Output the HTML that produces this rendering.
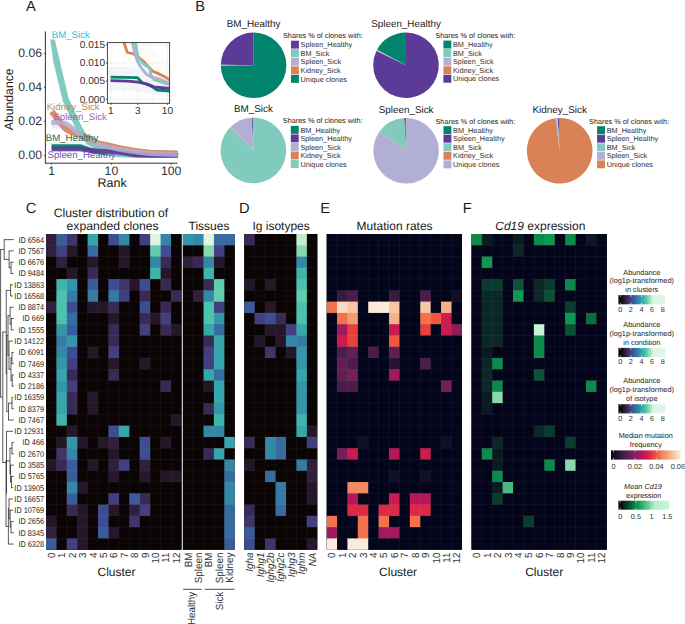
<!DOCTYPE html>
<html><head><meta charset="utf-8"><style>
html,body{margin:0;padding:0;background:#fff;}
svg{display:block;}
svg text{font-family:"Liberation Sans",sans-serif;text-rendering:geometricPrecision;}
</style></head><body>
<svg width="685" height="624" viewBox="0 0 685 624">
<rect width="685" height="624" fill="#fff"/>
<g>
<polygon points="51.60,119.50 65.00,119.50 80.00,130.00 100.00,141.00 140.00,149.00 179.00,151.50 179.00,156.50 140.00,154.00 100.00,147.00 80.00,137.00 65.00,128.50 51.60,128.50" fill="#c9c7e3" fill-opacity="0.35" />
<polygon points="51.60,141.80 80.00,141.80 110.00,150.00 179.00,153.00 179.00,158.00 110.00,157.00 80.00,152.00 51.60,152.00" fill="#b9dcd8" fill-opacity="0.3" />
<polyline points="51.60,146.50 80.00,146.50 87.00,149.00 95.00,151.50 105.00,153.00 118.00,154.00 140.00,155.00 177.60,155.30" fill="none" stroke="#00846e" stroke-width="4.6" stroke-opacity="0.95" stroke-linejoin="round" stroke-linecap="butt" />
<polygon points="50.20,39.50 54.80,39.50 60.10,62.00 53.40,62.00" fill="#80cbbe" fill-opacity="1" />
<polyline points="56.00,59.00 61.00,80.00 65.80,100.00 69.40,107.50 73.50,116.50 77.50,125.00 81.00,131.50 85.00,137.50 90.00,142.50 100.00,148.00 110.00,152.00 118.00,154.00 135.00,154.60 150.00,154.60 177.60,154.60" fill="none" stroke="#80cbbe" stroke-width="6.4" stroke-opacity="1" stroke-linejoin="round" stroke-linecap="butt" />
<polyline points="51.80,111.50 56.00,117.30 60.00,122.50 64.00,127.00 67.00,129.80 70.00,131.20 75.00,133.20 80.30,135.20 90.00,139.50 98.50,143.50 107.00,145.20 118.00,148.00 135.00,151.00 150.00,152.80 177.60,153.60" fill="none" stroke="#d98257" stroke-width="6.2" stroke-opacity="0.92" stroke-linejoin="round" stroke-linecap="butt" />
<polyline points="51.60,148.80 80.00,148.80 90.00,150.50 100.00,151.20 118.00,152.20 135.00,154.80 150.00,155.40 177.60,155.40" fill="none" stroke="#5c3a98" stroke-width="4.8" stroke-opacity="0.92" stroke-linejoin="round" stroke-linecap="butt" />
<polyline points="51.20,122.50 62.00,122.50 67.00,124.50 72.00,128.00 78.00,133.00 85.00,138.50 95.00,143.00 105.00,146.00 118.00,149.20 135.00,151.80 150.00,153.50 177.60,154.50" fill="none" stroke="#b1afd4" stroke-width="4.8" stroke-opacity="0.85" stroke-linejoin="round" stroke-linecap="butt" />
</g>
<line x1="45.4" y1="31.5" x2="45.4" y2="163.2" stroke="#1a1a1a" stroke-width="0.9"/>
<line x1="45.0" y1="163.2" x2="177.5" y2="163.2" stroke="#1a1a1a" stroke-width="0.9"/>
<line x1="43.8" y1="53.30" x2="45.4" y2="53.30" stroke="#333" stroke-width="0.8"/>
<text x="42.00" y="56.70" font-size="12.2" fill="#333333" text-anchor="end" >0.06</text>
<line x1="43.8" y1="87.30" x2="45.4" y2="87.30" stroke="#333" stroke-width="0.8"/>
<text x="42.00" y="90.70" font-size="12.2" fill="#333333" text-anchor="end" >0.04</text>
<line x1="43.8" y1="121.30" x2="45.4" y2="121.30" stroke="#333" stroke-width="0.8"/>
<text x="42.00" y="124.70" font-size="12.2" fill="#333333" text-anchor="end" >0.02</text>
<line x1="43.8" y1="155.30" x2="45.4" y2="155.30" stroke="#333" stroke-width="0.8"/>
<text x="42.00" y="158.70" font-size="12.2" fill="#333333" text-anchor="end" >0.00</text>
<line x1="51.60" y1="163.2" x2="51.60" y2="164.8" stroke="#333" stroke-width="0.8"/>
<text x="51.60" y="174.60" font-size="12.2" fill="#333333" text-anchor="middle" >1</text>
<line x1="111.40" y1="163.2" x2="111.40" y2="164.8" stroke="#333" stroke-width="0.8"/>
<text x="111.40" y="174.60" font-size="12.2" fill="#333333" text-anchor="middle" >10</text>
<line x1="171.20" y1="163.2" x2="171.20" y2="164.8" stroke="#333" stroke-width="0.8"/>
<text x="171.20" y="174.60" font-size="12.2" fill="#333333" text-anchor="middle" >100</text>
<text x="112.20" y="187.30" font-size="12.5" fill="#1a1a1a" text-anchor="middle" >Rank</text>
<text x="0.00" y="0.00" font-size="12.2" fill="#1a1a1a" text-anchor="middle" transform="translate(12.7,99.3) rotate(-90)">Abundance</text>
<text x="51.80" y="37.90" font-size="9.65" fill="#2ebfcf" text-anchor="start" >BM_Sick</text>
<text x="46.70" y="110.10" font-size="9.65" fill="#bf8b5a" text-anchor="start" >Kidney_Sick</text>
<text x="53.40" y="119.70" font-size="9.65" fill="#a462bd" text-anchor="start" >Spleen_Sick</text>
<text x="45.80" y="140.70" font-size="9.65" fill="#1c6e47" text-anchor="start" >BM_Healthy</text>
<text x="47.60" y="158.20" font-size="9.65" fill="#7355b8" text-anchor="start" >Spleen_Healthy</text>
<rect x="107.4" y="42.6" width="62.19999999999999" height="60.699999999999996" fill="#fff"/>
<clipPath id="ic"><rect x="107.4" y="42.6" width="62.2" height="60.7"/></clipPath>
<line x1="107.4" y1="90.15" x2="169.6" y2="90.15" stroke="#f2f2f2" stroke-width="0.5"/>
<line x1="107.4" y1="72.05" x2="169.6" y2="72.05" stroke="#f2f2f2" stroke-width="0.5"/>
<line x1="107.4" y1="53.95" x2="169.6" y2="53.95" stroke="#f2f2f2" stroke-width="0.5"/>
<line x1="124.30" y1="42.6" x2="124.30" y2="103.3" stroke="#f2f2f2" stroke-width="0.5"/>
<line x1="152.60" y1="42.6" x2="152.60" y2="103.3" stroke="#f2f2f2" stroke-width="0.5"/>
<line x1="107.4" y1="99.20" x2="169.6" y2="99.20" stroke="#ebebeb" stroke-width="0.7"/>
<line x1="107.4" y1="81.10" x2="169.6" y2="81.10" stroke="#ebebeb" stroke-width="0.7"/>
<line x1="107.4" y1="63.00" x2="169.6" y2="63.00" stroke="#ebebeb" stroke-width="0.7"/>
<line x1="107.4" y1="44.90" x2="169.6" y2="44.90" stroke="#ebebeb" stroke-width="0.7"/>
<line x1="110.80" y1="42.6" x2="110.80" y2="103.3" stroke="#ebebeb" stroke-width="0.7"/>
<line x1="137.81" y1="42.6" x2="137.81" y2="103.3" stroke="#ebebeb" stroke-width="0.7"/>
<line x1="167.40" y1="42.6" x2="167.40" y2="103.3" stroke="#ebebeb" stroke-width="0.7"/>
<g clip-path="url(#ic)">
<polygon points="107.00,67.00 130.00,67.00 145.00,70.00 170.00,80.00 170.00,96.00 145.00,93.00 130.00,90.00 107.00,90.00" fill="#dfe9ee" fill-opacity="0.4" />
<polygon points="125.00,42.00 145.00,42.00 170.00,62.00 170.00,84.00 150.00,76.00 138.00,60.00" fill="#fdf1ea" fill-opacity="0.3" />
<polyline points="110.60,77.20 137.20,77.60 142.40,82.70 151.80,86.40 157.00,90.00 170.00,91.00" fill="none" stroke="#00846e" stroke-width="2.8" stroke-opacity="1" stroke-linejoin="round" stroke-linecap="butt" />
<polyline points="110.60,80.60 127.80,81.10 138.20,82.20 146.60,83.80 153.90,86.90 170.00,88.40" fill="none" stroke="#5c3a98" stroke-width="2.8" stroke-opacity="1" stroke-linejoin="round" stroke-linecap="butt" />
<polyline points="122.50,38.00 127.30,52.50 132.50,53.50 138.20,56.70 144.50,62.40 148.70,67.10 152.80,71.30 159.10,73.90 165.30,77.00 170.00,80.50" fill="none" stroke="#d98257" stroke-width="2.8" stroke-opacity="1" stroke-linejoin="round" stroke-linecap="butt" />
<polyline points="134.60,38.00 136.70,50.40 138.20,57.70 143.50,64.00 149.70,68.10 150.80,74.40 153.90,79.60 160.10,81.70 170.00,85.00" fill="none" stroke="#80cbbe" stroke-width="2.8" stroke-opacity="1" stroke-linejoin="round" stroke-linecap="butt" />
<polyline points="131.50,38.00 134.60,52.50 137.20,60.80 141.40,68.10 146.60,74.40 151.80,77.50 158.00,78.50 164.30,81.10 170.00,84.10" fill="none" stroke="#b1afd4" stroke-width="2.8" stroke-opacity="1" stroke-linejoin="round" stroke-linecap="butt" />
</g>
<rect x="107.4" y="42.6" width="62.19999999999999" height="60.699999999999996" fill="none" stroke="#333" stroke-width="0.9"/>
<line x1="105.80" y1="44.90" x2="107.40" y2="44.90" stroke="#333" stroke-width="0.8"/>
<text x="105.00" y="48.20" font-size="10.1" fill="#333333" text-anchor="end" >0.015</text>
<line x1="105.80" y1="63.00" x2="107.40" y2="63.00" stroke="#333" stroke-width="0.8"/>
<text x="105.00" y="66.30" font-size="10.1" fill="#333333" text-anchor="end" >0.010</text>
<line x1="105.80" y1="81.10" x2="107.40" y2="81.10" stroke="#333" stroke-width="0.8"/>
<text x="105.00" y="84.40" font-size="10.1" fill="#333333" text-anchor="end" >0.005</text>
<line x1="105.80" y1="99.20" x2="107.40" y2="99.20" stroke="#333" stroke-width="0.8"/>
<text x="105.00" y="102.50" font-size="10.1" fill="#333333" text-anchor="end" >0.000</text>
<line x1="110.80" y1="103.30" x2="110.80" y2="104.90" stroke="#333" stroke-width="0.8"/>
<text x="110.80" y="113.90" font-size="10.1" fill="#333333" text-anchor="middle" >1</text>
<line x1="137.81" y1="103.30" x2="137.81" y2="104.90" stroke="#333" stroke-width="0.8"/>
<text x="137.81" y="113.90" font-size="10.1" fill="#333333" text-anchor="middle" >3</text>
<line x1="167.40" y1="103.30" x2="167.40" y2="104.90" stroke="#333" stroke-width="0.8"/>
<text x="167.40" y="113.90" font-size="10.1" fill="#333333" text-anchor="middle" >10</text>
<text x="26.00" y="11.20" font-size="14.7" fill="#1a1a1a" text-anchor="start" >A</text>
<text x="195.20" y="11.20" font-size="14.7" fill="#1a1a1a" text-anchor="start" >B</text>
<text x="25.80" y="212.60" font-size="14.7" fill="#1a1a1a" text-anchor="start" >C</text>
<text x="239.00" y="212.60" font-size="14.7" fill="#1a1a1a" text-anchor="start" >D</text>
<text x="320.30" y="212.60" font-size="14.7" fill="#1a1a1a" text-anchor="start" >E</text>
<text x="462.80" y="212.60" font-size="14.7" fill="#1a1a1a" text-anchor="start" >F</text>
<path d="M253.60,65.30 L253.60,32.50 A32.8,32.8 0 0 0 220.80,64.73 Z" fill="#5c3a98"/>
<path d="M253.60,65.30 L220.80,64.73 A32.8,32.8 0 0 0 220.80,65.24 Z" fill="#80cbbe"/>
<path d="M253.60,65.30 L220.80,65.24 A32.8,32.8 0 0 0 220.80,65.47 Z" fill="#b1afd4"/>
<path d="M253.60,65.30 L220.80,65.47 A32.8,32.8 0 0 0 220.80,65.82 Z" fill="#d98257"/>
<path d="M253.60,65.30 L220.80,65.82 A32.8,32.8 0 1 0 253.60,32.50 Z" fill="#00846e"/>
<text x="253.60" y="27.00" font-size="9.9" fill="#1a1a1a" text-anchor="middle" >BM_Healthy</text>
<text x="283.00" y="38.10" font-size="7.3" fill="#1a1a1a" text-anchor="start" >Shares % of clones with:</text>
<rect x="291.00" y="40.70" width="7.9" height="7.9" fill="#5c3a98"/>
<text x="300.60" y="47.30" font-size="7.3" fill="#333333" text-anchor="start" >Spleen_Healthy</text>
<rect x="291.00" y="49.25" width="7.9" height="7.9" fill="#80cbbe"/>
<text x="300.60" y="55.85" font-size="7.3" fill="#333333" text-anchor="start" >BM_Sick</text>
<rect x="291.00" y="57.80" width="7.9" height="7.9" fill="#b1afd4"/>
<text x="300.60" y="64.40" font-size="7.3" fill="#333333" text-anchor="start" >Spleen_Sick</text>
<rect x="291.00" y="66.35" width="7.9" height="7.9" fill="#d98257"/>
<text x="300.60" y="72.95" font-size="7.3" fill="#333333" text-anchor="start" >Kidney_Sick</text>
<rect x="291.00" y="74.90" width="7.9" height="7.9" fill="#00846e"/>
<text x="300.60" y="81.50" font-size="7.3" fill="#333333" text-anchor="start" >Unique clones</text>
<path d="M406.00,65.20 L406.00,32.40 A32.8,32.8 0 0 0 377.04,49.80 Z" fill="#00846e"/>
<path d="M406.00,65.20 L377.04,49.80 A32.8,32.8 0 0 0 376.77,50.31 Z" fill="#80cbbe"/>
<path d="M406.00,65.20 L376.77,50.31 A32.8,32.8 0 0 0 376.62,50.62 Z" fill="#b1afd4"/>
<path d="M406.00,65.20 L376.62,50.62 A32.8,32.8 0 0 0 376.42,51.03 Z" fill="#d98257"/>
<path d="M406.00,65.20 L376.42,51.03 A32.8,32.8 0 1 0 406.00,32.40 Z" fill="#5c3a98"/>
<text x="406.00" y="26.90" font-size="9.9" fill="#1a1a1a" text-anchor="middle" >Spleen_Healthy</text>
<text x="435.40" y="38.00" font-size="7.3" fill="#1a1a1a" text-anchor="start" >Shares % of clones with:</text>
<rect x="443.40" y="40.60" width="7.9" height="7.9" fill="#00846e"/>
<text x="453.00" y="47.20" font-size="7.3" fill="#333333" text-anchor="start" >BM_Healthy</text>
<rect x="443.40" y="49.15" width="7.9" height="7.9" fill="#80cbbe"/>
<text x="453.00" y="55.75" font-size="7.3" fill="#333333" text-anchor="start" >BM_Sick</text>
<rect x="443.40" y="57.70" width="7.9" height="7.9" fill="#b1afd4"/>
<text x="453.00" y="64.30" font-size="7.3" fill="#333333" text-anchor="start" >Spleen_Sick</text>
<rect x="443.40" y="66.25" width="7.9" height="7.9" fill="#d98257"/>
<text x="453.00" y="72.85" font-size="7.3" fill="#333333" text-anchor="start" >Kidney_Sick</text>
<rect x="443.40" y="74.80" width="7.9" height="7.9" fill="#5c3a98"/>
<text x="453.00" y="81.40" font-size="7.3" fill="#333333" text-anchor="start" >Unique clones</text>
<path d="M253.40,150.50 L253.40,117.70 A32.8,32.8 0 0 0 252.71,117.71 Z" fill="#00846e"/>
<path d="M253.40,150.50 L252.71,117.71 A32.8,32.8 0 0 0 251.57,117.75 Z" fill="#5c3a98"/>
<path d="M253.40,150.50 L251.57,117.75 A32.8,32.8 0 0 0 230.74,126.79 Z" fill="#b1afd4"/>
<path d="M253.40,150.50 L230.74,126.79 A32.8,32.8 0 0 0 230.45,127.07 Z" fill="#d98257"/>
<path d="M253.40,150.50 L230.45,127.07 A32.8,32.8 0 1 0 253.40,117.70 Z" fill="#80cbbe"/>
<text x="253.40" y="112.20" font-size="9.9" fill="#1a1a1a" text-anchor="middle" >BM_Sick</text>
<text x="282.80" y="123.30" font-size="7.3" fill="#1a1a1a" text-anchor="start" >Shares % of clones with:</text>
<rect x="290.80" y="125.90" width="7.9" height="7.9" fill="#00846e"/>
<text x="300.40" y="132.50" font-size="7.3" fill="#333333" text-anchor="start" >BM_Healthy</text>
<rect x="290.80" y="134.45" width="7.9" height="7.9" fill="#5c3a98"/>
<text x="300.40" y="141.05" font-size="7.3" fill="#333333" text-anchor="start" >Spleen_Healthy</text>
<rect x="290.80" y="143.00" width="7.9" height="7.9" fill="#b1afd4"/>
<text x="300.40" y="149.60" font-size="7.3" fill="#333333" text-anchor="start" >Spleen_Sick</text>
<rect x="290.80" y="151.55" width="7.9" height="7.9" fill="#d98257"/>
<text x="300.40" y="158.15" font-size="7.3" fill="#333333" text-anchor="start" >Kidney_Sick</text>
<rect x="290.80" y="160.10" width="7.9" height="7.9" fill="#80cbbe"/>
<text x="300.40" y="166.70" font-size="7.3" fill="#333333" text-anchor="start" >Unique clones</text>
<path d="M406.10,150.80 L406.10,118.00 A32.8,32.8 0 0 0 405.24,118.01 Z" fill="#00846e"/>
<path d="M406.10,150.80 L405.24,118.01 A32.8,32.8 0 0 0 404.10,118.06 Z" fill="#5c3a98"/>
<path d="M406.10,150.80 L404.10,118.06 A32.8,32.8 0 0 0 379.73,131.29 Z" fill="#80cbbe"/>
<path d="M406.10,150.80 L379.73,131.29 A32.8,32.8 0 0 0 379.50,131.61 Z" fill="#d98257"/>
<path d="M406.10,150.80 L379.50,131.61 A32.8,32.8 0 1 0 406.10,118.00 Z" fill="#b1afd4"/>
<text x="406.10" y="112.50" font-size="9.9" fill="#1a1a1a" text-anchor="middle" >Spleen_Sick</text>
<text x="435.50" y="123.60" font-size="7.3" fill="#1a1a1a" text-anchor="start" >Shares % of clones with:</text>
<rect x="443.50" y="126.20" width="7.9" height="7.9" fill="#00846e"/>
<text x="453.10" y="132.80" font-size="7.3" fill="#333333" text-anchor="start" >BM_Healthy</text>
<rect x="443.50" y="134.75" width="7.9" height="7.9" fill="#5c3a98"/>
<text x="453.10" y="141.35" font-size="7.3" fill="#333333" text-anchor="start" >Spleen_Healthy</text>
<rect x="443.50" y="143.30" width="7.9" height="7.9" fill="#80cbbe"/>
<text x="453.10" y="149.90" font-size="7.3" fill="#333333" text-anchor="start" >BM_Sick</text>
<rect x="443.50" y="151.85" width="7.9" height="7.9" fill="#d98257"/>
<text x="453.10" y="158.45" font-size="7.3" fill="#333333" text-anchor="start" >Kidney_Sick</text>
<rect x="443.50" y="160.40" width="7.9" height="7.9" fill="#b1afd4"/>
<text x="453.10" y="167.00" font-size="7.3" fill="#333333" text-anchor="start" >Unique clones</text>
<path d="M559.70,150.80 L559.70,118.00 A32.8,32.8 0 0 0 558.78,118.01 Z" fill="#00846e"/>
<path d="M559.70,150.80 L558.78,118.01 A32.8,32.8 0 0 0 557.64,118.06 Z" fill="#5c3a98"/>
<path d="M559.70,150.80 L557.64,118.06 A32.8,32.8 0 0 0 556.67,118.14 Z" fill="#80cbbe"/>
<path d="M559.70,150.80 L556.67,118.14 A32.8,32.8 0 0 0 555.70,118.24 Z" fill="#b1afd4"/>
<path d="M559.70,150.80 L555.70,118.24 A32.8,32.8 0 1 0 559.70,118.00 Z" fill="#d98257"/>
<text x="559.70" y="112.50" font-size="9.9" fill="#1a1a1a" text-anchor="middle" >Kidney_Sick</text>
<text x="589.10" y="123.60" font-size="7.3" fill="#1a1a1a" text-anchor="start" >Shares % of clones with:</text>
<rect x="597.10" y="126.20" width="7.9" height="7.9" fill="#00846e"/>
<text x="606.70" y="132.80" font-size="7.3" fill="#333333" text-anchor="start" >BM_Healthy</text>
<rect x="597.10" y="134.75" width="7.9" height="7.9" fill="#5c3a98"/>
<text x="606.70" y="141.35" font-size="7.3" fill="#333333" text-anchor="start" >Spleen_Healthy</text>
<rect x="597.10" y="143.30" width="7.9" height="7.9" fill="#80cbbe"/>
<text x="606.70" y="149.90" font-size="7.3" fill="#333333" text-anchor="start" >BM_Sick</text>
<rect x="597.10" y="151.85" width="7.9" height="7.9" fill="#b1afd4"/>
<text x="606.70" y="158.45" font-size="7.3" fill="#333333" text-anchor="start" >Spleen_Sick</text>
<rect x="597.10" y="160.40" width="7.9" height="7.9" fill="#d98257"/>
<text x="606.70" y="167.00" font-size="7.3" fill="#333333" text-anchor="start" >Unique clones</text>
<rect x="46.0" y="234.0" width="135.4" height="315.70" fill="#0b0405"/>
<rect x="46.00" y="234.00" width="135.40" height="315.70" fill="#0b0405"/>
<clipPath id="hc46"><rect x="46.00" y="234.00" width="135.40" height="315.70"/></clipPath>
<g clip-path="url(#hc46)">
<rect x="46.00" y="234.00" width="11.12" height="11.97" fill="#30203e"/>
<rect x="56.42" y="234.00" width="11.12" height="11.97" fill="#395d9c"/>
<rect x="66.83" y="234.00" width="11.12" height="11.97" fill="#3e356b"/>
<rect x="77.25" y="234.00" width="11.12" height="11.97" fill="#0b0405"/>
<rect x="87.66" y="234.00" width="11.12" height="11.97" fill="#37a5ac"/>
<rect x="98.08" y="234.00" width="11.12" height="11.97" fill="#0b0405"/>
<rect x="108.49" y="234.00" width="11.12" height="11.97" fill="#3e4d93"/>
<rect x="118.91" y="234.00" width="11.12" height="11.97" fill="#3488a6"/>
<rect x="129.32" y="234.00" width="11.12" height="11.97" fill="#0b0405"/>
<rect x="139.74" y="234.00" width="11.12" height="11.97" fill="#413f80"/>
<rect x="150.15" y="234.00" width="11.12" height="11.97" fill="#def5e5"/>
<rect x="160.57" y="234.00" width="11.12" height="11.97" fill="#3488a6"/>
<rect x="170.98" y="234.00" width="11.12" height="11.97" fill="#0b0405"/>
<rect x="46.00" y="245.28" width="11.12" height="11.97" fill="#30203e"/>
<rect x="56.42" y="245.28" width="11.12" height="11.97" fill="#413f80"/>
<rect x="66.83" y="245.28" width="11.12" height="11.97" fill="#251729"/>
<rect x="77.25" y="245.28" width="11.12" height="11.97" fill="#0b0405"/>
<rect x="87.66" y="245.28" width="11.12" height="11.97" fill="#366ca0"/>
<rect x="98.08" y="245.28" width="11.12" height="11.97" fill="#0b0405"/>
<rect x="108.49" y="245.28" width="11.12" height="11.97" fill="#0b0405"/>
<rect x="118.91" y="245.28" width="11.12" height="11.97" fill="#251729"/>
<rect x="129.32" y="245.28" width="11.12" height="11.97" fill="#0b0405"/>
<rect x="139.74" y="245.28" width="11.12" height="11.97" fill="#0b0405"/>
<rect x="150.15" y="245.28" width="11.12" height="11.97" fill="#60ceac"/>
<rect x="160.57" y="245.28" width="11.12" height="11.97" fill="#3e4d93"/>
<rect x="170.98" y="245.28" width="11.12" height="11.97" fill="#0b0405"/>
<rect x="46.00" y="256.55" width="11.12" height="11.97" fill="#0b0405"/>
<rect x="56.42" y="256.55" width="11.12" height="11.97" fill="#30203e"/>
<rect x="66.83" y="256.55" width="11.12" height="11.97" fill="#0b0405"/>
<rect x="77.25" y="256.55" width="11.12" height="11.97" fill="#0b0405"/>
<rect x="87.66" y="256.55" width="11.12" height="11.97" fill="#251729"/>
<rect x="98.08" y="256.55" width="11.12" height="11.97" fill="#0b0405"/>
<rect x="108.49" y="256.55" width="11.12" height="11.97" fill="#0b0405"/>
<rect x="118.91" y="256.55" width="11.12" height="11.97" fill="#251729"/>
<rect x="129.32" y="256.55" width="11.12" height="11.97" fill="#0b0405"/>
<rect x="139.74" y="256.55" width="11.12" height="11.97" fill="#0b0405"/>
<rect x="150.15" y="256.55" width="11.12" height="11.97" fill="#3488a6"/>
<rect x="160.57" y="256.55" width="11.12" height="11.97" fill="#382a54"/>
<rect x="170.98" y="256.55" width="11.12" height="11.97" fill="#0b0405"/>
<rect x="46.00" y="267.82" width="11.12" height="11.97" fill="#0b0405"/>
<rect x="56.42" y="267.82" width="11.12" height="11.97" fill="#0b0405"/>
<rect x="66.83" y="267.82" width="11.12" height="11.97" fill="#251729"/>
<rect x="77.25" y="267.82" width="11.12" height="11.97" fill="#0b0405"/>
<rect x="87.66" y="267.82" width="11.12" height="11.97" fill="#382a54"/>
<rect x="98.08" y="267.82" width="11.12" height="11.97" fill="#0b0405"/>
<rect x="108.49" y="267.82" width="11.12" height="11.97" fill="#0b0405"/>
<rect x="118.91" y="267.82" width="11.12" height="11.97" fill="#0b0405"/>
<rect x="129.32" y="267.82" width="11.12" height="11.97" fill="#0b0405"/>
<rect x="139.74" y="267.82" width="11.12" height="11.97" fill="#0b0405"/>
<rect x="150.15" y="267.82" width="11.12" height="11.97" fill="#3eb4ad"/>
<rect x="160.57" y="267.82" width="11.12" height="11.97" fill="#251729"/>
<rect x="170.98" y="267.82" width="11.12" height="11.97" fill="#0b0405"/>
<rect x="46.00" y="279.10" width="11.12" height="11.97" fill="#0b0405"/>
<rect x="56.42" y="279.10" width="11.12" height="11.97" fill="#3eb4ad"/>
<rect x="66.83" y="279.10" width="11.12" height="11.97" fill="#3497a9"/>
<rect x="77.25" y="279.10" width="11.12" height="11.97" fill="#0b0405"/>
<rect x="87.66" y="279.10" width="11.12" height="11.97" fill="#395d9c"/>
<rect x="98.08" y="279.10" width="11.12" height="11.97" fill="#0b0405"/>
<rect x="108.49" y="279.10" width="11.12" height="11.97" fill="#3e4d93"/>
<rect x="118.91" y="279.10" width="11.12" height="11.97" fill="#3e356b"/>
<rect x="129.32" y="279.10" width="11.12" height="11.97" fill="#251729"/>
<rect x="139.74" y="279.10" width="11.12" height="11.97" fill="#3e4d93"/>
<rect x="150.15" y="279.10" width="11.12" height="11.97" fill="#0b0405"/>
<rect x="160.57" y="279.10" width="11.12" height="11.97" fill="#382a54"/>
<rect x="170.98" y="279.10" width="11.12" height="11.97" fill="#0b0405"/>
<rect x="46.00" y="290.38" width="11.12" height="11.97" fill="#0b0405"/>
<rect x="56.42" y="290.38" width="11.12" height="11.97" fill="#4bc2ad"/>
<rect x="66.83" y="290.38" width="11.12" height="11.97" fill="#357ba3"/>
<rect x="77.25" y="290.38" width="11.12" height="11.97" fill="#0b0405"/>
<rect x="87.66" y="290.38" width="11.12" height="11.97" fill="#357ba3"/>
<rect x="98.08" y="290.38" width="11.12" height="11.97" fill="#0b0405"/>
<rect x="108.49" y="290.38" width="11.12" height="11.97" fill="#357ba3"/>
<rect x="118.91" y="290.38" width="11.12" height="11.97" fill="#413f80"/>
<rect x="129.32" y="290.38" width="11.12" height="11.97" fill="#0b0405"/>
<rect x="139.74" y="290.38" width="11.12" height="11.97" fill="#382a54"/>
<rect x="150.15" y="290.38" width="11.12" height="11.97" fill="#0b0405"/>
<rect x="160.57" y="290.38" width="11.12" height="11.97" fill="#0b0405"/>
<rect x="170.98" y="290.38" width="11.12" height="11.97" fill="#382a54"/>
<rect x="46.00" y="301.65" width="11.12" height="11.97" fill="#30203e"/>
<rect x="56.42" y="301.65" width="11.12" height="11.97" fill="#4bc2ad"/>
<rect x="66.83" y="301.65" width="11.12" height="11.97" fill="#3e4d93"/>
<rect x="77.25" y="301.65" width="11.12" height="11.97" fill="#0b0405"/>
<rect x="87.66" y="301.65" width="11.12" height="11.97" fill="#251729"/>
<rect x="98.08" y="301.65" width="11.12" height="11.97" fill="#251729"/>
<rect x="108.49" y="301.65" width="11.12" height="11.97" fill="#382a54"/>
<rect x="118.91" y="301.65" width="11.12" height="11.97" fill="#0b0405"/>
<rect x="129.32" y="301.65" width="11.12" height="11.97" fill="#0b0405"/>
<rect x="139.74" y="301.65" width="11.12" height="11.97" fill="#3e4d93"/>
<rect x="150.15" y="301.65" width="11.12" height="11.97" fill="#0b0405"/>
<rect x="160.57" y="301.65" width="11.12" height="11.97" fill="#382a54"/>
<rect x="170.98" y="301.65" width="11.12" height="11.97" fill="#0b0405"/>
<rect x="46.00" y="312.93" width="11.12" height="11.97" fill="#0b0405"/>
<rect x="56.42" y="312.93" width="11.12" height="11.97" fill="#4bc2ad"/>
<rect x="66.83" y="312.93" width="11.12" height="11.97" fill="#366ca0"/>
<rect x="77.25" y="312.93" width="11.12" height="11.97" fill="#0b0405"/>
<rect x="87.66" y="312.93" width="11.12" height="11.97" fill="#0b0405"/>
<rect x="98.08" y="312.93" width="11.12" height="11.97" fill="#0b0405"/>
<rect x="108.49" y="312.93" width="11.12" height="11.97" fill="#251729"/>
<rect x="118.91" y="312.93" width="11.12" height="11.97" fill="#0b0405"/>
<rect x="129.32" y="312.93" width="11.12" height="11.97" fill="#0b0405"/>
<rect x="139.74" y="312.93" width="11.12" height="11.97" fill="#382a54"/>
<rect x="150.15" y="312.93" width="11.12" height="11.97" fill="#251729"/>
<rect x="160.57" y="312.93" width="11.12" height="11.97" fill="#413f80"/>
<rect x="170.98" y="312.93" width="11.12" height="11.97" fill="#0b0405"/>
<rect x="46.00" y="324.20" width="11.12" height="11.97" fill="#0b0405"/>
<rect x="56.42" y="324.20" width="11.12" height="11.97" fill="#3497a9"/>
<rect x="66.83" y="324.20" width="11.12" height="11.97" fill="#395d9c"/>
<rect x="77.25" y="324.20" width="11.12" height="11.97" fill="#0b0405"/>
<rect x="87.66" y="324.20" width="11.12" height="11.97" fill="#0b0405"/>
<rect x="98.08" y="324.20" width="11.12" height="11.97" fill="#0b0405"/>
<rect x="108.49" y="324.20" width="11.12" height="11.97" fill="#382a54"/>
<rect x="118.91" y="324.20" width="11.12" height="11.97" fill="#0b0405"/>
<rect x="129.32" y="324.20" width="11.12" height="11.97" fill="#0b0405"/>
<rect x="139.74" y="324.20" width="11.12" height="11.97" fill="#413f80"/>
<rect x="150.15" y="324.20" width="11.12" height="11.97" fill="#0b0405"/>
<rect x="160.57" y="324.20" width="11.12" height="11.97" fill="#382a54"/>
<rect x="170.98" y="324.20" width="11.12" height="11.97" fill="#251729"/>
<rect x="46.00" y="335.48" width="11.12" height="11.97" fill="#0b0405"/>
<rect x="56.42" y="335.48" width="11.12" height="11.97" fill="#357ba3"/>
<rect x="66.83" y="335.48" width="11.12" height="11.97" fill="#3497a9"/>
<rect x="77.25" y="335.48" width="11.12" height="11.97" fill="#0b0405"/>
<rect x="87.66" y="335.48" width="11.12" height="11.97" fill="#0b0405"/>
<rect x="98.08" y="335.48" width="11.12" height="11.97" fill="#0b0405"/>
<rect x="108.49" y="335.48" width="11.12" height="11.97" fill="#382a54"/>
<rect x="118.91" y="335.48" width="11.12" height="11.97" fill="#0b0405"/>
<rect x="129.32" y="335.48" width="11.12" height="11.97" fill="#0b0405"/>
<rect x="139.74" y="335.48" width="11.12" height="11.97" fill="#0b0405"/>
<rect x="150.15" y="335.48" width="11.12" height="11.97" fill="#0b0405"/>
<rect x="160.57" y="335.48" width="11.12" height="11.97" fill="#0b0405"/>
<rect x="170.98" y="335.48" width="11.12" height="11.97" fill="#0b0405"/>
<rect x="46.00" y="346.75" width="11.12" height="11.97" fill="#0b0405"/>
<rect x="56.42" y="346.75" width="11.12" height="11.97" fill="#3488a6"/>
<rect x="66.83" y="346.75" width="11.12" height="11.97" fill="#3e4d93"/>
<rect x="77.25" y="346.75" width="11.12" height="11.97" fill="#0b0405"/>
<rect x="87.66" y="346.75" width="11.12" height="11.97" fill="#251729"/>
<rect x="98.08" y="346.75" width="11.12" height="11.97" fill="#0b0405"/>
<rect x="108.49" y="346.75" width="11.12" height="11.97" fill="#413f80"/>
<rect x="118.91" y="346.75" width="11.12" height="11.97" fill="#0b0405"/>
<rect x="129.32" y="346.75" width="11.12" height="11.97" fill="#0b0405"/>
<rect x="139.74" y="346.75" width="11.12" height="11.97" fill="#0b0405"/>
<rect x="150.15" y="346.75" width="11.12" height="11.97" fill="#0b0405"/>
<rect x="160.57" y="346.75" width="11.12" height="11.97" fill="#0b0405"/>
<rect x="170.98" y="346.75" width="11.12" height="11.97" fill="#0b0405"/>
<rect x="46.00" y="358.02" width="11.12" height="11.97" fill="#0b0405"/>
<rect x="56.42" y="358.02" width="11.12" height="11.97" fill="#3497a9"/>
<rect x="66.83" y="358.02" width="11.12" height="11.97" fill="#413f80"/>
<rect x="77.25" y="358.02" width="11.12" height="11.97" fill="#0b0405"/>
<rect x="87.66" y="358.02" width="11.12" height="11.97" fill="#0b0405"/>
<rect x="98.08" y="358.02" width="11.12" height="11.97" fill="#0b0405"/>
<rect x="108.49" y="358.02" width="11.12" height="11.97" fill="#251729"/>
<rect x="118.91" y="358.02" width="11.12" height="11.97" fill="#0b0405"/>
<rect x="129.32" y="358.02" width="11.12" height="11.97" fill="#0b0405"/>
<rect x="139.74" y="358.02" width="11.12" height="11.97" fill="#251729"/>
<rect x="150.15" y="358.02" width="11.12" height="11.97" fill="#0b0405"/>
<rect x="160.57" y="358.02" width="11.12" height="11.97" fill="#0b0405"/>
<rect x="170.98" y="358.02" width="11.12" height="11.97" fill="#0b0405"/>
<rect x="46.00" y="369.30" width="11.12" height="11.97" fill="#0b0405"/>
<rect x="56.42" y="369.30" width="11.12" height="11.97" fill="#37a5ac"/>
<rect x="66.83" y="369.30" width="11.12" height="11.97" fill="#382a54"/>
<rect x="77.25" y="369.30" width="11.12" height="11.97" fill="#0b0405"/>
<rect x="87.66" y="369.30" width="11.12" height="11.97" fill="#0b0405"/>
<rect x="98.08" y="369.30" width="11.12" height="11.97" fill="#0b0405"/>
<rect x="108.49" y="369.30" width="11.12" height="11.97" fill="#382a54"/>
<rect x="118.91" y="369.30" width="11.12" height="11.97" fill="#0b0405"/>
<rect x="129.32" y="369.30" width="11.12" height="11.97" fill="#0b0405"/>
<rect x="139.74" y="369.30" width="11.12" height="11.97" fill="#0b0405"/>
<rect x="150.15" y="369.30" width="11.12" height="11.97" fill="#0b0405"/>
<rect x="160.57" y="369.30" width="11.12" height="11.97" fill="#0b0405"/>
<rect x="170.98" y="369.30" width="11.12" height="11.97" fill="#0b0405"/>
<rect x="46.00" y="380.58" width="11.12" height="11.97" fill="#0b0405"/>
<rect x="56.42" y="380.58" width="11.12" height="11.97" fill="#3497a9"/>
<rect x="66.83" y="380.58" width="11.12" height="11.97" fill="#413f80"/>
<rect x="77.25" y="380.58" width="11.12" height="11.97" fill="#0b0405"/>
<rect x="87.66" y="380.58" width="11.12" height="11.97" fill="#0b0405"/>
<rect x="98.08" y="380.58" width="11.12" height="11.97" fill="#0b0405"/>
<rect x="108.49" y="380.58" width="11.12" height="11.97" fill="#0b0405"/>
<rect x="118.91" y="380.58" width="11.12" height="11.97" fill="#0b0405"/>
<rect x="129.32" y="380.58" width="11.12" height="11.97" fill="#0b0405"/>
<rect x="139.74" y="380.58" width="11.12" height="11.97" fill="#0b0405"/>
<rect x="150.15" y="380.58" width="11.12" height="11.97" fill="#0b0405"/>
<rect x="160.57" y="380.58" width="11.12" height="11.97" fill="#382a54"/>
<rect x="170.98" y="380.58" width="11.12" height="11.97" fill="#0b0405"/>
<rect x="46.00" y="391.85" width="11.12" height="11.97" fill="#0b0405"/>
<rect x="56.42" y="391.85" width="11.12" height="11.97" fill="#37a5ac"/>
<rect x="66.83" y="391.85" width="11.12" height="11.97" fill="#382a54"/>
<rect x="77.25" y="391.85" width="11.12" height="11.97" fill="#0b0405"/>
<rect x="87.66" y="391.85" width="11.12" height="11.97" fill="#251729"/>
<rect x="98.08" y="391.85" width="11.12" height="11.97" fill="#0b0405"/>
<rect x="108.49" y="391.85" width="11.12" height="11.97" fill="#0b0405"/>
<rect x="118.91" y="391.85" width="11.12" height="11.97" fill="#0b0405"/>
<rect x="129.32" y="391.85" width="11.12" height="11.97" fill="#0b0405"/>
<rect x="139.74" y="391.85" width="11.12" height="11.97" fill="#0b0405"/>
<rect x="150.15" y="391.85" width="11.12" height="11.97" fill="#0b0405"/>
<rect x="160.57" y="391.85" width="11.12" height="11.97" fill="#0b0405"/>
<rect x="170.98" y="391.85" width="11.12" height="11.97" fill="#0b0405"/>
<rect x="46.00" y="403.12" width="11.12" height="11.97" fill="#0b0405"/>
<rect x="56.42" y="403.12" width="11.12" height="11.97" fill="#37a5ac"/>
<rect x="66.83" y="403.12" width="11.12" height="11.97" fill="#382a54"/>
<rect x="77.25" y="403.12" width="11.12" height="11.97" fill="#0b0405"/>
<rect x="87.66" y="403.12" width="11.12" height="11.97" fill="#251729"/>
<rect x="98.08" y="403.12" width="11.12" height="11.97" fill="#0b0405"/>
<rect x="108.49" y="403.12" width="11.12" height="11.97" fill="#0b0405"/>
<rect x="118.91" y="403.12" width="11.12" height="11.97" fill="#0b0405"/>
<rect x="129.32" y="403.12" width="11.12" height="11.97" fill="#0b0405"/>
<rect x="139.74" y="403.12" width="11.12" height="11.97" fill="#0b0405"/>
<rect x="150.15" y="403.12" width="11.12" height="11.97" fill="#0b0405"/>
<rect x="160.57" y="403.12" width="11.12" height="11.97" fill="#0b0405"/>
<rect x="170.98" y="403.12" width="11.12" height="11.97" fill="#0b0405"/>
<rect x="46.00" y="414.40" width="11.12" height="11.97" fill="#0b0405"/>
<rect x="56.42" y="414.40" width="11.12" height="11.97" fill="#3eb4ad"/>
<rect x="66.83" y="414.40" width="11.12" height="11.97" fill="#0b0405"/>
<rect x="77.25" y="414.40" width="11.12" height="11.97" fill="#0b0405"/>
<rect x="87.66" y="414.40" width="11.12" height="11.97" fill="#0b0405"/>
<rect x="98.08" y="414.40" width="11.12" height="11.97" fill="#0b0405"/>
<rect x="108.49" y="414.40" width="11.12" height="11.97" fill="#0b0405"/>
<rect x="118.91" y="414.40" width="11.12" height="11.97" fill="#0b0405"/>
<rect x="129.32" y="414.40" width="11.12" height="11.97" fill="#0b0405"/>
<rect x="139.74" y="414.40" width="11.12" height="11.97" fill="#0b0405"/>
<rect x="150.15" y="414.40" width="11.12" height="11.97" fill="#0b0405"/>
<rect x="160.57" y="414.40" width="11.12" height="11.97" fill="#0b0405"/>
<rect x="170.98" y="414.40" width="11.12" height="11.97" fill="#251729"/>
<rect x="46.00" y="425.68" width="11.12" height="11.97" fill="#0b0405"/>
<rect x="56.42" y="425.68" width="11.12" height="11.97" fill="#0b0405"/>
<rect x="66.83" y="425.68" width="11.12" height="11.97" fill="#251729"/>
<rect x="77.25" y="425.68" width="11.12" height="11.97" fill="#0b0405"/>
<rect x="87.66" y="425.68" width="11.12" height="11.97" fill="#0b0405"/>
<rect x="98.08" y="425.68" width="11.12" height="11.97" fill="#0b0405"/>
<rect x="108.49" y="425.68" width="11.12" height="11.97" fill="#3e4d93"/>
<rect x="118.91" y="425.68" width="11.12" height="11.97" fill="#37a5ac"/>
<rect x="129.32" y="425.68" width="11.12" height="11.97" fill="#0b0405"/>
<rect x="139.74" y="425.68" width="11.12" height="11.97" fill="#0b0405"/>
<rect x="150.15" y="425.68" width="11.12" height="11.97" fill="#0b0405"/>
<rect x="160.57" y="425.68" width="11.12" height="11.97" fill="#0b0405"/>
<rect x="170.98" y="425.68" width="11.12" height="11.97" fill="#0b0405"/>
<rect x="46.00" y="436.95" width="11.12" height="11.97" fill="#0b0405"/>
<rect x="56.42" y="436.95" width="11.12" height="11.97" fill="#251729"/>
<rect x="66.83" y="436.95" width="11.12" height="11.97" fill="#3497a9"/>
<rect x="77.25" y="436.95" width="11.12" height="11.97" fill="#251729"/>
<rect x="87.66" y="436.95" width="11.12" height="11.97" fill="#0b0405"/>
<rect x="98.08" y="436.95" width="11.12" height="11.97" fill="#251729"/>
<rect x="108.49" y="436.95" width="11.12" height="11.97" fill="#30203e"/>
<rect x="118.91" y="436.95" width="11.12" height="11.97" fill="#0b0405"/>
<rect x="129.32" y="436.95" width="11.12" height="11.97" fill="#0b0405"/>
<rect x="139.74" y="436.95" width="11.12" height="11.97" fill="#3e4d93"/>
<rect x="150.15" y="436.95" width="11.12" height="11.97" fill="#0b0405"/>
<rect x="160.57" y="436.95" width="11.12" height="11.97" fill="#251729"/>
<rect x="170.98" y="436.95" width="11.12" height="11.97" fill="#0b0405"/>
<rect x="46.00" y="448.23" width="11.12" height="11.97" fill="#0b0405"/>
<rect x="56.42" y="448.23" width="11.12" height="11.97" fill="#3e356b"/>
<rect x="66.83" y="448.23" width="11.12" height="11.97" fill="#3488a6"/>
<rect x="77.25" y="448.23" width="11.12" height="11.97" fill="#0b0405"/>
<rect x="87.66" y="448.23" width="11.12" height="11.97" fill="#0b0405"/>
<rect x="98.08" y="448.23" width="11.12" height="11.97" fill="#0b0405"/>
<rect x="108.49" y="448.23" width="11.12" height="11.97" fill="#251729"/>
<rect x="118.91" y="448.23" width="11.12" height="11.97" fill="#0b0405"/>
<rect x="129.32" y="448.23" width="11.12" height="11.97" fill="#0b0405"/>
<rect x="139.74" y="448.23" width="11.12" height="11.97" fill="#3e4d93"/>
<rect x="150.15" y="448.23" width="11.12" height="11.97" fill="#0b0405"/>
<rect x="160.57" y="448.23" width="11.12" height="11.97" fill="#0b0405"/>
<rect x="170.98" y="448.23" width="11.12" height="11.97" fill="#0b0405"/>
<rect x="46.00" y="459.50" width="11.12" height="11.97" fill="#251729"/>
<rect x="56.42" y="459.50" width="11.12" height="11.97" fill="#382a54"/>
<rect x="66.83" y="459.50" width="11.12" height="11.97" fill="#395d9c"/>
<rect x="77.25" y="459.50" width="11.12" height="11.97" fill="#0b0405"/>
<rect x="87.66" y="459.50" width="11.12" height="11.97" fill="#251729"/>
<rect x="98.08" y="459.50" width="11.12" height="11.97" fill="#0b0405"/>
<rect x="108.49" y="459.50" width="11.12" height="11.97" fill="#30203e"/>
<rect x="118.91" y="459.50" width="11.12" height="11.97" fill="#413f80"/>
<rect x="129.32" y="459.50" width="11.12" height="11.97" fill="#0b0405"/>
<rect x="139.74" y="459.50" width="11.12" height="11.97" fill="#30203e"/>
<rect x="150.15" y="459.50" width="11.12" height="11.97" fill="#0b0405"/>
<rect x="160.57" y="459.50" width="11.12" height="11.97" fill="#0b0405"/>
<rect x="170.98" y="459.50" width="11.12" height="11.97" fill="#0b0405"/>
<rect x="46.00" y="470.77" width="11.12" height="11.97" fill="#0b0405"/>
<rect x="56.42" y="470.77" width="11.12" height="11.97" fill="#0b0405"/>
<rect x="66.83" y="470.77" width="11.12" height="11.97" fill="#395d9c"/>
<rect x="77.25" y="470.77" width="11.12" height="11.97" fill="#0b0405"/>
<rect x="87.66" y="470.77" width="11.12" height="11.97" fill="#0b0405"/>
<rect x="98.08" y="470.77" width="11.12" height="11.97" fill="#0b0405"/>
<rect x="108.49" y="470.77" width="11.12" height="11.97" fill="#251729"/>
<rect x="118.91" y="470.77" width="11.12" height="11.97" fill="#0b0405"/>
<rect x="129.32" y="470.77" width="11.12" height="11.97" fill="#0b0405"/>
<rect x="139.74" y="470.77" width="11.12" height="11.97" fill="#251729"/>
<rect x="150.15" y="470.77" width="11.12" height="11.97" fill="#0b0405"/>
<rect x="160.57" y="470.77" width="11.12" height="11.97" fill="#251729"/>
<rect x="170.98" y="470.77" width="11.12" height="11.97" fill="#251729"/>
<rect x="46.00" y="482.05" width="11.12" height="11.97" fill="#0b0405"/>
<rect x="56.42" y="482.05" width="11.12" height="11.97" fill="#0b0405"/>
<rect x="66.83" y="482.05" width="11.12" height="11.97" fill="#3488a6"/>
<rect x="77.25" y="482.05" width="11.12" height="11.97" fill="#251729"/>
<rect x="87.66" y="482.05" width="11.12" height="11.97" fill="#0b0405"/>
<rect x="98.08" y="482.05" width="11.12" height="11.97" fill="#0b0405"/>
<rect x="108.49" y="482.05" width="11.12" height="11.97" fill="#0b0405"/>
<rect x="118.91" y="482.05" width="11.12" height="11.97" fill="#0b0405"/>
<rect x="129.32" y="482.05" width="11.12" height="11.97" fill="#0b0405"/>
<rect x="139.74" y="482.05" width="11.12" height="11.97" fill="#0b0405"/>
<rect x="150.15" y="482.05" width="11.12" height="11.97" fill="#0b0405"/>
<rect x="160.57" y="482.05" width="11.12" height="11.97" fill="#0b0405"/>
<rect x="170.98" y="482.05" width="11.12" height="11.97" fill="#0b0405"/>
<rect x="46.00" y="493.32" width="11.12" height="11.97" fill="#0b0405"/>
<rect x="56.42" y="493.32" width="11.12" height="11.97" fill="#0b0405"/>
<rect x="66.83" y="493.32" width="11.12" height="11.97" fill="#395d9c"/>
<rect x="77.25" y="493.32" width="11.12" height="11.97" fill="#0b0405"/>
<rect x="87.66" y="493.32" width="11.12" height="11.97" fill="#0b0405"/>
<rect x="98.08" y="493.32" width="11.12" height="11.97" fill="#0b0405"/>
<rect x="108.49" y="493.32" width="11.12" height="11.97" fill="#413f80"/>
<rect x="118.91" y="493.32" width="11.12" height="11.97" fill="#0b0405"/>
<rect x="129.32" y="493.32" width="11.12" height="11.97" fill="#395d9c"/>
<rect x="139.74" y="493.32" width="11.12" height="11.97" fill="#382a54"/>
<rect x="150.15" y="493.32" width="11.12" height="11.97" fill="#0b0405"/>
<rect x="160.57" y="493.32" width="11.12" height="11.97" fill="#0b0405"/>
<rect x="170.98" y="493.32" width="11.12" height="11.97" fill="#0b0405"/>
<rect x="46.00" y="504.60" width="11.12" height="11.97" fill="#0b0405"/>
<rect x="56.42" y="504.60" width="11.12" height="11.97" fill="#0b0405"/>
<rect x="66.83" y="504.60" width="11.12" height="11.97" fill="#382a54"/>
<rect x="77.25" y="504.60" width="11.12" height="11.97" fill="#251729"/>
<rect x="87.66" y="504.60" width="11.12" height="11.97" fill="#0b0405"/>
<rect x="98.08" y="504.60" width="11.12" height="11.97" fill="#3e4d93"/>
<rect x="108.49" y="504.60" width="11.12" height="11.97" fill="#251729"/>
<rect x="118.91" y="504.60" width="11.12" height="11.97" fill="#0b0405"/>
<rect x="129.32" y="504.60" width="11.12" height="11.97" fill="#30203e"/>
<rect x="139.74" y="504.60" width="11.12" height="11.97" fill="#413f80"/>
<rect x="150.15" y="504.60" width="11.12" height="11.97" fill="#0b0405"/>
<rect x="160.57" y="504.60" width="11.12" height="11.97" fill="#0b0405"/>
<rect x="170.98" y="504.60" width="11.12" height="11.97" fill="#0b0405"/>
<rect x="46.00" y="515.88" width="11.12" height="11.97" fill="#251729"/>
<rect x="56.42" y="515.88" width="11.12" height="11.97" fill="#0b0405"/>
<rect x="66.83" y="515.88" width="11.12" height="11.97" fill="#0b0405"/>
<rect x="77.25" y="515.88" width="11.12" height="11.97" fill="#251729"/>
<rect x="87.66" y="515.88" width="11.12" height="11.97" fill="#0b0405"/>
<rect x="98.08" y="515.88" width="11.12" height="11.97" fill="#3e4d93"/>
<rect x="108.49" y="515.88" width="11.12" height="11.97" fill="#0b0405"/>
<rect x="118.91" y="515.88" width="11.12" height="11.97" fill="#0b0405"/>
<rect x="129.32" y="515.88" width="11.12" height="11.97" fill="#3e356b"/>
<rect x="139.74" y="515.88" width="11.12" height="11.97" fill="#0b0405"/>
<rect x="150.15" y="515.88" width="11.12" height="11.97" fill="#0b0405"/>
<rect x="160.57" y="515.88" width="11.12" height="11.97" fill="#0b0405"/>
<rect x="170.98" y="515.88" width="11.12" height="11.97" fill="#0b0405"/>
<rect x="46.00" y="527.15" width="11.12" height="11.97" fill="#30203e"/>
<rect x="56.42" y="527.15" width="11.12" height="11.97" fill="#0b0405"/>
<rect x="66.83" y="527.15" width="11.12" height="11.97" fill="#0b0405"/>
<rect x="77.25" y="527.15" width="11.12" height="11.97" fill="#251729"/>
<rect x="87.66" y="527.15" width="11.12" height="11.97" fill="#0b0405"/>
<rect x="98.08" y="527.15" width="11.12" height="11.97" fill="#395d9c"/>
<rect x="108.49" y="527.15" width="11.12" height="11.97" fill="#251729"/>
<rect x="118.91" y="527.15" width="11.12" height="11.97" fill="#0b0405"/>
<rect x="129.32" y="527.15" width="11.12" height="11.97" fill="#0b0405"/>
<rect x="139.74" y="527.15" width="11.12" height="11.97" fill="#0b0405"/>
<rect x="150.15" y="527.15" width="11.12" height="11.97" fill="#0b0405"/>
<rect x="160.57" y="527.15" width="11.12" height="11.97" fill="#0b0405"/>
<rect x="170.98" y="527.15" width="11.12" height="11.97" fill="#0b0405"/>
<rect x="46.00" y="538.42" width="11.12" height="11.97" fill="#395d9c"/>
<rect x="56.42" y="538.42" width="11.12" height="11.97" fill="#0b0405"/>
<rect x="66.83" y="538.42" width="11.12" height="11.97" fill="#413f80"/>
<rect x="77.25" y="538.42" width="11.12" height="11.97" fill="#251729"/>
<rect x="87.66" y="538.42" width="11.12" height="11.97" fill="#0b0405"/>
<rect x="98.08" y="538.42" width="11.12" height="11.97" fill="#0b0405"/>
<rect x="108.49" y="538.42" width="11.12" height="11.97" fill="#0b0405"/>
<rect x="118.91" y="538.42" width="11.12" height="11.97" fill="#0b0405"/>
<rect x="129.32" y="538.42" width="11.12" height="11.97" fill="#0b0405"/>
<rect x="139.74" y="538.42" width="11.12" height="11.97" fill="#0b0405"/>
<rect x="150.15" y="538.42" width="11.12" height="11.97" fill="#0b0405"/>
<rect x="160.57" y="538.42" width="11.12" height="11.97" fill="#0b0405"/>
<rect x="170.98" y="538.42" width="11.12" height="11.97" fill="#0b0405"/>
</g>
<line x1="56.42" y1="234.0" x2="56.42" y2="549.70" stroke="#fff" stroke-opacity="0.09" stroke-width="0.6"/>
<line x1="66.83" y1="234.0" x2="66.83" y2="549.70" stroke="#fff" stroke-opacity="0.09" stroke-width="0.6"/>
<line x1="77.25" y1="234.0" x2="77.25" y2="549.70" stroke="#fff" stroke-opacity="0.09" stroke-width="0.6"/>
<line x1="87.66" y1="234.0" x2="87.66" y2="549.70" stroke="#fff" stroke-opacity="0.09" stroke-width="0.6"/>
<line x1="98.08" y1="234.0" x2="98.08" y2="549.70" stroke="#fff" stroke-opacity="0.09" stroke-width="0.6"/>
<line x1="108.49" y1="234.0" x2="108.49" y2="549.70" stroke="#fff" stroke-opacity="0.09" stroke-width="0.6"/>
<line x1="118.91" y1="234.0" x2="118.91" y2="549.70" stroke="#fff" stroke-opacity="0.09" stroke-width="0.6"/>
<line x1="129.32" y1="234.0" x2="129.32" y2="549.70" stroke="#fff" stroke-opacity="0.09" stroke-width="0.6"/>
<line x1="139.74" y1="234.0" x2="139.74" y2="549.70" stroke="#fff" stroke-opacity="0.09" stroke-width="0.6"/>
<line x1="150.15" y1="234.0" x2="150.15" y2="549.70" stroke="#fff" stroke-opacity="0.09" stroke-width="0.6"/>
<line x1="160.57" y1="234.0" x2="160.57" y2="549.70" stroke="#fff" stroke-opacity="0.09" stroke-width="0.6"/>
<line x1="170.98" y1="234.0" x2="170.98" y2="549.70" stroke="#fff" stroke-opacity="0.09" stroke-width="0.6"/>
<line x1="46.00" y1="245.28" x2="181.40" y2="245.28" stroke="#fff" stroke-opacity="0.09" stroke-width="0.6"/>
<line x1="46.00" y1="256.55" x2="181.40" y2="256.55" stroke="#fff" stroke-opacity="0.09" stroke-width="0.6"/>
<line x1="46.00" y1="267.82" x2="181.40" y2="267.82" stroke="#fff" stroke-opacity="0.09" stroke-width="0.6"/>
<line x1="46.00" y1="279.10" x2="181.40" y2="279.10" stroke="#fff" stroke-opacity="0.09" stroke-width="0.6"/>
<line x1="46.00" y1="290.38" x2="181.40" y2="290.38" stroke="#fff" stroke-opacity="0.09" stroke-width="0.6"/>
<line x1="46.00" y1="301.65" x2="181.40" y2="301.65" stroke="#fff" stroke-opacity="0.09" stroke-width="0.6"/>
<line x1="46.00" y1="312.93" x2="181.40" y2="312.93" stroke="#fff" stroke-opacity="0.09" stroke-width="0.6"/>
<line x1="46.00" y1="324.20" x2="181.40" y2="324.20" stroke="#fff" stroke-opacity="0.09" stroke-width="0.6"/>
<line x1="46.00" y1="335.48" x2="181.40" y2="335.48" stroke="#fff" stroke-opacity="0.09" stroke-width="0.6"/>
<line x1="46.00" y1="346.75" x2="181.40" y2="346.75" stroke="#fff" stroke-opacity="0.09" stroke-width="0.6"/>
<line x1="46.00" y1="358.02" x2="181.40" y2="358.02" stroke="#fff" stroke-opacity="0.09" stroke-width="0.6"/>
<line x1="46.00" y1="369.30" x2="181.40" y2="369.30" stroke="#fff" stroke-opacity="0.09" stroke-width="0.6"/>
<line x1="46.00" y1="380.58" x2="181.40" y2="380.58" stroke="#fff" stroke-opacity="0.09" stroke-width="0.6"/>
<line x1="46.00" y1="391.85" x2="181.40" y2="391.85" stroke="#fff" stroke-opacity="0.09" stroke-width="0.6"/>
<line x1="46.00" y1="403.12" x2="181.40" y2="403.12" stroke="#fff" stroke-opacity="0.09" stroke-width="0.6"/>
<line x1="46.00" y1="414.40" x2="181.40" y2="414.40" stroke="#fff" stroke-opacity="0.09" stroke-width="0.6"/>
<line x1="46.00" y1="425.68" x2="181.40" y2="425.68" stroke="#fff" stroke-opacity="0.09" stroke-width="0.6"/>
<line x1="46.00" y1="436.95" x2="181.40" y2="436.95" stroke="#fff" stroke-opacity="0.09" stroke-width="0.6"/>
<line x1="46.00" y1="448.23" x2="181.40" y2="448.23" stroke="#fff" stroke-opacity="0.09" stroke-width="0.6"/>
<line x1="46.00" y1="459.50" x2="181.40" y2="459.50" stroke="#fff" stroke-opacity="0.09" stroke-width="0.6"/>
<line x1="46.00" y1="470.77" x2="181.40" y2="470.77" stroke="#fff" stroke-opacity="0.09" stroke-width="0.6"/>
<line x1="46.00" y1="482.05" x2="181.40" y2="482.05" stroke="#fff" stroke-opacity="0.09" stroke-width="0.6"/>
<line x1="46.00" y1="493.32" x2="181.40" y2="493.32" stroke="#fff" stroke-opacity="0.09" stroke-width="0.6"/>
<line x1="46.00" y1="504.60" x2="181.40" y2="504.60" stroke="#fff" stroke-opacity="0.09" stroke-width="0.6"/>
<line x1="46.00" y1="515.88" x2="181.40" y2="515.88" stroke="#fff" stroke-opacity="0.09" stroke-width="0.6"/>
<line x1="46.00" y1="527.15" x2="181.40" y2="527.15" stroke="#fff" stroke-opacity="0.09" stroke-width="0.6"/>
<line x1="46.00" y1="538.42" x2="181.40" y2="538.42" stroke="#fff" stroke-opacity="0.09" stroke-width="0.6"/>
<rect x="182.80" y="234.00" width="51.90" height="315.70" fill="#0b0405"/>
<clipPath id="hc182"><rect x="182.80" y="234.00" width="51.90" height="315.70"/></clipPath>
<g clip-path="url(#hc182)">
<rect x="182.80" y="234.00" width="11.08" height="11.97" fill="#3497a9"/>
<rect x="193.18" y="234.00" width="11.08" height="11.97" fill="#3488a6"/>
<rect x="203.56" y="234.00" width="11.08" height="11.97" fill="#def5e5"/>
<rect x="213.94" y="234.00" width="11.08" height="11.97" fill="#366ca0"/>
<rect x="224.32" y="234.00" width="11.08" height="11.97" fill="#366ca0"/>
<rect x="182.80" y="245.28" width="11.08" height="11.97" fill="#0b0405"/>
<rect x="193.18" y="245.28" width="11.08" height="11.97" fill="#0b0405"/>
<rect x="203.56" y="245.28" width="11.08" height="11.97" fill="#85d9b1"/>
<rect x="213.94" y="245.28" width="11.08" height="11.97" fill="#413f80"/>
<rect x="224.32" y="245.28" width="11.08" height="11.97" fill="#0b0405"/>
<rect x="182.80" y="256.55" width="11.08" height="11.97" fill="#30203e"/>
<rect x="193.18" y="256.55" width="11.08" height="11.97" fill="#382a54"/>
<rect x="203.56" y="256.55" width="11.08" height="11.97" fill="#3488a6"/>
<rect x="213.94" y="256.55" width="11.08" height="11.97" fill="#251729"/>
<rect x="224.32" y="256.55" width="11.08" height="11.97" fill="#0b0405"/>
<rect x="182.80" y="267.82" width="11.08" height="11.97" fill="#0b0405"/>
<rect x="193.18" y="267.82" width="11.08" height="11.97" fill="#0b0405"/>
<rect x="203.56" y="267.82" width="11.08" height="11.97" fill="#3eb4ad"/>
<rect x="213.94" y="267.82" width="11.08" height="11.97" fill="#0b0405"/>
<rect x="224.32" y="267.82" width="11.08" height="11.97" fill="#0b0405"/>
<rect x="182.80" y="279.10" width="11.08" height="11.97" fill="#0b0405"/>
<rect x="193.18" y="279.10" width="11.08" height="11.97" fill="#0b0405"/>
<rect x="203.56" y="279.10" width="11.08" height="11.97" fill="#382a54"/>
<rect x="213.94" y="279.10" width="11.08" height="11.97" fill="#60ceac"/>
<rect x="224.32" y="279.10" width="11.08" height="11.97" fill="#0b0405"/>
<rect x="182.80" y="290.38" width="11.08" height="11.97" fill="#0b0405"/>
<rect x="193.18" y="290.38" width="11.08" height="11.97" fill="#30203e"/>
<rect x="203.56" y="290.38" width="11.08" height="11.97" fill="#3488a6"/>
<rect x="213.94" y="290.38" width="11.08" height="11.97" fill="#60ceac"/>
<rect x="224.32" y="290.38" width="11.08" height="11.97" fill="#0b0405"/>
<rect x="182.80" y="301.65" width="11.08" height="11.97" fill="#0b0405"/>
<rect x="193.18" y="301.65" width="11.08" height="11.97" fill="#0b0405"/>
<rect x="203.56" y="301.65" width="11.08" height="11.97" fill="#4bc2ad"/>
<rect x="213.94" y="301.65" width="11.08" height="11.97" fill="#413f80"/>
<rect x="224.32" y="301.65" width="11.08" height="11.97" fill="#0b0405"/>
<rect x="182.80" y="312.93" width="11.08" height="11.97" fill="#0b0405"/>
<rect x="193.18" y="312.93" width="11.08" height="11.97" fill="#0b0405"/>
<rect x="203.56" y="312.93" width="11.08" height="11.97" fill="#4bc2ad"/>
<rect x="213.94" y="312.93" width="11.08" height="11.97" fill="#3497a9"/>
<rect x="224.32" y="312.93" width="11.08" height="11.97" fill="#0b0405"/>
<rect x="182.80" y="324.20" width="11.08" height="11.97" fill="#0b0405"/>
<rect x="193.18" y="324.20" width="11.08" height="11.97" fill="#0b0405"/>
<rect x="203.56" y="324.20" width="11.08" height="11.97" fill="#37a5ac"/>
<rect x="213.94" y="324.20" width="11.08" height="11.97" fill="#366ca0"/>
<rect x="224.32" y="324.20" width="11.08" height="11.97" fill="#0b0405"/>
<rect x="182.80" y="335.48" width="11.08" height="11.97" fill="#0b0405"/>
<rect x="193.18" y="335.48" width="11.08" height="11.97" fill="#0b0405"/>
<rect x="203.56" y="335.48" width="11.08" height="11.97" fill="#382a54"/>
<rect x="213.94" y="335.48" width="11.08" height="11.97" fill="#37a5ac"/>
<rect x="224.32" y="335.48" width="11.08" height="11.97" fill="#0b0405"/>
<rect x="182.80" y="346.75" width="11.08" height="11.97" fill="#0b0405"/>
<rect x="193.18" y="346.75" width="11.08" height="11.97" fill="#0b0405"/>
<rect x="203.56" y="346.75" width="11.08" height="11.97" fill="#413f80"/>
<rect x="213.94" y="346.75" width="11.08" height="11.97" fill="#37a5ac"/>
<rect x="224.32" y="346.75" width="11.08" height="11.97" fill="#0b0405"/>
<rect x="182.80" y="358.02" width="11.08" height="11.97" fill="#0b0405"/>
<rect x="193.18" y="358.02" width="11.08" height="11.97" fill="#0b0405"/>
<rect x="203.56" y="358.02" width="11.08" height="11.97" fill="#413f80"/>
<rect x="213.94" y="358.02" width="11.08" height="11.97" fill="#37a5ac"/>
<rect x="224.32" y="358.02" width="11.08" height="11.97" fill="#0b0405"/>
<rect x="182.80" y="369.30" width="11.08" height="11.97" fill="#0b0405"/>
<rect x="193.18" y="369.30" width="11.08" height="11.97" fill="#0b0405"/>
<rect x="203.56" y="369.30" width="11.08" height="11.97" fill="#37a5ac"/>
<rect x="213.94" y="369.30" width="11.08" height="11.97" fill="#366ca0"/>
<rect x="224.32" y="369.30" width="11.08" height="11.97" fill="#0b0405"/>
<rect x="182.80" y="380.58" width="11.08" height="11.97" fill="#0b0405"/>
<rect x="193.18" y="380.58" width="11.08" height="11.97" fill="#0b0405"/>
<rect x="203.56" y="380.58" width="11.08" height="11.97" fill="#251729"/>
<rect x="213.94" y="380.58" width="11.08" height="11.97" fill="#37a5ac"/>
<rect x="224.32" y="380.58" width="11.08" height="11.97" fill="#0b0405"/>
<rect x="182.80" y="391.85" width="11.08" height="11.97" fill="#0b0405"/>
<rect x="193.18" y="391.85" width="11.08" height="11.97" fill="#0b0405"/>
<rect x="203.56" y="391.85" width="11.08" height="11.97" fill="#0b0405"/>
<rect x="213.94" y="391.85" width="11.08" height="11.97" fill="#37a5ac"/>
<rect x="224.32" y="391.85" width="11.08" height="11.97" fill="#0b0405"/>
<rect x="182.80" y="403.12" width="11.08" height="11.97" fill="#0b0405"/>
<rect x="193.18" y="403.12" width="11.08" height="11.97" fill="#0b0405"/>
<rect x="203.56" y="403.12" width="11.08" height="11.97" fill="#382a54"/>
<rect x="213.94" y="403.12" width="11.08" height="11.97" fill="#3497a9"/>
<rect x="224.32" y="403.12" width="11.08" height="11.97" fill="#0b0405"/>
<rect x="182.80" y="414.40" width="11.08" height="11.97" fill="#0b0405"/>
<rect x="193.18" y="414.40" width="11.08" height="11.97" fill="#0b0405"/>
<rect x="203.56" y="414.40" width="11.08" height="11.97" fill="#0b0405"/>
<rect x="213.94" y="414.40" width="11.08" height="11.97" fill="#3eb4ad"/>
<rect x="224.32" y="414.40" width="11.08" height="11.97" fill="#0b0405"/>
<rect x="182.80" y="425.68" width="11.08" height="11.97" fill="#0b0405"/>
<rect x="193.18" y="425.68" width="11.08" height="11.97" fill="#0b0405"/>
<rect x="203.56" y="425.68" width="11.08" height="11.97" fill="#3488a6"/>
<rect x="213.94" y="425.68" width="11.08" height="11.97" fill="#3488a6"/>
<rect x="224.32" y="425.68" width="11.08" height="11.97" fill="#0b0405"/>
<rect x="182.80" y="436.95" width="11.08" height="11.97" fill="#0b0405"/>
<rect x="193.18" y="436.95" width="11.08" height="11.97" fill="#0b0405"/>
<rect x="203.56" y="436.95" width="11.08" height="11.97" fill="#0b0405"/>
<rect x="213.94" y="436.95" width="11.08" height="11.97" fill="#0b0405"/>
<rect x="224.32" y="436.95" width="11.08" height="11.97" fill="#37a5ac"/>
<rect x="182.80" y="448.23" width="11.08" height="11.97" fill="#0b0405"/>
<rect x="193.18" y="448.23" width="11.08" height="11.97" fill="#0b0405"/>
<rect x="203.56" y="448.23" width="11.08" height="11.97" fill="#382a54"/>
<rect x="213.94" y="448.23" width="11.08" height="11.97" fill="#37a5ac"/>
<rect x="224.32" y="448.23" width="11.08" height="11.97" fill="#0b0405"/>
<rect x="182.80" y="459.50" width="11.08" height="11.97" fill="#0b0405"/>
<rect x="193.18" y="459.50" width="11.08" height="11.97" fill="#0b0405"/>
<rect x="203.56" y="459.50" width="11.08" height="11.97" fill="#0b0405"/>
<rect x="213.94" y="459.50" width="11.08" height="11.97" fill="#0b0405"/>
<rect x="224.32" y="459.50" width="11.08" height="11.97" fill="#3488a6"/>
<rect x="182.80" y="470.77" width="11.08" height="11.97" fill="#0b0405"/>
<rect x="193.18" y="470.77" width="11.08" height="11.97" fill="#0b0405"/>
<rect x="203.56" y="470.77" width="11.08" height="11.97" fill="#0b0405"/>
<rect x="213.94" y="470.77" width="11.08" height="11.97" fill="#0b0405"/>
<rect x="224.32" y="470.77" width="11.08" height="11.97" fill="#366ca0"/>
<rect x="182.80" y="482.05" width="11.08" height="11.97" fill="#0b0405"/>
<rect x="193.18" y="482.05" width="11.08" height="11.97" fill="#0b0405"/>
<rect x="203.56" y="482.05" width="11.08" height="11.97" fill="#0b0405"/>
<rect x="213.94" y="482.05" width="11.08" height="11.97" fill="#0b0405"/>
<rect x="224.32" y="482.05" width="11.08" height="11.97" fill="#3488a6"/>
<rect x="182.80" y="493.32" width="11.08" height="11.97" fill="#0b0405"/>
<rect x="193.18" y="493.32" width="11.08" height="11.97" fill="#0b0405"/>
<rect x="203.56" y="493.32" width="11.08" height="11.97" fill="#0b0405"/>
<rect x="213.94" y="493.32" width="11.08" height="11.97" fill="#0b0405"/>
<rect x="224.32" y="493.32" width="11.08" height="11.97" fill="#3488a6"/>
<rect x="182.80" y="504.60" width="11.08" height="11.97" fill="#0b0405"/>
<rect x="193.18" y="504.60" width="11.08" height="11.97" fill="#0b0405"/>
<rect x="203.56" y="504.60" width="11.08" height="11.97" fill="#0b0405"/>
<rect x="213.94" y="504.60" width="11.08" height="11.97" fill="#0b0405"/>
<rect x="224.32" y="504.60" width="11.08" height="11.97" fill="#366ca0"/>
<rect x="182.80" y="515.88" width="11.08" height="11.97" fill="#0b0405"/>
<rect x="193.18" y="515.88" width="11.08" height="11.97" fill="#0b0405"/>
<rect x="203.56" y="515.88" width="11.08" height="11.97" fill="#0b0405"/>
<rect x="213.94" y="515.88" width="11.08" height="11.97" fill="#0b0405"/>
<rect x="224.32" y="515.88" width="11.08" height="11.97" fill="#366ca0"/>
<rect x="182.80" y="527.15" width="11.08" height="11.97" fill="#0b0405"/>
<rect x="193.18" y="527.15" width="11.08" height="11.97" fill="#0b0405"/>
<rect x="203.56" y="527.15" width="11.08" height="11.97" fill="#0b0405"/>
<rect x="213.94" y="527.15" width="11.08" height="11.97" fill="#0b0405"/>
<rect x="224.32" y="527.15" width="11.08" height="11.97" fill="#366ca0"/>
<rect x="182.80" y="538.42" width="11.08" height="11.97" fill="#0b0405"/>
<rect x="193.18" y="538.42" width="11.08" height="11.97" fill="#0b0405"/>
<rect x="203.56" y="538.42" width="11.08" height="11.97" fill="#0b0405"/>
<rect x="213.94" y="538.42" width="11.08" height="11.97" fill="#0b0405"/>
<rect x="224.32" y="538.42" width="11.08" height="11.97" fill="#395d9c"/>
</g>
<line x1="193.18" y1="234.0" x2="193.18" y2="549.70" stroke="#fff" stroke-opacity="0.09" stroke-width="0.6"/>
<line x1="203.56" y1="234.0" x2="203.56" y2="549.70" stroke="#fff" stroke-opacity="0.09" stroke-width="0.6"/>
<line x1="213.94" y1="234.0" x2="213.94" y2="549.70" stroke="#fff" stroke-opacity="0.09" stroke-width="0.6"/>
<line x1="224.32" y1="234.0" x2="224.32" y2="549.70" stroke="#fff" stroke-opacity="0.09" stroke-width="0.6"/>
<line x1="182.80" y1="245.28" x2="234.70" y2="245.28" stroke="#fff" stroke-opacity="0.09" stroke-width="0.6"/>
<line x1="182.80" y1="256.55" x2="234.70" y2="256.55" stroke="#fff" stroke-opacity="0.09" stroke-width="0.6"/>
<line x1="182.80" y1="267.82" x2="234.70" y2="267.82" stroke="#fff" stroke-opacity="0.09" stroke-width="0.6"/>
<line x1="182.80" y1="279.10" x2="234.70" y2="279.10" stroke="#fff" stroke-opacity="0.09" stroke-width="0.6"/>
<line x1="182.80" y1="290.38" x2="234.70" y2="290.38" stroke="#fff" stroke-opacity="0.09" stroke-width="0.6"/>
<line x1="182.80" y1="301.65" x2="234.70" y2="301.65" stroke="#fff" stroke-opacity="0.09" stroke-width="0.6"/>
<line x1="182.80" y1="312.93" x2="234.70" y2="312.93" stroke="#fff" stroke-opacity="0.09" stroke-width="0.6"/>
<line x1="182.80" y1="324.20" x2="234.70" y2="324.20" stroke="#fff" stroke-opacity="0.09" stroke-width="0.6"/>
<line x1="182.80" y1="335.48" x2="234.70" y2="335.48" stroke="#fff" stroke-opacity="0.09" stroke-width="0.6"/>
<line x1="182.80" y1="346.75" x2="234.70" y2="346.75" stroke="#fff" stroke-opacity="0.09" stroke-width="0.6"/>
<line x1="182.80" y1="358.02" x2="234.70" y2="358.02" stroke="#fff" stroke-opacity="0.09" stroke-width="0.6"/>
<line x1="182.80" y1="369.30" x2="234.70" y2="369.30" stroke="#fff" stroke-opacity="0.09" stroke-width="0.6"/>
<line x1="182.80" y1="380.58" x2="234.70" y2="380.58" stroke="#fff" stroke-opacity="0.09" stroke-width="0.6"/>
<line x1="182.80" y1="391.85" x2="234.70" y2="391.85" stroke="#fff" stroke-opacity="0.09" stroke-width="0.6"/>
<line x1="182.80" y1="403.12" x2="234.70" y2="403.12" stroke="#fff" stroke-opacity="0.09" stroke-width="0.6"/>
<line x1="182.80" y1="414.40" x2="234.70" y2="414.40" stroke="#fff" stroke-opacity="0.09" stroke-width="0.6"/>
<line x1="182.80" y1="425.68" x2="234.70" y2="425.68" stroke="#fff" stroke-opacity="0.09" stroke-width="0.6"/>
<line x1="182.80" y1="436.95" x2="234.70" y2="436.95" stroke="#fff" stroke-opacity="0.09" stroke-width="0.6"/>
<line x1="182.80" y1="448.23" x2="234.70" y2="448.23" stroke="#fff" stroke-opacity="0.09" stroke-width="0.6"/>
<line x1="182.80" y1="459.50" x2="234.70" y2="459.50" stroke="#fff" stroke-opacity="0.09" stroke-width="0.6"/>
<line x1="182.80" y1="470.77" x2="234.70" y2="470.77" stroke="#fff" stroke-opacity="0.09" stroke-width="0.6"/>
<line x1="182.80" y1="482.05" x2="234.70" y2="482.05" stroke="#fff" stroke-opacity="0.09" stroke-width="0.6"/>
<line x1="182.80" y1="493.32" x2="234.70" y2="493.32" stroke="#fff" stroke-opacity="0.09" stroke-width="0.6"/>
<line x1="182.80" y1="504.60" x2="234.70" y2="504.60" stroke="#fff" stroke-opacity="0.09" stroke-width="0.6"/>
<line x1="182.80" y1="515.88" x2="234.70" y2="515.88" stroke="#fff" stroke-opacity="0.09" stroke-width="0.6"/>
<line x1="182.80" y1="527.15" x2="234.70" y2="527.15" stroke="#fff" stroke-opacity="0.09" stroke-width="0.6"/>
<line x1="182.80" y1="538.42" x2="234.70" y2="538.42" stroke="#fff" stroke-opacity="0.09" stroke-width="0.6"/>
<rect x="244.20" y="234.00" width="73.10" height="315.70" fill="#0b0405"/>
<clipPath id="hc244"><rect x="244.20" y="234.00" width="73.10" height="315.70"/></clipPath>
<g clip-path="url(#hc244)">
<rect x="244.20" y="234.00" width="11.14" height="11.97" fill="#382a54"/>
<rect x="254.64" y="234.00" width="11.14" height="11.97" fill="#0b0405"/>
<rect x="265.09" y="234.00" width="11.14" height="11.97" fill="#0b0405"/>
<rect x="275.53" y="234.00" width="11.14" height="11.97" fill="#0b0405"/>
<rect x="285.97" y="234.00" width="11.14" height="11.97" fill="#0b0405"/>
<rect x="296.41" y="234.00" width="11.14" height="11.97" fill="#c6ebd1"/>
<rect x="306.86" y="234.00" width="11.14" height="11.97" fill="#0b0405"/>
<rect x="244.20" y="245.28" width="11.14" height="11.97" fill="#0b0405"/>
<rect x="254.64" y="245.28" width="11.14" height="11.97" fill="#0b0405"/>
<rect x="265.09" y="245.28" width="11.14" height="11.97" fill="#0b0405"/>
<rect x="275.53" y="245.28" width="11.14" height="11.97" fill="#0b0405"/>
<rect x="285.97" y="245.28" width="11.14" height="11.97" fill="#0b0405"/>
<rect x="296.41" y="245.28" width="11.14" height="11.97" fill="#85d9b1"/>
<rect x="306.86" y="245.28" width="11.14" height="11.97" fill="#0b0405"/>
<rect x="244.20" y="256.55" width="11.14" height="11.97" fill="#0b0405"/>
<rect x="254.64" y="256.55" width="11.14" height="11.97" fill="#0b0405"/>
<rect x="265.09" y="256.55" width="11.14" height="11.97" fill="#0b0405"/>
<rect x="275.53" y="256.55" width="11.14" height="11.97" fill="#0b0405"/>
<rect x="285.97" y="256.55" width="11.14" height="11.97" fill="#0b0405"/>
<rect x="296.41" y="256.55" width="11.14" height="11.97" fill="#3488a6"/>
<rect x="306.86" y="256.55" width="11.14" height="11.97" fill="#0b0405"/>
<rect x="244.20" y="267.82" width="11.14" height="11.97" fill="#0b0405"/>
<rect x="254.64" y="267.82" width="11.14" height="11.97" fill="#0b0405"/>
<rect x="265.09" y="267.82" width="11.14" height="11.97" fill="#0b0405"/>
<rect x="275.53" y="267.82" width="11.14" height="11.97" fill="#0b0405"/>
<rect x="285.97" y="267.82" width="11.14" height="11.97" fill="#0b0405"/>
<rect x="296.41" y="267.82" width="11.14" height="11.97" fill="#3eb4ad"/>
<rect x="306.86" y="267.82" width="11.14" height="11.97" fill="#0b0405"/>
<rect x="244.20" y="279.10" width="11.14" height="11.97" fill="#251729"/>
<rect x="254.64" y="279.10" width="11.14" height="11.97" fill="#0b0405"/>
<rect x="265.09" y="279.10" width="11.14" height="11.97" fill="#251729"/>
<rect x="275.53" y="279.10" width="11.14" height="11.97" fill="#0b0405"/>
<rect x="285.97" y="279.10" width="11.14" height="11.97" fill="#0b0405"/>
<rect x="296.41" y="279.10" width="11.14" height="11.97" fill="#4bc2ad"/>
<rect x="306.86" y="279.10" width="11.14" height="11.97" fill="#0b0405"/>
<rect x="244.20" y="290.38" width="11.14" height="11.97" fill="#0b0405"/>
<rect x="254.64" y="290.38" width="11.14" height="11.97" fill="#0b0405"/>
<rect x="265.09" y="290.38" width="11.14" height="11.97" fill="#0b0405"/>
<rect x="275.53" y="290.38" width="11.14" height="11.97" fill="#0b0405"/>
<rect x="285.97" y="290.38" width="11.14" height="11.97" fill="#0b0405"/>
<rect x="296.41" y="290.38" width="11.14" height="11.97" fill="#60ceac"/>
<rect x="306.86" y="290.38" width="11.14" height="11.97" fill="#0b0405"/>
<rect x="244.20" y="301.65" width="11.14" height="11.97" fill="#395d9c"/>
<rect x="254.64" y="301.65" width="11.14" height="11.97" fill="#0b0405"/>
<rect x="265.09" y="301.65" width="11.14" height="11.97" fill="#251729"/>
<rect x="275.53" y="301.65" width="11.14" height="11.97" fill="#0b0405"/>
<rect x="285.97" y="301.65" width="11.14" height="11.97" fill="#0b0405"/>
<rect x="296.41" y="301.65" width="11.14" height="11.97" fill="#4bc2ad"/>
<rect x="306.86" y="301.65" width="11.14" height="11.97" fill="#0b0405"/>
<rect x="244.20" y="312.93" width="11.14" height="11.97" fill="#0b0405"/>
<rect x="254.64" y="312.93" width="11.14" height="11.97" fill="#413f80"/>
<rect x="265.09" y="312.93" width="11.14" height="11.97" fill="#3e4d93"/>
<rect x="275.53" y="312.93" width="11.14" height="11.97" fill="#382a54"/>
<rect x="285.97" y="312.93" width="11.14" height="11.97" fill="#0b0405"/>
<rect x="296.41" y="312.93" width="11.14" height="11.97" fill="#4bc2ad"/>
<rect x="306.86" y="312.93" width="11.14" height="11.97" fill="#0b0405"/>
<rect x="244.20" y="324.20" width="11.14" height="11.97" fill="#0b0405"/>
<rect x="254.64" y="324.20" width="11.14" height="11.97" fill="#0b0405"/>
<rect x="265.09" y="324.20" width="11.14" height="11.97" fill="#251729"/>
<rect x="275.53" y="324.20" width="11.14" height="11.97" fill="#251729"/>
<rect x="285.97" y="324.20" width="11.14" height="11.97" fill="#413f80"/>
<rect x="296.41" y="324.20" width="11.14" height="11.97" fill="#37a5ac"/>
<rect x="306.86" y="324.20" width="11.14" height="11.97" fill="#0b0405"/>
<rect x="244.20" y="335.48" width="11.14" height="11.97" fill="#0b0405"/>
<rect x="254.64" y="335.48" width="11.14" height="11.97" fill="#251729"/>
<rect x="265.09" y="335.48" width="11.14" height="11.97" fill="#0b0405"/>
<rect x="275.53" y="335.48" width="11.14" height="11.97" fill="#251729"/>
<rect x="285.97" y="335.48" width="11.14" height="11.97" fill="#3488a6"/>
<rect x="296.41" y="335.48" width="11.14" height="11.97" fill="#357ba3"/>
<rect x="306.86" y="335.48" width="11.14" height="11.97" fill="#0b0405"/>
<rect x="244.20" y="346.75" width="11.14" height="11.97" fill="#0b0405"/>
<rect x="254.64" y="346.75" width="11.14" height="11.97" fill="#0b0405"/>
<rect x="265.09" y="346.75" width="11.14" height="11.97" fill="#3e356b"/>
<rect x="275.53" y="346.75" width="11.14" height="11.97" fill="#0b0405"/>
<rect x="285.97" y="346.75" width="11.14" height="11.97" fill="#251729"/>
<rect x="296.41" y="346.75" width="11.14" height="11.97" fill="#3497a9"/>
<rect x="306.86" y="346.75" width="11.14" height="11.97" fill="#0b0405"/>
<rect x="244.20" y="358.02" width="11.14" height="11.97" fill="#0b0405"/>
<rect x="254.64" y="358.02" width="11.14" height="11.97" fill="#0b0405"/>
<rect x="265.09" y="358.02" width="11.14" height="11.97" fill="#0b0405"/>
<rect x="275.53" y="358.02" width="11.14" height="11.97" fill="#0b0405"/>
<rect x="285.97" y="358.02" width="11.14" height="11.97" fill="#0b0405"/>
<rect x="296.41" y="358.02" width="11.14" height="11.97" fill="#3497a9"/>
<rect x="306.86" y="358.02" width="11.14" height="11.97" fill="#0b0405"/>
<rect x="244.20" y="369.30" width="11.14" height="11.97" fill="#0b0405"/>
<rect x="254.64" y="369.30" width="11.14" height="11.97" fill="#0b0405"/>
<rect x="265.09" y="369.30" width="11.14" height="11.97" fill="#0b0405"/>
<rect x="275.53" y="369.30" width="11.14" height="11.97" fill="#0b0405"/>
<rect x="285.97" y="369.30" width="11.14" height="11.97" fill="#0b0405"/>
<rect x="296.41" y="369.30" width="11.14" height="11.97" fill="#37a5ac"/>
<rect x="306.86" y="369.30" width="11.14" height="11.97" fill="#0b0405"/>
<rect x="244.20" y="380.58" width="11.14" height="11.97" fill="#0b0405"/>
<rect x="254.64" y="380.58" width="11.14" height="11.97" fill="#0b0405"/>
<rect x="265.09" y="380.58" width="11.14" height="11.97" fill="#0b0405"/>
<rect x="275.53" y="380.58" width="11.14" height="11.97" fill="#0b0405"/>
<rect x="285.97" y="380.58" width="11.14" height="11.97" fill="#0b0405"/>
<rect x="296.41" y="380.58" width="11.14" height="11.97" fill="#3497a9"/>
<rect x="306.86" y="380.58" width="11.14" height="11.97" fill="#0b0405"/>
<rect x="244.20" y="391.85" width="11.14" height="11.97" fill="#0b0405"/>
<rect x="254.64" y="391.85" width="11.14" height="11.97" fill="#0b0405"/>
<rect x="265.09" y="391.85" width="11.14" height="11.97" fill="#0b0405"/>
<rect x="275.53" y="391.85" width="11.14" height="11.97" fill="#0b0405"/>
<rect x="285.97" y="391.85" width="11.14" height="11.97" fill="#0b0405"/>
<rect x="296.41" y="391.85" width="11.14" height="11.97" fill="#3497a9"/>
<rect x="306.86" y="391.85" width="11.14" height="11.97" fill="#0b0405"/>
<rect x="244.20" y="403.12" width="11.14" height="11.97" fill="#0b0405"/>
<rect x="254.64" y="403.12" width="11.14" height="11.97" fill="#0b0405"/>
<rect x="265.09" y="403.12" width="11.14" height="11.97" fill="#0b0405"/>
<rect x="275.53" y="403.12" width="11.14" height="11.97" fill="#0b0405"/>
<rect x="285.97" y="403.12" width="11.14" height="11.97" fill="#0b0405"/>
<rect x="296.41" y="403.12" width="11.14" height="11.97" fill="#3497a9"/>
<rect x="306.86" y="403.12" width="11.14" height="11.97" fill="#0b0405"/>
<rect x="244.20" y="414.40" width="11.14" height="11.97" fill="#0b0405"/>
<rect x="254.64" y="414.40" width="11.14" height="11.97" fill="#0b0405"/>
<rect x="265.09" y="414.40" width="11.14" height="11.97" fill="#0b0405"/>
<rect x="275.53" y="414.40" width="11.14" height="11.97" fill="#0b0405"/>
<rect x="285.97" y="414.40" width="11.14" height="11.97" fill="#0b0405"/>
<rect x="296.41" y="414.40" width="11.14" height="11.97" fill="#3eb4ad"/>
<rect x="306.86" y="414.40" width="11.14" height="11.97" fill="#0b0405"/>
<rect x="244.20" y="425.68" width="11.14" height="11.97" fill="#0b0405"/>
<rect x="254.64" y="425.68" width="11.14" height="11.97" fill="#0b0405"/>
<rect x="265.09" y="425.68" width="11.14" height="11.97" fill="#0b0405"/>
<rect x="275.53" y="425.68" width="11.14" height="11.97" fill="#0b0405"/>
<rect x="285.97" y="425.68" width="11.14" height="11.97" fill="#0b0405"/>
<rect x="296.41" y="425.68" width="11.14" height="11.97" fill="#37a5ac"/>
<rect x="306.86" y="425.68" width="11.14" height="11.97" fill="#251729"/>
<rect x="244.20" y="436.95" width="11.14" height="11.97" fill="#382a54"/>
<rect x="254.64" y="436.95" width="11.14" height="11.97" fill="#0b0405"/>
<rect x="265.09" y="436.95" width="11.14" height="11.97" fill="#3488a6"/>
<rect x="275.53" y="436.95" width="11.14" height="11.97" fill="#366ca0"/>
<rect x="285.97" y="436.95" width="11.14" height="11.97" fill="#0b0405"/>
<rect x="296.41" y="436.95" width="11.14" height="11.97" fill="#0b0405"/>
<rect x="306.86" y="436.95" width="11.14" height="11.97" fill="#413f80"/>
<rect x="244.20" y="448.23" width="11.14" height="11.97" fill="#0b0405"/>
<rect x="254.64" y="448.23" width="11.14" height="11.97" fill="#0b0405"/>
<rect x="265.09" y="448.23" width="11.14" height="11.97" fill="#3488a6"/>
<rect x="275.53" y="448.23" width="11.14" height="11.97" fill="#366ca0"/>
<rect x="285.97" y="448.23" width="11.14" height="11.97" fill="#0b0405"/>
<rect x="296.41" y="448.23" width="11.14" height="11.97" fill="#0b0405"/>
<rect x="306.86" y="448.23" width="11.14" height="11.97" fill="#0b0405"/>
<rect x="244.20" y="459.50" width="11.14" height="11.97" fill="#251729"/>
<rect x="254.64" y="459.50" width="11.14" height="11.97" fill="#0b0405"/>
<rect x="265.09" y="459.50" width="11.14" height="11.97" fill="#0b0405"/>
<rect x="275.53" y="459.50" width="11.14" height="11.97" fill="#0b0405"/>
<rect x="285.97" y="459.50" width="11.14" height="11.97" fill="#0b0405"/>
<rect x="296.41" y="459.50" width="11.14" height="11.97" fill="#357ba3"/>
<rect x="306.86" y="459.50" width="11.14" height="11.97" fill="#30203e"/>
<rect x="244.20" y="470.77" width="11.14" height="11.97" fill="#0b0405"/>
<rect x="254.64" y="470.77" width="11.14" height="11.97" fill="#0b0405"/>
<rect x="265.09" y="470.77" width="11.14" height="11.97" fill="#366ca0"/>
<rect x="275.53" y="470.77" width="11.14" height="11.97" fill="#0b0405"/>
<rect x="285.97" y="470.77" width="11.14" height="11.97" fill="#0b0405"/>
<rect x="296.41" y="470.77" width="11.14" height="11.97" fill="#0b0405"/>
<rect x="306.86" y="470.77" width="11.14" height="11.97" fill="#30203e"/>
<rect x="244.20" y="482.05" width="11.14" height="11.97" fill="#0b0405"/>
<rect x="254.64" y="482.05" width="11.14" height="11.97" fill="#0b0405"/>
<rect x="265.09" y="482.05" width="11.14" height="11.97" fill="#0b0405"/>
<rect x="275.53" y="482.05" width="11.14" height="11.97" fill="#357ba3"/>
<rect x="285.97" y="482.05" width="11.14" height="11.97" fill="#0b0405"/>
<rect x="296.41" y="482.05" width="11.14" height="11.97" fill="#0b0405"/>
<rect x="306.86" y="482.05" width="11.14" height="11.97" fill="#251729"/>
<rect x="244.20" y="493.32" width="11.14" height="11.97" fill="#0b0405"/>
<rect x="254.64" y="493.32" width="11.14" height="11.97" fill="#0b0405"/>
<rect x="265.09" y="493.32" width="11.14" height="11.97" fill="#0b0405"/>
<rect x="275.53" y="493.32" width="11.14" height="11.97" fill="#357ba3"/>
<rect x="285.97" y="493.32" width="11.14" height="11.97" fill="#0b0405"/>
<rect x="296.41" y="493.32" width="11.14" height="11.97" fill="#0b0405"/>
<rect x="306.86" y="493.32" width="11.14" height="11.97" fill="#251729"/>
<rect x="244.20" y="504.60" width="11.14" height="11.97" fill="#382a54"/>
<rect x="254.64" y="504.60" width="11.14" height="11.97" fill="#0b0405"/>
<rect x="265.09" y="504.60" width="11.14" height="11.97" fill="#0b0405"/>
<rect x="275.53" y="504.60" width="11.14" height="11.97" fill="#366ca0"/>
<rect x="285.97" y="504.60" width="11.14" height="11.97" fill="#0b0405"/>
<rect x="296.41" y="504.60" width="11.14" height="11.97" fill="#0b0405"/>
<rect x="306.86" y="504.60" width="11.14" height="11.97" fill="#0b0405"/>
<rect x="244.20" y="515.88" width="11.14" height="11.97" fill="#3e356b"/>
<rect x="254.64" y="515.88" width="11.14" height="11.97" fill="#0b0405"/>
<rect x="265.09" y="515.88" width="11.14" height="11.97" fill="#0b0405"/>
<rect x="275.53" y="515.88" width="11.14" height="11.97" fill="#0b0405"/>
<rect x="285.97" y="515.88" width="11.14" height="11.97" fill="#0b0405"/>
<rect x="296.41" y="515.88" width="11.14" height="11.97" fill="#0b0405"/>
<rect x="306.86" y="515.88" width="11.14" height="11.97" fill="#413f80"/>
<rect x="244.20" y="527.15" width="11.14" height="11.97" fill="#395d9c"/>
<rect x="254.64" y="527.15" width="11.14" height="11.97" fill="#0b0405"/>
<rect x="265.09" y="527.15" width="11.14" height="11.97" fill="#0b0405"/>
<rect x="275.53" y="527.15" width="11.14" height="11.97" fill="#0b0405"/>
<rect x="285.97" y="527.15" width="11.14" height="11.97" fill="#0b0405"/>
<rect x="296.41" y="527.15" width="11.14" height="11.97" fill="#0b0405"/>
<rect x="306.86" y="527.15" width="11.14" height="11.97" fill="#0b0405"/>
<rect x="244.20" y="538.42" width="11.14" height="11.97" fill="#3e4d93"/>
<rect x="254.64" y="538.42" width="11.14" height="11.97" fill="#0b0405"/>
<rect x="265.09" y="538.42" width="11.14" height="11.97" fill="#3e356b"/>
<rect x="275.53" y="538.42" width="11.14" height="11.97" fill="#0b0405"/>
<rect x="285.97" y="538.42" width="11.14" height="11.97" fill="#0b0405"/>
<rect x="296.41" y="538.42" width="11.14" height="11.97" fill="#0b0405"/>
<rect x="306.86" y="538.42" width="11.14" height="11.97" fill="#251729"/>
</g>
<line x1="254.64" y1="234.0" x2="254.64" y2="549.70" stroke="#fff" stroke-opacity="0.09" stroke-width="0.6"/>
<line x1="265.09" y1="234.0" x2="265.09" y2="549.70" stroke="#fff" stroke-opacity="0.09" stroke-width="0.6"/>
<line x1="275.53" y1="234.0" x2="275.53" y2="549.70" stroke="#fff" stroke-opacity="0.09" stroke-width="0.6"/>
<line x1="285.97" y1="234.0" x2="285.97" y2="549.70" stroke="#fff" stroke-opacity="0.09" stroke-width="0.6"/>
<line x1="296.41" y1="234.0" x2="296.41" y2="549.70" stroke="#fff" stroke-opacity="0.09" stroke-width="0.6"/>
<line x1="306.86" y1="234.0" x2="306.86" y2="549.70" stroke="#fff" stroke-opacity="0.09" stroke-width="0.6"/>
<line x1="244.20" y1="245.28" x2="317.30" y2="245.28" stroke="#fff" stroke-opacity="0.09" stroke-width="0.6"/>
<line x1="244.20" y1="256.55" x2="317.30" y2="256.55" stroke="#fff" stroke-opacity="0.09" stroke-width="0.6"/>
<line x1="244.20" y1="267.82" x2="317.30" y2="267.82" stroke="#fff" stroke-opacity="0.09" stroke-width="0.6"/>
<line x1="244.20" y1="279.10" x2="317.30" y2="279.10" stroke="#fff" stroke-opacity="0.09" stroke-width="0.6"/>
<line x1="244.20" y1="290.38" x2="317.30" y2="290.38" stroke="#fff" stroke-opacity="0.09" stroke-width="0.6"/>
<line x1="244.20" y1="301.65" x2="317.30" y2="301.65" stroke="#fff" stroke-opacity="0.09" stroke-width="0.6"/>
<line x1="244.20" y1="312.93" x2="317.30" y2="312.93" stroke="#fff" stroke-opacity="0.09" stroke-width="0.6"/>
<line x1="244.20" y1="324.20" x2="317.30" y2="324.20" stroke="#fff" stroke-opacity="0.09" stroke-width="0.6"/>
<line x1="244.20" y1="335.48" x2="317.30" y2="335.48" stroke="#fff" stroke-opacity="0.09" stroke-width="0.6"/>
<line x1="244.20" y1="346.75" x2="317.30" y2="346.75" stroke="#fff" stroke-opacity="0.09" stroke-width="0.6"/>
<line x1="244.20" y1="358.02" x2="317.30" y2="358.02" stroke="#fff" stroke-opacity="0.09" stroke-width="0.6"/>
<line x1="244.20" y1="369.30" x2="317.30" y2="369.30" stroke="#fff" stroke-opacity="0.09" stroke-width="0.6"/>
<line x1="244.20" y1="380.58" x2="317.30" y2="380.58" stroke="#fff" stroke-opacity="0.09" stroke-width="0.6"/>
<line x1="244.20" y1="391.85" x2="317.30" y2="391.85" stroke="#fff" stroke-opacity="0.09" stroke-width="0.6"/>
<line x1="244.20" y1="403.12" x2="317.30" y2="403.12" stroke="#fff" stroke-opacity="0.09" stroke-width="0.6"/>
<line x1="244.20" y1="414.40" x2="317.30" y2="414.40" stroke="#fff" stroke-opacity="0.09" stroke-width="0.6"/>
<line x1="244.20" y1="425.68" x2="317.30" y2="425.68" stroke="#fff" stroke-opacity="0.09" stroke-width="0.6"/>
<line x1="244.20" y1="436.95" x2="317.30" y2="436.95" stroke="#fff" stroke-opacity="0.09" stroke-width="0.6"/>
<line x1="244.20" y1="448.23" x2="317.30" y2="448.23" stroke="#fff" stroke-opacity="0.09" stroke-width="0.6"/>
<line x1="244.20" y1="459.50" x2="317.30" y2="459.50" stroke="#fff" stroke-opacity="0.09" stroke-width="0.6"/>
<line x1="244.20" y1="470.77" x2="317.30" y2="470.77" stroke="#fff" stroke-opacity="0.09" stroke-width="0.6"/>
<line x1="244.20" y1="482.05" x2="317.30" y2="482.05" stroke="#fff" stroke-opacity="0.09" stroke-width="0.6"/>
<line x1="244.20" y1="493.32" x2="317.30" y2="493.32" stroke="#fff" stroke-opacity="0.09" stroke-width="0.6"/>
<line x1="244.20" y1="504.60" x2="317.30" y2="504.60" stroke="#fff" stroke-opacity="0.09" stroke-width="0.6"/>
<line x1="244.20" y1="515.88" x2="317.30" y2="515.88" stroke="#fff" stroke-opacity="0.09" stroke-width="0.6"/>
<line x1="244.20" y1="527.15" x2="317.30" y2="527.15" stroke="#fff" stroke-opacity="0.09" stroke-width="0.6"/>
<line x1="244.20" y1="538.42" x2="317.30" y2="538.42" stroke="#fff" stroke-opacity="0.09" stroke-width="0.6"/>
<rect x="326.60" y="234.00" width="135.30" height="315.70" fill="#03051a"/>
<clipPath id="hc326"><rect x="326.60" y="234.00" width="135.30" height="315.70"/></clipPath>
<g clip-path="url(#hc326)">
<rect x="326.60" y="234.00" width="11.11" height="11.97" fill="#03051a"/>
<rect x="337.01" y="234.00" width="11.11" height="11.97" fill="#03051a"/>
<rect x="347.42" y="234.00" width="11.11" height="11.97" fill="#03051a"/>
<rect x="357.82" y="234.00" width="11.11" height="11.97" fill="#03051a"/>
<rect x="368.23" y="234.00" width="11.11" height="11.97" fill="#03051a"/>
<rect x="378.64" y="234.00" width="11.11" height="11.97" fill="#03051a"/>
<rect x="389.05" y="234.00" width="11.11" height="11.97" fill="#03051a"/>
<rect x="399.45" y="234.00" width="11.11" height="11.97" fill="#03051a"/>
<rect x="409.86" y="234.00" width="11.11" height="11.97" fill="#03051a"/>
<rect x="420.27" y="234.00" width="11.11" height="11.97" fill="#03051a"/>
<rect x="430.68" y="234.00" width="11.11" height="11.97" fill="#03051a"/>
<rect x="441.08" y="234.00" width="11.11" height="11.97" fill="#03051a"/>
<rect x="451.49" y="234.00" width="11.11" height="11.97" fill="#03051a"/>
<rect x="326.60" y="245.28" width="11.11" height="11.97" fill="#03051a"/>
<rect x="337.01" y="245.28" width="11.11" height="11.97" fill="#03051a"/>
<rect x="347.42" y="245.28" width="11.11" height="11.97" fill="#03051a"/>
<rect x="357.82" y="245.28" width="11.11" height="11.97" fill="#03051a"/>
<rect x="368.23" y="245.28" width="11.11" height="11.97" fill="#03051a"/>
<rect x="378.64" y="245.28" width="11.11" height="11.97" fill="#03051a"/>
<rect x="389.05" y="245.28" width="11.11" height="11.97" fill="#03051a"/>
<rect x="399.45" y="245.28" width="11.11" height="11.97" fill="#03051a"/>
<rect x="409.86" y="245.28" width="11.11" height="11.97" fill="#03051a"/>
<rect x="420.27" y="245.28" width="11.11" height="11.97" fill="#03051a"/>
<rect x="430.68" y="245.28" width="11.11" height="11.97" fill="#03051a"/>
<rect x="441.08" y="245.28" width="11.11" height="11.97" fill="#03051a"/>
<rect x="451.49" y="245.28" width="11.11" height="11.97" fill="#03051a"/>
<rect x="326.60" y="256.55" width="11.11" height="11.97" fill="#03051a"/>
<rect x="337.01" y="256.55" width="11.11" height="11.97" fill="#03051a"/>
<rect x="347.42" y="256.55" width="11.11" height="11.97" fill="#03051a"/>
<rect x="357.82" y="256.55" width="11.11" height="11.97" fill="#03051a"/>
<rect x="368.23" y="256.55" width="11.11" height="11.97" fill="#03051a"/>
<rect x="378.64" y="256.55" width="11.11" height="11.97" fill="#03051a"/>
<rect x="389.05" y="256.55" width="11.11" height="11.97" fill="#03051a"/>
<rect x="399.45" y="256.55" width="11.11" height="11.97" fill="#03051a"/>
<rect x="409.86" y="256.55" width="11.11" height="11.97" fill="#03051a"/>
<rect x="420.27" y="256.55" width="11.11" height="11.97" fill="#03051a"/>
<rect x="430.68" y="256.55" width="11.11" height="11.97" fill="#03051a"/>
<rect x="441.08" y="256.55" width="11.11" height="11.97" fill="#03051a"/>
<rect x="451.49" y="256.55" width="11.11" height="11.97" fill="#03051a"/>
<rect x="326.60" y="267.82" width="11.11" height="11.97" fill="#03051a"/>
<rect x="337.01" y="267.82" width="11.11" height="11.97" fill="#03051a"/>
<rect x="347.42" y="267.82" width="11.11" height="11.97" fill="#03051a"/>
<rect x="357.82" y="267.82" width="11.11" height="11.97" fill="#03051a"/>
<rect x="368.23" y="267.82" width="11.11" height="11.97" fill="#03051a"/>
<rect x="378.64" y="267.82" width="11.11" height="11.97" fill="#03051a"/>
<rect x="389.05" y="267.82" width="11.11" height="11.97" fill="#03051a"/>
<rect x="399.45" y="267.82" width="11.11" height="11.97" fill="#03051a"/>
<rect x="409.86" y="267.82" width="11.11" height="11.97" fill="#03051a"/>
<rect x="420.27" y="267.82" width="11.11" height="11.97" fill="#03051a"/>
<rect x="430.68" y="267.82" width="11.11" height="11.97" fill="#03051a"/>
<rect x="441.08" y="267.82" width="11.11" height="11.97" fill="#03051a"/>
<rect x="451.49" y="267.82" width="11.11" height="11.97" fill="#03051a"/>
<rect x="326.60" y="279.10" width="11.11" height="11.97" fill="#03051a"/>
<rect x="337.01" y="279.10" width="11.11" height="11.97" fill="#03051a"/>
<rect x="347.42" y="279.10" width="11.11" height="11.97" fill="#03051a"/>
<rect x="357.82" y="279.10" width="11.11" height="11.97" fill="#03051a"/>
<rect x="368.23" y="279.10" width="11.11" height="11.97" fill="#03051a"/>
<rect x="378.64" y="279.10" width="11.11" height="11.97" fill="#03051a"/>
<rect x="389.05" y="279.10" width="11.11" height="11.97" fill="#03051a"/>
<rect x="399.45" y="279.10" width="11.11" height="11.97" fill="#03051a"/>
<rect x="409.86" y="279.10" width="11.11" height="11.97" fill="#03051a"/>
<rect x="420.27" y="279.10" width="11.11" height="11.97" fill="#03051a"/>
<rect x="430.68" y="279.10" width="11.11" height="11.97" fill="#03051a"/>
<rect x="441.08" y="279.10" width="11.11" height="11.97" fill="#03051a"/>
<rect x="451.49" y="279.10" width="11.11" height="11.97" fill="#03051a"/>
<rect x="326.60" y="290.38" width="11.11" height="11.97" fill="#03051a"/>
<rect x="337.01" y="290.38" width="11.11" height="11.97" fill="#381a40"/>
<rect x="347.42" y="290.38" width="11.11" height="11.97" fill="#4c1d4b"/>
<rect x="357.82" y="290.38" width="11.11" height="11.97" fill="#03051a"/>
<rect x="368.23" y="290.38" width="11.11" height="11.97" fill="#03051a"/>
<rect x="378.64" y="290.38" width="11.11" height="11.97" fill="#03051a"/>
<rect x="389.05" y="290.38" width="11.11" height="11.97" fill="#381a40"/>
<rect x="399.45" y="290.38" width="11.11" height="11.97" fill="#03051a"/>
<rect x="409.86" y="290.38" width="11.11" height="11.97" fill="#03051a"/>
<rect x="420.27" y="290.38" width="11.11" height="11.97" fill="#4c1d4b"/>
<rect x="430.68" y="290.38" width="11.11" height="11.97" fill="#03051a"/>
<rect x="441.08" y="290.38" width="11.11" height="11.97" fill="#03051a"/>
<rect x="451.49" y="290.38" width="11.11" height="11.97" fill="#130d25"/>
<rect x="326.60" y="301.65" width="11.11" height="11.97" fill="#f3714d"/>
<rect x="337.01" y="301.65" width="11.11" height="11.97" fill="#f8d9c3"/>
<rect x="347.42" y="301.65" width="11.11" height="11.97" fill="#f7c6a6"/>
<rect x="357.82" y="301.65" width="11.11" height="11.97" fill="#03051a"/>
<rect x="368.23" y="301.65" width="11.11" height="11.97" fill="#faebdd"/>
<rect x="378.64" y="301.65" width="11.11" height="11.97" fill="#faebdd"/>
<rect x="389.05" y="301.65" width="11.11" height="11.97" fill="#f7c6a6"/>
<rect x="399.45" y="301.65" width="11.11" height="11.97" fill="#03051a"/>
<rect x="409.86" y="301.65" width="11.11" height="11.97" fill="#03051a"/>
<rect x="420.27" y="301.65" width="11.11" height="11.97" fill="#f7c6a6"/>
<rect x="430.68" y="301.65" width="11.11" height="11.97" fill="#03051a"/>
<rect x="441.08" y="301.65" width="11.11" height="11.97" fill="#f6b18b"/>
<rect x="451.49" y="301.65" width="11.11" height="11.97" fill="#03051a"/>
<rect x="326.60" y="312.93" width="11.11" height="11.97" fill="#03051a"/>
<rect x="337.01" y="312.93" width="11.11" height="11.97" fill="#f3714d"/>
<rect x="347.42" y="312.93" width="11.11" height="11.97" fill="#f69c73"/>
<rect x="357.82" y="312.93" width="11.11" height="11.97" fill="#03051a"/>
<rect x="368.23" y="312.93" width="11.11" height="11.97" fill="#03051a"/>
<rect x="378.64" y="312.93" width="11.11" height="11.97" fill="#03051a"/>
<rect x="389.05" y="312.93" width="11.11" height="11.97" fill="#f6b18b"/>
<rect x="399.45" y="312.93" width="11.11" height="11.97" fill="#03051a"/>
<rect x="409.86" y="312.93" width="11.11" height="11.97" fill="#03051a"/>
<rect x="420.27" y="312.93" width="11.11" height="11.97" fill="#f3714d"/>
<rect x="430.68" y="312.93" width="11.11" height="11.97" fill="#ef5840"/>
<rect x="441.08" y="312.93" width="11.11" height="11.97" fill="#cb1b4f"/>
<rect x="451.49" y="312.93" width="11.11" height="11.97" fill="#03051a"/>
<rect x="326.60" y="324.20" width="11.11" height="11.97" fill="#03051a"/>
<rect x="337.01" y="324.20" width="11.11" height="11.97" fill="#a11a5b"/>
<rect x="347.42" y="324.20" width="11.11" height="11.97" fill="#e83f3f"/>
<rect x="357.82" y="324.20" width="11.11" height="11.97" fill="#03051a"/>
<rect x="368.23" y="324.20" width="11.11" height="11.97" fill="#03051a"/>
<rect x="378.64" y="324.20" width="11.11" height="11.97" fill="#03051a"/>
<rect x="389.05" y="324.20" width="11.11" height="11.97" fill="#cb1b4f"/>
<rect x="399.45" y="324.20" width="11.11" height="11.97" fill="#03051a"/>
<rect x="409.86" y="324.20" width="11.11" height="11.97" fill="#03051a"/>
<rect x="420.27" y="324.20" width="11.11" height="11.97" fill="#e83f3f"/>
<rect x="430.68" y="324.20" width="11.11" height="11.97" fill="#03051a"/>
<rect x="441.08" y="324.20" width="11.11" height="11.97" fill="#cb1b4f"/>
<rect x="451.49" y="324.20" width="11.11" height="11.97" fill="#8b1d5b"/>
<rect x="326.60" y="335.48" width="11.11" height="11.97" fill="#03051a"/>
<rect x="337.01" y="335.48" width="11.11" height="11.97" fill="#cb1b4f"/>
<rect x="347.42" y="335.48" width="11.11" height="11.97" fill="#e83f3f"/>
<rect x="357.82" y="335.48" width="11.11" height="11.97" fill="#03051a"/>
<rect x="368.23" y="335.48" width="11.11" height="11.97" fill="#03051a"/>
<rect x="378.64" y="335.48" width="11.11" height="11.97" fill="#03051a"/>
<rect x="389.05" y="335.48" width="11.11" height="11.97" fill="#ef5840"/>
<rect x="399.45" y="335.48" width="11.11" height="11.97" fill="#03051a"/>
<rect x="409.86" y="335.48" width="11.11" height="11.97" fill="#03051a"/>
<rect x="420.27" y="335.48" width="11.11" height="11.97" fill="#03051a"/>
<rect x="430.68" y="335.48" width="11.11" height="11.97" fill="#03051a"/>
<rect x="441.08" y="335.48" width="11.11" height="11.97" fill="#03051a"/>
<rect x="451.49" y="335.48" width="11.11" height="11.97" fill="#03051a"/>
<rect x="326.60" y="346.75" width="11.11" height="11.97" fill="#03051a"/>
<rect x="337.01" y="346.75" width="11.11" height="11.97" fill="#4c1d4b"/>
<rect x="347.42" y="346.75" width="11.11" height="11.97" fill="#611f53"/>
<rect x="357.82" y="346.75" width="11.11" height="11.97" fill="#03051a"/>
<rect x="368.23" y="346.75" width="11.11" height="11.97" fill="#4c1d4b"/>
<rect x="378.64" y="346.75" width="11.11" height="11.97" fill="#03051a"/>
<rect x="389.05" y="346.75" width="11.11" height="11.97" fill="#611f53"/>
<rect x="399.45" y="346.75" width="11.11" height="11.97" fill="#03051a"/>
<rect x="409.86" y="346.75" width="11.11" height="11.97" fill="#03051a"/>
<rect x="420.27" y="346.75" width="11.11" height="11.97" fill="#03051a"/>
<rect x="430.68" y="346.75" width="11.11" height="11.97" fill="#03051a"/>
<rect x="441.08" y="346.75" width="11.11" height="11.97" fill="#03051a"/>
<rect x="451.49" y="346.75" width="11.11" height="11.97" fill="#03051a"/>
<rect x="326.60" y="358.02" width="11.11" height="11.97" fill="#03051a"/>
<rect x="337.01" y="358.02" width="11.11" height="11.97" fill="#611f53"/>
<rect x="347.42" y="358.02" width="11.11" height="11.97" fill="#4c1d4b"/>
<rect x="357.82" y="358.02" width="11.11" height="11.97" fill="#03051a"/>
<rect x="368.23" y="358.02" width="11.11" height="11.97" fill="#03051a"/>
<rect x="378.64" y="358.02" width="11.11" height="11.97" fill="#03051a"/>
<rect x="389.05" y="358.02" width="11.11" height="11.97" fill="#251433"/>
<rect x="399.45" y="358.02" width="11.11" height="11.97" fill="#03051a"/>
<rect x="409.86" y="358.02" width="11.11" height="11.97" fill="#03051a"/>
<rect x="420.27" y="358.02" width="11.11" height="11.97" fill="#4c1d4b"/>
<rect x="430.68" y="358.02" width="11.11" height="11.97" fill="#03051a"/>
<rect x="441.08" y="358.02" width="11.11" height="11.97" fill="#03051a"/>
<rect x="451.49" y="358.02" width="11.11" height="11.97" fill="#03051a"/>
<rect x="326.60" y="369.30" width="11.11" height="11.97" fill="#03051a"/>
<rect x="337.01" y="369.30" width="11.11" height="11.97" fill="#611f53"/>
<rect x="347.42" y="369.30" width="11.11" height="11.97" fill="#751f58"/>
<rect x="357.82" y="369.30" width="11.11" height="11.97" fill="#03051a"/>
<rect x="368.23" y="369.30" width="11.11" height="11.97" fill="#03051a"/>
<rect x="378.64" y="369.30" width="11.11" height="11.97" fill="#03051a"/>
<rect x="389.05" y="369.30" width="11.11" height="11.97" fill="#a11a5b"/>
<rect x="399.45" y="369.30" width="11.11" height="11.97" fill="#03051a"/>
<rect x="409.86" y="369.30" width="11.11" height="11.97" fill="#03051a"/>
<rect x="420.27" y="369.30" width="11.11" height="11.97" fill="#03051a"/>
<rect x="430.68" y="369.30" width="11.11" height="11.97" fill="#03051a"/>
<rect x="441.08" y="369.30" width="11.11" height="11.97" fill="#03051a"/>
<rect x="451.49" y="369.30" width="11.11" height="11.97" fill="#03051a"/>
<rect x="326.60" y="380.58" width="11.11" height="11.97" fill="#03051a"/>
<rect x="337.01" y="380.58" width="11.11" height="11.97" fill="#4c1d4b"/>
<rect x="347.42" y="380.58" width="11.11" height="11.97" fill="#4c1d4b"/>
<rect x="357.82" y="380.58" width="11.11" height="11.97" fill="#03051a"/>
<rect x="368.23" y="380.58" width="11.11" height="11.97" fill="#03051a"/>
<rect x="378.64" y="380.58" width="11.11" height="11.97" fill="#03051a"/>
<rect x="389.05" y="380.58" width="11.11" height="11.97" fill="#03051a"/>
<rect x="399.45" y="380.58" width="11.11" height="11.97" fill="#03051a"/>
<rect x="409.86" y="380.58" width="11.11" height="11.97" fill="#03051a"/>
<rect x="420.27" y="380.58" width="11.11" height="11.97" fill="#03051a"/>
<rect x="430.68" y="380.58" width="11.11" height="11.97" fill="#03051a"/>
<rect x="441.08" y="380.58" width="11.11" height="11.97" fill="#751f58"/>
<rect x="451.49" y="380.58" width="11.11" height="11.97" fill="#03051a"/>
<rect x="326.60" y="391.85" width="11.11" height="11.97" fill="#03051a"/>
<rect x="337.01" y="391.85" width="11.11" height="11.97" fill="#03051a"/>
<rect x="347.42" y="391.85" width="11.11" height="11.97" fill="#03051a"/>
<rect x="357.82" y="391.85" width="11.11" height="11.97" fill="#03051a"/>
<rect x="368.23" y="391.85" width="11.11" height="11.97" fill="#03051a"/>
<rect x="378.64" y="391.85" width="11.11" height="11.97" fill="#03051a"/>
<rect x="389.05" y="391.85" width="11.11" height="11.97" fill="#03051a"/>
<rect x="399.45" y="391.85" width="11.11" height="11.97" fill="#03051a"/>
<rect x="409.86" y="391.85" width="11.11" height="11.97" fill="#03051a"/>
<rect x="420.27" y="391.85" width="11.11" height="11.97" fill="#03051a"/>
<rect x="430.68" y="391.85" width="11.11" height="11.97" fill="#03051a"/>
<rect x="441.08" y="391.85" width="11.11" height="11.97" fill="#03051a"/>
<rect x="451.49" y="391.85" width="11.11" height="11.97" fill="#03051a"/>
<rect x="326.60" y="403.12" width="11.11" height="11.97" fill="#03051a"/>
<rect x="337.01" y="403.12" width="11.11" height="11.97" fill="#03051a"/>
<rect x="347.42" y="403.12" width="11.11" height="11.97" fill="#03051a"/>
<rect x="357.82" y="403.12" width="11.11" height="11.97" fill="#03051a"/>
<rect x="368.23" y="403.12" width="11.11" height="11.97" fill="#03051a"/>
<rect x="378.64" y="403.12" width="11.11" height="11.97" fill="#03051a"/>
<rect x="389.05" y="403.12" width="11.11" height="11.97" fill="#03051a"/>
<rect x="399.45" y="403.12" width="11.11" height="11.97" fill="#03051a"/>
<rect x="409.86" y="403.12" width="11.11" height="11.97" fill="#03051a"/>
<rect x="420.27" y="403.12" width="11.11" height="11.97" fill="#03051a"/>
<rect x="430.68" y="403.12" width="11.11" height="11.97" fill="#03051a"/>
<rect x="441.08" y="403.12" width="11.11" height="11.97" fill="#03051a"/>
<rect x="451.49" y="403.12" width="11.11" height="11.97" fill="#03051a"/>
<rect x="326.60" y="414.40" width="11.11" height="11.97" fill="#03051a"/>
<rect x="337.01" y="414.40" width="11.11" height="11.97" fill="#03051a"/>
<rect x="347.42" y="414.40" width="11.11" height="11.97" fill="#03051a"/>
<rect x="357.82" y="414.40" width="11.11" height="11.97" fill="#03051a"/>
<rect x="368.23" y="414.40" width="11.11" height="11.97" fill="#03051a"/>
<rect x="378.64" y="414.40" width="11.11" height="11.97" fill="#03051a"/>
<rect x="389.05" y="414.40" width="11.11" height="11.97" fill="#03051a"/>
<rect x="399.45" y="414.40" width="11.11" height="11.97" fill="#03051a"/>
<rect x="409.86" y="414.40" width="11.11" height="11.97" fill="#03051a"/>
<rect x="420.27" y="414.40" width="11.11" height="11.97" fill="#03051a"/>
<rect x="430.68" y="414.40" width="11.11" height="11.97" fill="#03051a"/>
<rect x="441.08" y="414.40" width="11.11" height="11.97" fill="#03051a"/>
<rect x="451.49" y="414.40" width="11.11" height="11.97" fill="#03051a"/>
<rect x="326.60" y="425.68" width="11.11" height="11.97" fill="#03051a"/>
<rect x="337.01" y="425.68" width="11.11" height="11.97" fill="#03051a"/>
<rect x="347.42" y="425.68" width="11.11" height="11.97" fill="#03051a"/>
<rect x="357.82" y="425.68" width="11.11" height="11.97" fill="#03051a"/>
<rect x="368.23" y="425.68" width="11.11" height="11.97" fill="#03051a"/>
<rect x="378.64" y="425.68" width="11.11" height="11.97" fill="#03051a"/>
<rect x="389.05" y="425.68" width="11.11" height="11.97" fill="#03051a"/>
<rect x="399.45" y="425.68" width="11.11" height="11.97" fill="#03051a"/>
<rect x="409.86" y="425.68" width="11.11" height="11.97" fill="#03051a"/>
<rect x="420.27" y="425.68" width="11.11" height="11.97" fill="#03051a"/>
<rect x="430.68" y="425.68" width="11.11" height="11.97" fill="#03051a"/>
<rect x="441.08" y="425.68" width="11.11" height="11.97" fill="#03051a"/>
<rect x="451.49" y="425.68" width="11.11" height="11.97" fill="#03051a"/>
<rect x="326.60" y="436.95" width="11.11" height="11.97" fill="#03051a"/>
<rect x="337.01" y="436.95" width="11.11" height="11.97" fill="#03051a"/>
<rect x="347.42" y="436.95" width="11.11" height="11.97" fill="#03051a"/>
<rect x="357.82" y="436.95" width="11.11" height="11.97" fill="#130d25"/>
<rect x="368.23" y="436.95" width="11.11" height="11.97" fill="#03051a"/>
<rect x="378.64" y="436.95" width="11.11" height="11.97" fill="#03051a"/>
<rect x="389.05" y="436.95" width="11.11" height="11.97" fill="#03051a"/>
<rect x="399.45" y="436.95" width="11.11" height="11.97" fill="#03051a"/>
<rect x="409.86" y="436.95" width="11.11" height="11.97" fill="#03051a"/>
<rect x="420.27" y="436.95" width="11.11" height="11.97" fill="#03051a"/>
<rect x="430.68" y="436.95" width="11.11" height="11.97" fill="#03051a"/>
<rect x="441.08" y="436.95" width="11.11" height="11.97" fill="#130d25"/>
<rect x="451.49" y="436.95" width="11.11" height="11.97" fill="#03051a"/>
<rect x="326.60" y="448.23" width="11.11" height="11.97" fill="#03051a"/>
<rect x="337.01" y="448.23" width="11.11" height="11.97" fill="#751f58"/>
<rect x="347.42" y="448.23" width="11.11" height="11.97" fill="#cb1b4f"/>
<rect x="357.82" y="448.23" width="11.11" height="11.97" fill="#03051a"/>
<rect x="368.23" y="448.23" width="11.11" height="11.97" fill="#03051a"/>
<rect x="378.64" y="448.23" width="11.11" height="11.97" fill="#03051a"/>
<rect x="389.05" y="448.23" width="11.11" height="11.97" fill="#b71657"/>
<rect x="399.45" y="448.23" width="11.11" height="11.97" fill="#03051a"/>
<rect x="409.86" y="448.23" width="11.11" height="11.97" fill="#03051a"/>
<rect x="420.27" y="448.23" width="11.11" height="11.97" fill="#cb1b4f"/>
<rect x="430.68" y="448.23" width="11.11" height="11.97" fill="#03051a"/>
<rect x="441.08" y="448.23" width="11.11" height="11.97" fill="#03051a"/>
<rect x="451.49" y="448.23" width="11.11" height="11.97" fill="#03051a"/>
<rect x="326.60" y="459.50" width="11.11" height="11.97" fill="#03051a"/>
<rect x="337.01" y="459.50" width="11.11" height="11.97" fill="#03051a"/>
<rect x="347.42" y="459.50" width="11.11" height="11.97" fill="#03051a"/>
<rect x="357.82" y="459.50" width="11.11" height="11.97" fill="#03051a"/>
<rect x="368.23" y="459.50" width="11.11" height="11.97" fill="#03051a"/>
<rect x="378.64" y="459.50" width="11.11" height="11.97" fill="#03051a"/>
<rect x="389.05" y="459.50" width="11.11" height="11.97" fill="#03051a"/>
<rect x="399.45" y="459.50" width="11.11" height="11.97" fill="#03051a"/>
<rect x="409.86" y="459.50" width="11.11" height="11.97" fill="#03051a"/>
<rect x="420.27" y="459.50" width="11.11" height="11.97" fill="#03051a"/>
<rect x="430.68" y="459.50" width="11.11" height="11.97" fill="#03051a"/>
<rect x="441.08" y="459.50" width="11.11" height="11.97" fill="#03051a"/>
<rect x="451.49" y="459.50" width="11.11" height="11.97" fill="#03051a"/>
<rect x="326.60" y="470.77" width="11.11" height="11.97" fill="#03051a"/>
<rect x="337.01" y="470.77" width="11.11" height="11.97" fill="#03051a"/>
<rect x="347.42" y="470.77" width="11.11" height="11.97" fill="#03051a"/>
<rect x="357.82" y="470.77" width="11.11" height="11.97" fill="#03051a"/>
<rect x="368.23" y="470.77" width="11.11" height="11.97" fill="#03051a"/>
<rect x="378.64" y="470.77" width="11.11" height="11.97" fill="#03051a"/>
<rect x="389.05" y="470.77" width="11.11" height="11.97" fill="#130d25"/>
<rect x="399.45" y="470.77" width="11.11" height="11.97" fill="#03051a"/>
<rect x="409.86" y="470.77" width="11.11" height="11.97" fill="#03051a"/>
<rect x="420.27" y="470.77" width="11.11" height="11.97" fill="#130d25"/>
<rect x="430.68" y="470.77" width="11.11" height="11.97" fill="#03051a"/>
<rect x="441.08" y="470.77" width="11.11" height="11.97" fill="#03051a"/>
<rect x="451.49" y="470.77" width="11.11" height="11.97" fill="#03051a"/>
<rect x="326.60" y="482.05" width="11.11" height="11.97" fill="#03051a"/>
<rect x="337.01" y="482.05" width="11.11" height="11.97" fill="#03051a"/>
<rect x="347.42" y="482.05" width="11.11" height="11.97" fill="#f58860"/>
<rect x="357.82" y="482.05" width="11.11" height="11.97" fill="#f58860"/>
<rect x="368.23" y="482.05" width="11.11" height="11.97" fill="#03051a"/>
<rect x="378.64" y="482.05" width="11.11" height="11.97" fill="#03051a"/>
<rect x="389.05" y="482.05" width="11.11" height="11.97" fill="#03051a"/>
<rect x="399.45" y="482.05" width="11.11" height="11.97" fill="#03051a"/>
<rect x="409.86" y="482.05" width="11.11" height="11.97" fill="#03051a"/>
<rect x="420.27" y="482.05" width="11.11" height="11.97" fill="#03051a"/>
<rect x="430.68" y="482.05" width="11.11" height="11.97" fill="#03051a"/>
<rect x="441.08" y="482.05" width="11.11" height="11.97" fill="#03051a"/>
<rect x="451.49" y="482.05" width="11.11" height="11.97" fill="#03051a"/>
<rect x="326.60" y="493.32" width="11.11" height="11.97" fill="#03051a"/>
<rect x="337.01" y="493.32" width="11.11" height="11.97" fill="#03051a"/>
<rect x="347.42" y="493.32" width="11.11" height="11.97" fill="#b71657"/>
<rect x="357.82" y="493.32" width="11.11" height="11.97" fill="#03051a"/>
<rect x="368.23" y="493.32" width="11.11" height="11.97" fill="#03051a"/>
<rect x="378.64" y="493.32" width="11.11" height="11.97" fill="#03051a"/>
<rect x="389.05" y="493.32" width="11.11" height="11.97" fill="#cb1b4f"/>
<rect x="399.45" y="493.32" width="11.11" height="11.97" fill="#03051a"/>
<rect x="409.86" y="493.32" width="11.11" height="11.97" fill="#b71657"/>
<rect x="420.27" y="493.32" width="11.11" height="11.97" fill="#b71657"/>
<rect x="430.68" y="493.32" width="11.11" height="11.97" fill="#03051a"/>
<rect x="441.08" y="493.32" width="11.11" height="11.97" fill="#03051a"/>
<rect x="451.49" y="493.32" width="11.11" height="11.97" fill="#03051a"/>
<rect x="326.60" y="504.60" width="11.11" height="11.97" fill="#03051a"/>
<rect x="337.01" y="504.60" width="11.11" height="11.97" fill="#03051a"/>
<rect x="347.42" y="504.60" width="11.11" height="11.97" fill="#db2946"/>
<rect x="357.82" y="504.60" width="11.11" height="11.97" fill="#db2946"/>
<rect x="368.23" y="504.60" width="11.11" height="11.97" fill="#03051a"/>
<rect x="378.64" y="504.60" width="11.11" height="11.97" fill="#db2946"/>
<rect x="389.05" y="504.60" width="11.11" height="11.97" fill="#db2946"/>
<rect x="399.45" y="504.60" width="11.11" height="11.97" fill="#03051a"/>
<rect x="409.86" y="504.60" width="11.11" height="11.97" fill="#db2946"/>
<rect x="420.27" y="504.60" width="11.11" height="11.97" fill="#db2946"/>
<rect x="430.68" y="504.60" width="11.11" height="11.97" fill="#03051a"/>
<rect x="441.08" y="504.60" width="11.11" height="11.97" fill="#03051a"/>
<rect x="451.49" y="504.60" width="11.11" height="11.97" fill="#03051a"/>
<rect x="326.60" y="515.88" width="11.11" height="11.97" fill="#f3714d"/>
<rect x="337.01" y="515.88" width="11.11" height="11.97" fill="#03051a"/>
<rect x="347.42" y="515.88" width="11.11" height="11.97" fill="#03051a"/>
<rect x="357.82" y="515.88" width="11.11" height="11.97" fill="#f3714d"/>
<rect x="368.23" y="515.88" width="11.11" height="11.97" fill="#03051a"/>
<rect x="378.64" y="515.88" width="11.11" height="11.97" fill="#f3714d"/>
<rect x="389.05" y="515.88" width="11.11" height="11.97" fill="#03051a"/>
<rect x="399.45" y="515.88" width="11.11" height="11.97" fill="#03051a"/>
<rect x="409.86" y="515.88" width="11.11" height="11.97" fill="#f3714d"/>
<rect x="420.27" y="515.88" width="11.11" height="11.97" fill="#03051a"/>
<rect x="430.68" y="515.88" width="11.11" height="11.97" fill="#03051a"/>
<rect x="441.08" y="515.88" width="11.11" height="11.97" fill="#03051a"/>
<rect x="451.49" y="515.88" width="11.11" height="11.97" fill="#03051a"/>
<rect x="326.60" y="527.15" width="11.11" height="11.97" fill="#a11a5b"/>
<rect x="337.01" y="527.15" width="11.11" height="11.97" fill="#03051a"/>
<rect x="347.42" y="527.15" width="11.11" height="11.97" fill="#03051a"/>
<rect x="357.82" y="527.15" width="11.11" height="11.97" fill="#f3714d"/>
<rect x="368.23" y="527.15" width="11.11" height="11.97" fill="#03051a"/>
<rect x="378.64" y="527.15" width="11.11" height="11.97" fill="#a11a5b"/>
<rect x="389.05" y="527.15" width="11.11" height="11.97" fill="#a11a5b"/>
<rect x="399.45" y="527.15" width="11.11" height="11.97" fill="#03051a"/>
<rect x="409.86" y="527.15" width="11.11" height="11.97" fill="#03051a"/>
<rect x="420.27" y="527.15" width="11.11" height="11.97" fill="#03051a"/>
<rect x="430.68" y="527.15" width="11.11" height="11.97" fill="#03051a"/>
<rect x="441.08" y="527.15" width="11.11" height="11.97" fill="#03051a"/>
<rect x="451.49" y="527.15" width="11.11" height="11.97" fill="#03051a"/>
<rect x="326.60" y="538.42" width="11.11" height="11.97" fill="#faebdd"/>
<rect x="337.01" y="538.42" width="11.11" height="11.97" fill="#03051a"/>
<rect x="347.42" y="538.42" width="11.11" height="11.97" fill="#faebdd"/>
<rect x="357.82" y="538.42" width="11.11" height="11.97" fill="#faebdd"/>
<rect x="368.23" y="538.42" width="11.11" height="11.97" fill="#03051a"/>
<rect x="378.64" y="538.42" width="11.11" height="11.97" fill="#03051a"/>
<rect x="389.05" y="538.42" width="11.11" height="11.97" fill="#03051a"/>
<rect x="399.45" y="538.42" width="11.11" height="11.97" fill="#03051a"/>
<rect x="409.86" y="538.42" width="11.11" height="11.97" fill="#03051a"/>
<rect x="420.27" y="538.42" width="11.11" height="11.97" fill="#03051a"/>
<rect x="430.68" y="538.42" width="11.11" height="11.97" fill="#03051a"/>
<rect x="441.08" y="538.42" width="11.11" height="11.97" fill="#03051a"/>
<rect x="451.49" y="538.42" width="11.11" height="11.97" fill="#03051a"/>
</g>
<line x1="337.01" y1="234.0" x2="337.01" y2="549.70" stroke="#fff" stroke-opacity="0.09" stroke-width="0.6"/>
<line x1="347.42" y1="234.0" x2="347.42" y2="549.70" stroke="#fff" stroke-opacity="0.09" stroke-width="0.6"/>
<line x1="357.82" y1="234.0" x2="357.82" y2="549.70" stroke="#fff" stroke-opacity="0.09" stroke-width="0.6"/>
<line x1="368.23" y1="234.0" x2="368.23" y2="549.70" stroke="#fff" stroke-opacity="0.09" stroke-width="0.6"/>
<line x1="378.64" y1="234.0" x2="378.64" y2="549.70" stroke="#fff" stroke-opacity="0.09" stroke-width="0.6"/>
<line x1="389.05" y1="234.0" x2="389.05" y2="549.70" stroke="#fff" stroke-opacity="0.09" stroke-width="0.6"/>
<line x1="399.45" y1="234.0" x2="399.45" y2="549.70" stroke="#fff" stroke-opacity="0.09" stroke-width="0.6"/>
<line x1="409.86" y1="234.0" x2="409.86" y2="549.70" stroke="#fff" stroke-opacity="0.09" stroke-width="0.6"/>
<line x1="420.27" y1="234.0" x2="420.27" y2="549.70" stroke="#fff" stroke-opacity="0.09" stroke-width="0.6"/>
<line x1="430.68" y1="234.0" x2="430.68" y2="549.70" stroke="#fff" stroke-opacity="0.09" stroke-width="0.6"/>
<line x1="441.08" y1="234.0" x2="441.08" y2="549.70" stroke="#fff" stroke-opacity="0.09" stroke-width="0.6"/>
<line x1="451.49" y1="234.0" x2="451.49" y2="549.70" stroke="#fff" stroke-opacity="0.09" stroke-width="0.6"/>
<line x1="326.60" y1="245.28" x2="461.90" y2="245.28" stroke="#fff" stroke-opacity="0.09" stroke-width="0.6"/>
<line x1="326.60" y1="256.55" x2="461.90" y2="256.55" stroke="#fff" stroke-opacity="0.09" stroke-width="0.6"/>
<line x1="326.60" y1="267.82" x2="461.90" y2="267.82" stroke="#fff" stroke-opacity="0.09" stroke-width="0.6"/>
<line x1="326.60" y1="279.10" x2="461.90" y2="279.10" stroke="#fff" stroke-opacity="0.09" stroke-width="0.6"/>
<line x1="326.60" y1="290.38" x2="461.90" y2="290.38" stroke="#fff" stroke-opacity="0.09" stroke-width="0.6"/>
<line x1="326.60" y1="301.65" x2="461.90" y2="301.65" stroke="#fff" stroke-opacity="0.09" stroke-width="0.6"/>
<line x1="326.60" y1="312.93" x2="461.90" y2="312.93" stroke="#fff" stroke-opacity="0.09" stroke-width="0.6"/>
<line x1="326.60" y1="324.20" x2="461.90" y2="324.20" stroke="#fff" stroke-opacity="0.09" stroke-width="0.6"/>
<line x1="326.60" y1="335.48" x2="461.90" y2="335.48" stroke="#fff" stroke-opacity="0.09" stroke-width="0.6"/>
<line x1="326.60" y1="346.75" x2="461.90" y2="346.75" stroke="#fff" stroke-opacity="0.09" stroke-width="0.6"/>
<line x1="326.60" y1="358.02" x2="461.90" y2="358.02" stroke="#fff" stroke-opacity="0.09" stroke-width="0.6"/>
<line x1="326.60" y1="369.30" x2="461.90" y2="369.30" stroke="#fff" stroke-opacity="0.09" stroke-width="0.6"/>
<line x1="326.60" y1="380.58" x2="461.90" y2="380.58" stroke="#fff" stroke-opacity="0.09" stroke-width="0.6"/>
<line x1="326.60" y1="391.85" x2="461.90" y2="391.85" stroke="#fff" stroke-opacity="0.09" stroke-width="0.6"/>
<line x1="326.60" y1="403.12" x2="461.90" y2="403.12" stroke="#fff" stroke-opacity="0.09" stroke-width="0.6"/>
<line x1="326.60" y1="414.40" x2="461.90" y2="414.40" stroke="#fff" stroke-opacity="0.09" stroke-width="0.6"/>
<line x1="326.60" y1="425.68" x2="461.90" y2="425.68" stroke="#fff" stroke-opacity="0.09" stroke-width="0.6"/>
<line x1="326.60" y1="436.95" x2="461.90" y2="436.95" stroke="#fff" stroke-opacity="0.09" stroke-width="0.6"/>
<line x1="326.60" y1="448.23" x2="461.90" y2="448.23" stroke="#fff" stroke-opacity="0.09" stroke-width="0.6"/>
<line x1="326.60" y1="459.50" x2="461.90" y2="459.50" stroke="#fff" stroke-opacity="0.09" stroke-width="0.6"/>
<line x1="326.60" y1="470.77" x2="461.90" y2="470.77" stroke="#fff" stroke-opacity="0.09" stroke-width="0.6"/>
<line x1="326.60" y1="482.05" x2="461.90" y2="482.05" stroke="#fff" stroke-opacity="0.09" stroke-width="0.6"/>
<line x1="326.60" y1="493.32" x2="461.90" y2="493.32" stroke="#fff" stroke-opacity="0.09" stroke-width="0.6"/>
<line x1="326.60" y1="504.60" x2="461.90" y2="504.60" stroke="#fff" stroke-opacity="0.09" stroke-width="0.6"/>
<line x1="326.60" y1="515.88" x2="461.90" y2="515.88" stroke="#fff" stroke-opacity="0.09" stroke-width="0.6"/>
<line x1="326.60" y1="527.15" x2="461.90" y2="527.15" stroke="#fff" stroke-opacity="0.09" stroke-width="0.6"/>
<line x1="326.60" y1="538.42" x2="461.90" y2="538.42" stroke="#fff" stroke-opacity="0.09" stroke-width="0.6"/>
<rect x="471.40" y="234.00" width="135.40" height="315.70" fill="#04051a"/>
<clipPath id="hc471"><rect x="471.40" y="234.00" width="135.40" height="315.70"/></clipPath>
<g clip-path="url(#hc471)">
<rect x="471.40" y="234.00" width="11.12" height="11.97" fill="#0b8a4b"/>
<rect x="481.82" y="234.00" width="11.12" height="11.97" fill="#081a22"/>
<rect x="492.23" y="234.00" width="11.12" height="11.97" fill="#04051a"/>
<rect x="502.65" y="234.00" width="11.12" height="11.97" fill="#04051a"/>
<rect x="513.06" y="234.00" width="11.12" height="11.97" fill="#081a22"/>
<rect x="523.48" y="234.00" width="11.12" height="11.97" fill="#04051a"/>
<rect x="533.89" y="234.00" width="11.12" height="11.97" fill="#0b8a4b"/>
<rect x="544.31" y="234.00" width="11.12" height="11.97" fill="#0e9952"/>
<rect x="554.72" y="234.00" width="11.12" height="11.97" fill="#04051a"/>
<rect x="565.14" y="234.00" width="11.12" height="11.97" fill="#0b8a4b"/>
<rect x="575.55" y="234.00" width="11.12" height="11.97" fill="#04051a"/>
<rect x="585.97" y="234.00" width="11.12" height="11.97" fill="#081a22"/>
<rect x="596.38" y="234.00" width="11.12" height="11.97" fill="#04051a"/>
<rect x="471.40" y="245.28" width="11.12" height="11.97" fill="#04051a"/>
<rect x="481.82" y="245.28" width="11.12" height="11.97" fill="#04051a"/>
<rect x="492.23" y="245.28" width="11.12" height="11.97" fill="#04051a"/>
<rect x="502.65" y="245.28" width="11.12" height="11.97" fill="#04051a"/>
<rect x="513.06" y="245.28" width="11.12" height="11.97" fill="#092826"/>
<rect x="523.48" y="245.28" width="11.12" height="11.97" fill="#04051a"/>
<rect x="533.89" y="245.28" width="11.12" height="11.97" fill="#04051a"/>
<rect x="544.31" y="245.28" width="11.12" height="11.97" fill="#04051a"/>
<rect x="554.72" y="245.28" width="11.12" height="11.97" fill="#04051a"/>
<rect x="565.14" y="245.28" width="11.12" height="11.97" fill="#04051a"/>
<rect x="575.55" y="245.28" width="11.12" height="11.97" fill="#04051a"/>
<rect x="585.97" y="245.28" width="11.12" height="11.97" fill="#04051a"/>
<rect x="596.38" y="245.28" width="11.12" height="11.97" fill="#04051a"/>
<rect x="471.40" y="256.55" width="11.12" height="11.97" fill="#04051a"/>
<rect x="481.82" y="256.55" width="11.12" height="11.97" fill="#0e9952"/>
<rect x="492.23" y="256.55" width="11.12" height="11.97" fill="#04051a"/>
<rect x="502.65" y="256.55" width="11.12" height="11.97" fill="#04051a"/>
<rect x="513.06" y="256.55" width="11.12" height="11.97" fill="#04051a"/>
<rect x="523.48" y="256.55" width="11.12" height="11.97" fill="#04051a"/>
<rect x="533.89" y="256.55" width="11.12" height="11.97" fill="#04051a"/>
<rect x="544.31" y="256.55" width="11.12" height="11.97" fill="#04051a"/>
<rect x="554.72" y="256.55" width="11.12" height="11.97" fill="#04051a"/>
<rect x="565.14" y="256.55" width="11.12" height="11.97" fill="#04051a"/>
<rect x="575.55" y="256.55" width="11.12" height="11.97" fill="#04051a"/>
<rect x="585.97" y="256.55" width="11.12" height="11.97" fill="#04051a"/>
<rect x="596.38" y="256.55" width="11.12" height="11.97" fill="#04051a"/>
<rect x="471.40" y="267.82" width="11.12" height="11.97" fill="#04051a"/>
<rect x="481.82" y="267.82" width="11.12" height="11.97" fill="#04051a"/>
<rect x="492.23" y="267.82" width="11.12" height="11.97" fill="#04051a"/>
<rect x="502.65" y="267.82" width="11.12" height="11.97" fill="#04051a"/>
<rect x="513.06" y="267.82" width="11.12" height="11.97" fill="#04051a"/>
<rect x="523.48" y="267.82" width="11.12" height="11.97" fill="#04051a"/>
<rect x="533.89" y="267.82" width="11.12" height="11.97" fill="#04051a"/>
<rect x="544.31" y="267.82" width="11.12" height="11.97" fill="#04051a"/>
<rect x="554.72" y="267.82" width="11.12" height="11.97" fill="#04051a"/>
<rect x="565.14" y="267.82" width="11.12" height="11.97" fill="#04051a"/>
<rect x="575.55" y="267.82" width="11.12" height="11.97" fill="#04051a"/>
<rect x="585.97" y="267.82" width="11.12" height="11.97" fill="#04051a"/>
<rect x="596.38" y="267.82" width="11.12" height="11.97" fill="#04051a"/>
<rect x="471.40" y="279.10" width="11.12" height="11.97" fill="#04051a"/>
<rect x="481.82" y="279.10" width="11.12" height="11.97" fill="#0a3c2e"/>
<rect x="492.23" y="279.10" width="11.12" height="11.97" fill="#0a3c2e"/>
<rect x="502.65" y="279.10" width="11.12" height="11.97" fill="#04051a"/>
<rect x="513.06" y="279.10" width="11.12" height="11.97" fill="#0b5236"/>
<rect x="523.48" y="279.10" width="11.12" height="11.97" fill="#04051a"/>
<rect x="533.89" y="279.10" width="11.12" height="11.97" fill="#092826"/>
<rect x="544.31" y="279.10" width="11.12" height="11.97" fill="#0a3c2e"/>
<rect x="554.72" y="279.10" width="11.12" height="11.97" fill="#04051a"/>
<rect x="565.14" y="279.10" width="11.12" height="11.97" fill="#0b8a4b"/>
<rect x="575.55" y="279.10" width="11.12" height="11.97" fill="#04051a"/>
<rect x="585.97" y="279.10" width="11.12" height="11.97" fill="#04051a"/>
<rect x="596.38" y="279.10" width="11.12" height="11.97" fill="#04051a"/>
<rect x="471.40" y="290.38" width="11.12" height="11.97" fill="#04051a"/>
<rect x="481.82" y="290.38" width="11.12" height="11.97" fill="#092826"/>
<rect x="492.23" y="290.38" width="11.12" height="11.97" fill="#092826"/>
<rect x="502.65" y="290.38" width="11.12" height="11.97" fill="#04051a"/>
<rect x="513.06" y="290.38" width="11.12" height="11.97" fill="#0e9952"/>
<rect x="523.48" y="290.38" width="11.12" height="11.97" fill="#04051a"/>
<rect x="533.89" y="290.38" width="11.12" height="11.97" fill="#092826"/>
<rect x="544.31" y="290.38" width="11.12" height="11.97" fill="#0b5236"/>
<rect x="554.72" y="290.38" width="11.12" height="11.97" fill="#04051a"/>
<rect x="565.14" y="290.38" width="11.12" height="11.97" fill="#04051a"/>
<rect x="575.55" y="290.38" width="11.12" height="11.97" fill="#04051a"/>
<rect x="585.97" y="290.38" width="11.12" height="11.97" fill="#04051a"/>
<rect x="596.38" y="290.38" width="11.12" height="11.97" fill="#04051a"/>
<rect x="471.40" y="301.65" width="11.12" height="11.97" fill="#04051a"/>
<rect x="481.82" y="301.65" width="11.12" height="11.97" fill="#092826"/>
<rect x="492.23" y="301.65" width="11.12" height="11.97" fill="#092826"/>
<rect x="502.65" y="301.65" width="11.12" height="11.97" fill="#04051a"/>
<rect x="513.06" y="301.65" width="11.12" height="11.97" fill="#04051a"/>
<rect x="523.48" y="301.65" width="11.12" height="11.97" fill="#04051a"/>
<rect x="533.89" y="301.65" width="11.12" height="11.97" fill="#04051a"/>
<rect x="544.31" y="301.65" width="11.12" height="11.97" fill="#04051a"/>
<rect x="554.72" y="301.65" width="11.12" height="11.97" fill="#04051a"/>
<rect x="565.14" y="301.65" width="11.12" height="11.97" fill="#0a3c2e"/>
<rect x="575.55" y="301.65" width="11.12" height="11.97" fill="#04051a"/>
<rect x="585.97" y="301.65" width="11.12" height="11.97" fill="#04051a"/>
<rect x="596.38" y="301.65" width="11.12" height="11.97" fill="#04051a"/>
<rect x="471.40" y="312.93" width="11.12" height="11.97" fill="#04051a"/>
<rect x="481.82" y="312.93" width="11.12" height="11.97" fill="#092826"/>
<rect x="492.23" y="312.93" width="11.12" height="11.97" fill="#092826"/>
<rect x="502.65" y="312.93" width="11.12" height="11.97" fill="#04051a"/>
<rect x="513.06" y="312.93" width="11.12" height="11.97" fill="#04051a"/>
<rect x="523.48" y="312.93" width="11.12" height="11.97" fill="#04051a"/>
<rect x="533.89" y="312.93" width="11.12" height="11.97" fill="#04051a"/>
<rect x="544.31" y="312.93" width="11.12" height="11.97" fill="#04051a"/>
<rect x="554.72" y="312.93" width="11.12" height="11.97" fill="#04051a"/>
<rect x="565.14" y="312.93" width="11.12" height="11.97" fill="#0e9952"/>
<rect x="575.55" y="312.93" width="11.12" height="11.97" fill="#04051a"/>
<rect x="585.97" y="312.93" width="11.12" height="11.97" fill="#0c6b40"/>
<rect x="596.38" y="312.93" width="11.12" height="11.97" fill="#04051a"/>
<rect x="471.40" y="324.20" width="11.12" height="11.97" fill="#04051a"/>
<rect x="481.82" y="324.20" width="11.12" height="11.97" fill="#092826"/>
<rect x="492.23" y="324.20" width="11.12" height="11.97" fill="#092826"/>
<rect x="502.65" y="324.20" width="11.12" height="11.97" fill="#04051a"/>
<rect x="513.06" y="324.20" width="11.12" height="11.97" fill="#04051a"/>
<rect x="523.48" y="324.20" width="11.12" height="11.97" fill="#04051a"/>
<rect x="533.89" y="324.20" width="11.12" height="11.97" fill="#c6f4d9"/>
<rect x="544.31" y="324.20" width="11.12" height="11.97" fill="#04051a"/>
<rect x="554.72" y="324.20" width="11.12" height="11.97" fill="#04051a"/>
<rect x="565.14" y="324.20" width="11.12" height="11.97" fill="#0b5236"/>
<rect x="575.55" y="324.20" width="11.12" height="11.97" fill="#04051a"/>
<rect x="585.97" y="324.20" width="11.12" height="11.97" fill="#04051a"/>
<rect x="596.38" y="324.20" width="11.12" height="11.97" fill="#04051a"/>
<rect x="471.40" y="335.48" width="11.12" height="11.97" fill="#04051a"/>
<rect x="481.82" y="335.48" width="11.12" height="11.97" fill="#092826"/>
<rect x="492.23" y="335.48" width="11.12" height="11.97" fill="#092826"/>
<rect x="502.65" y="335.48" width="11.12" height="11.97" fill="#04051a"/>
<rect x="513.06" y="335.48" width="11.12" height="11.97" fill="#04051a"/>
<rect x="523.48" y="335.48" width="11.12" height="11.97" fill="#04051a"/>
<rect x="533.89" y="335.48" width="11.12" height="11.97" fill="#0b8a4b"/>
<rect x="544.31" y="335.48" width="11.12" height="11.97" fill="#04051a"/>
<rect x="554.72" y="335.48" width="11.12" height="11.97" fill="#04051a"/>
<rect x="565.14" y="335.48" width="11.12" height="11.97" fill="#04051a"/>
<rect x="575.55" y="335.48" width="11.12" height="11.97" fill="#04051a"/>
<rect x="585.97" y="335.48" width="11.12" height="11.97" fill="#04051a"/>
<rect x="596.38" y="335.48" width="11.12" height="11.97" fill="#04051a"/>
<rect x="471.40" y="346.75" width="11.12" height="11.97" fill="#04051a"/>
<rect x="481.82" y="346.75" width="11.12" height="11.97" fill="#081a22"/>
<rect x="492.23" y="346.75" width="11.12" height="11.97" fill="#04051a"/>
<rect x="502.65" y="346.75" width="11.12" height="11.97" fill="#04051a"/>
<rect x="513.06" y="346.75" width="11.12" height="11.97" fill="#04051a"/>
<rect x="523.48" y="346.75" width="11.12" height="11.97" fill="#04051a"/>
<rect x="533.89" y="346.75" width="11.12" height="11.97" fill="#0b8a4b"/>
<rect x="544.31" y="346.75" width="11.12" height="11.97" fill="#04051a"/>
<rect x="554.72" y="346.75" width="11.12" height="11.97" fill="#04051a"/>
<rect x="565.14" y="346.75" width="11.12" height="11.97" fill="#04051a"/>
<rect x="575.55" y="346.75" width="11.12" height="11.97" fill="#04051a"/>
<rect x="585.97" y="346.75" width="11.12" height="11.97" fill="#04051a"/>
<rect x="596.38" y="346.75" width="11.12" height="11.97" fill="#04051a"/>
<rect x="471.40" y="358.02" width="11.12" height="11.97" fill="#04051a"/>
<rect x="481.82" y="358.02" width="11.12" height="11.97" fill="#092826"/>
<rect x="492.23" y="358.02" width="11.12" height="11.97" fill="#0b8a4b"/>
<rect x="502.65" y="358.02" width="11.12" height="11.97" fill="#04051a"/>
<rect x="513.06" y="358.02" width="11.12" height="11.97" fill="#04051a"/>
<rect x="523.48" y="358.02" width="11.12" height="11.97" fill="#04051a"/>
<rect x="533.89" y="358.02" width="11.12" height="11.97" fill="#04051a"/>
<rect x="544.31" y="358.02" width="11.12" height="11.97" fill="#04051a"/>
<rect x="554.72" y="358.02" width="11.12" height="11.97" fill="#04051a"/>
<rect x="565.14" y="358.02" width="11.12" height="11.97" fill="#04051a"/>
<rect x="575.55" y="358.02" width="11.12" height="11.97" fill="#04051a"/>
<rect x="585.97" y="358.02" width="11.12" height="11.97" fill="#04051a"/>
<rect x="596.38" y="358.02" width="11.12" height="11.97" fill="#04051a"/>
<rect x="471.40" y="369.30" width="11.12" height="11.97" fill="#04051a"/>
<rect x="481.82" y="369.30" width="11.12" height="11.97" fill="#092826"/>
<rect x="492.23" y="369.30" width="11.12" height="11.97" fill="#04051a"/>
<rect x="502.65" y="369.30" width="11.12" height="11.97" fill="#04051a"/>
<rect x="513.06" y="369.30" width="11.12" height="11.97" fill="#04051a"/>
<rect x="523.48" y="369.30" width="11.12" height="11.97" fill="#04051a"/>
<rect x="533.89" y="369.30" width="11.12" height="11.97" fill="#0b5236"/>
<rect x="544.31" y="369.30" width="11.12" height="11.97" fill="#04051a"/>
<rect x="554.72" y="369.30" width="11.12" height="11.97" fill="#04051a"/>
<rect x="565.14" y="369.30" width="11.12" height="11.97" fill="#04051a"/>
<rect x="575.55" y="369.30" width="11.12" height="11.97" fill="#04051a"/>
<rect x="585.97" y="369.30" width="11.12" height="11.97" fill="#04051a"/>
<rect x="596.38" y="369.30" width="11.12" height="11.97" fill="#04051a"/>
<rect x="471.40" y="380.58" width="11.12" height="11.97" fill="#04051a"/>
<rect x="481.82" y="380.58" width="11.12" height="11.97" fill="#092826"/>
<rect x="492.23" y="380.58" width="11.12" height="11.97" fill="#0b8a4b"/>
<rect x="502.65" y="380.58" width="11.12" height="11.97" fill="#04051a"/>
<rect x="513.06" y="380.58" width="11.12" height="11.97" fill="#04051a"/>
<rect x="523.48" y="380.58" width="11.12" height="11.97" fill="#04051a"/>
<rect x="533.89" y="380.58" width="11.12" height="11.97" fill="#04051a"/>
<rect x="544.31" y="380.58" width="11.12" height="11.97" fill="#04051a"/>
<rect x="554.72" y="380.58" width="11.12" height="11.97" fill="#04051a"/>
<rect x="565.14" y="380.58" width="11.12" height="11.97" fill="#04051a"/>
<rect x="575.55" y="380.58" width="11.12" height="11.97" fill="#04051a"/>
<rect x="585.97" y="380.58" width="11.12" height="11.97" fill="#0b8a4b"/>
<rect x="596.38" y="380.58" width="11.12" height="11.97" fill="#04051a"/>
<rect x="471.40" y="391.85" width="11.12" height="11.97" fill="#04051a"/>
<rect x="481.82" y="391.85" width="11.12" height="11.97" fill="#081a22"/>
<rect x="492.23" y="391.85" width="11.12" height="11.97" fill="#8ad9ac"/>
<rect x="502.65" y="391.85" width="11.12" height="11.97" fill="#04051a"/>
<rect x="513.06" y="391.85" width="11.12" height="11.97" fill="#04051a"/>
<rect x="523.48" y="391.85" width="11.12" height="11.97" fill="#04051a"/>
<rect x="533.89" y="391.85" width="11.12" height="11.97" fill="#04051a"/>
<rect x="544.31" y="391.85" width="11.12" height="11.97" fill="#04051a"/>
<rect x="554.72" y="391.85" width="11.12" height="11.97" fill="#04051a"/>
<rect x="565.14" y="391.85" width="11.12" height="11.97" fill="#04051a"/>
<rect x="575.55" y="391.85" width="11.12" height="11.97" fill="#04051a"/>
<rect x="585.97" y="391.85" width="11.12" height="11.97" fill="#04051a"/>
<rect x="596.38" y="391.85" width="11.12" height="11.97" fill="#04051a"/>
<rect x="471.40" y="403.12" width="11.12" height="11.97" fill="#04051a"/>
<rect x="481.82" y="403.12" width="11.12" height="11.97" fill="#081a22"/>
<rect x="492.23" y="403.12" width="11.12" height="11.97" fill="#04051a"/>
<rect x="502.65" y="403.12" width="11.12" height="11.97" fill="#04051a"/>
<rect x="513.06" y="403.12" width="11.12" height="11.97" fill="#04051a"/>
<rect x="523.48" y="403.12" width="11.12" height="11.97" fill="#04051a"/>
<rect x="533.89" y="403.12" width="11.12" height="11.97" fill="#04051a"/>
<rect x="544.31" y="403.12" width="11.12" height="11.97" fill="#04051a"/>
<rect x="554.72" y="403.12" width="11.12" height="11.97" fill="#04051a"/>
<rect x="565.14" y="403.12" width="11.12" height="11.97" fill="#04051a"/>
<rect x="575.55" y="403.12" width="11.12" height="11.97" fill="#04051a"/>
<rect x="585.97" y="403.12" width="11.12" height="11.97" fill="#04051a"/>
<rect x="596.38" y="403.12" width="11.12" height="11.97" fill="#04051a"/>
<rect x="471.40" y="414.40" width="11.12" height="11.97" fill="#04051a"/>
<rect x="481.82" y="414.40" width="11.12" height="11.97" fill="#04051a"/>
<rect x="492.23" y="414.40" width="11.12" height="11.97" fill="#04051a"/>
<rect x="502.65" y="414.40" width="11.12" height="11.97" fill="#04051a"/>
<rect x="513.06" y="414.40" width="11.12" height="11.97" fill="#04051a"/>
<rect x="523.48" y="414.40" width="11.12" height="11.97" fill="#04051a"/>
<rect x="533.89" y="414.40" width="11.12" height="11.97" fill="#04051a"/>
<rect x="544.31" y="414.40" width="11.12" height="11.97" fill="#04051a"/>
<rect x="554.72" y="414.40" width="11.12" height="11.97" fill="#04051a"/>
<rect x="565.14" y="414.40" width="11.12" height="11.97" fill="#04051a"/>
<rect x="575.55" y="414.40" width="11.12" height="11.97" fill="#04051a"/>
<rect x="585.97" y="414.40" width="11.12" height="11.97" fill="#04051a"/>
<rect x="596.38" y="414.40" width="11.12" height="11.97" fill="#04051a"/>
<rect x="471.40" y="425.68" width="11.12" height="11.97" fill="#04051a"/>
<rect x="481.82" y="425.68" width="11.12" height="11.97" fill="#04051a"/>
<rect x="492.23" y="425.68" width="11.12" height="11.97" fill="#04051a"/>
<rect x="502.65" y="425.68" width="11.12" height="11.97" fill="#04051a"/>
<rect x="513.06" y="425.68" width="11.12" height="11.97" fill="#04051a"/>
<rect x="523.48" y="425.68" width="11.12" height="11.97" fill="#04051a"/>
<rect x="533.89" y="425.68" width="11.12" height="11.97" fill="#092826"/>
<rect x="544.31" y="425.68" width="11.12" height="11.97" fill="#0a3c2e"/>
<rect x="554.72" y="425.68" width="11.12" height="11.97" fill="#04051a"/>
<rect x="565.14" y="425.68" width="11.12" height="11.97" fill="#04051a"/>
<rect x="575.55" y="425.68" width="11.12" height="11.97" fill="#04051a"/>
<rect x="585.97" y="425.68" width="11.12" height="11.97" fill="#04051a"/>
<rect x="596.38" y="425.68" width="11.12" height="11.97" fill="#04051a"/>
<rect x="471.40" y="436.95" width="11.12" height="11.97" fill="#04051a"/>
<rect x="481.82" y="436.95" width="11.12" height="11.97" fill="#04051a"/>
<rect x="492.23" y="436.95" width="11.12" height="11.97" fill="#092826"/>
<rect x="502.65" y="436.95" width="11.12" height="11.97" fill="#04051a"/>
<rect x="513.06" y="436.95" width="11.12" height="11.97" fill="#04051a"/>
<rect x="523.48" y="436.95" width="11.12" height="11.97" fill="#04051a"/>
<rect x="533.89" y="436.95" width="11.12" height="11.97" fill="#04051a"/>
<rect x="544.31" y="436.95" width="11.12" height="11.97" fill="#04051a"/>
<rect x="554.72" y="436.95" width="11.12" height="11.97" fill="#04051a"/>
<rect x="565.14" y="436.95" width="11.12" height="11.97" fill="#0a3c2e"/>
<rect x="575.55" y="436.95" width="11.12" height="11.97" fill="#04051a"/>
<rect x="585.97" y="436.95" width="11.12" height="11.97" fill="#04051a"/>
<rect x="596.38" y="436.95" width="11.12" height="11.97" fill="#04051a"/>
<rect x="471.40" y="448.23" width="11.12" height="11.97" fill="#04051a"/>
<rect x="481.82" y="448.23" width="11.12" height="11.97" fill="#0b8a4b"/>
<rect x="492.23" y="448.23" width="11.12" height="11.97" fill="#081a22"/>
<rect x="502.65" y="448.23" width="11.12" height="11.97" fill="#04051a"/>
<rect x="513.06" y="448.23" width="11.12" height="11.97" fill="#04051a"/>
<rect x="523.48" y="448.23" width="11.12" height="11.97" fill="#04051a"/>
<rect x="533.89" y="448.23" width="11.12" height="11.97" fill="#04051a"/>
<rect x="544.31" y="448.23" width="11.12" height="11.97" fill="#04051a"/>
<rect x="554.72" y="448.23" width="11.12" height="11.97" fill="#04051a"/>
<rect x="565.14" y="448.23" width="11.12" height="11.97" fill="#04051a"/>
<rect x="575.55" y="448.23" width="11.12" height="11.97" fill="#04051a"/>
<rect x="585.97" y="448.23" width="11.12" height="11.97" fill="#04051a"/>
<rect x="596.38" y="448.23" width="11.12" height="11.97" fill="#04051a"/>
<rect x="471.40" y="459.50" width="11.12" height="11.97" fill="#04051a"/>
<rect x="481.82" y="459.50" width="11.12" height="11.97" fill="#04051a"/>
<rect x="492.23" y="459.50" width="11.12" height="11.97" fill="#081a22"/>
<rect x="502.65" y="459.50" width="11.12" height="11.97" fill="#04051a"/>
<rect x="513.06" y="459.50" width="11.12" height="11.97" fill="#04051a"/>
<rect x="523.48" y="459.50" width="11.12" height="11.97" fill="#04051a"/>
<rect x="533.89" y="459.50" width="11.12" height="11.97" fill="#04051a"/>
<rect x="544.31" y="459.50" width="11.12" height="11.97" fill="#0b8a4b"/>
<rect x="554.72" y="459.50" width="11.12" height="11.97" fill="#04051a"/>
<rect x="565.14" y="459.50" width="11.12" height="11.97" fill="#8ad9ac"/>
<rect x="575.55" y="459.50" width="11.12" height="11.97" fill="#04051a"/>
<rect x="585.97" y="459.50" width="11.12" height="11.97" fill="#04051a"/>
<rect x="596.38" y="459.50" width="11.12" height="11.97" fill="#04051a"/>
<rect x="471.40" y="470.77" width="11.12" height="11.97" fill="#04051a"/>
<rect x="481.82" y="470.77" width="11.12" height="11.97" fill="#04051a"/>
<rect x="492.23" y="470.77" width="11.12" height="11.97" fill="#0b8a4b"/>
<rect x="502.65" y="470.77" width="11.12" height="11.97" fill="#04051a"/>
<rect x="513.06" y="470.77" width="11.12" height="11.97" fill="#04051a"/>
<rect x="523.48" y="470.77" width="11.12" height="11.97" fill="#04051a"/>
<rect x="533.89" y="470.77" width="11.12" height="11.97" fill="#04051a"/>
<rect x="544.31" y="470.77" width="11.12" height="11.97" fill="#04051a"/>
<rect x="554.72" y="470.77" width="11.12" height="11.97" fill="#04051a"/>
<rect x="565.14" y="470.77" width="11.12" height="11.97" fill="#04051a"/>
<rect x="575.55" y="470.77" width="11.12" height="11.97" fill="#04051a"/>
<rect x="585.97" y="470.77" width="11.12" height="11.97" fill="#04051a"/>
<rect x="596.38" y="470.77" width="11.12" height="11.97" fill="#04051a"/>
<rect x="471.40" y="482.05" width="11.12" height="11.97" fill="#04051a"/>
<rect x="481.82" y="482.05" width="11.12" height="11.97" fill="#04051a"/>
<rect x="492.23" y="482.05" width="11.12" height="11.97" fill="#081a22"/>
<rect x="502.65" y="482.05" width="11.12" height="11.97" fill="#45bb7d"/>
<rect x="513.06" y="482.05" width="11.12" height="11.97" fill="#04051a"/>
<rect x="523.48" y="482.05" width="11.12" height="11.97" fill="#04051a"/>
<rect x="533.89" y="482.05" width="11.12" height="11.97" fill="#04051a"/>
<rect x="544.31" y="482.05" width="11.12" height="11.97" fill="#04051a"/>
<rect x="554.72" y="482.05" width="11.12" height="11.97" fill="#04051a"/>
<rect x="565.14" y="482.05" width="11.12" height="11.97" fill="#04051a"/>
<rect x="575.55" y="482.05" width="11.12" height="11.97" fill="#04051a"/>
<rect x="585.97" y="482.05" width="11.12" height="11.97" fill="#04051a"/>
<rect x="596.38" y="482.05" width="11.12" height="11.97" fill="#04051a"/>
<rect x="471.40" y="493.32" width="11.12" height="11.97" fill="#04051a"/>
<rect x="481.82" y="493.32" width="11.12" height="11.97" fill="#04051a"/>
<rect x="492.23" y="493.32" width="11.12" height="11.97" fill="#0a3c2e"/>
<rect x="502.65" y="493.32" width="11.12" height="11.97" fill="#04051a"/>
<rect x="513.06" y="493.32" width="11.12" height="11.97" fill="#04051a"/>
<rect x="523.48" y="493.32" width="11.12" height="11.97" fill="#04051a"/>
<rect x="533.89" y="493.32" width="11.12" height="11.97" fill="#04051a"/>
<rect x="544.31" y="493.32" width="11.12" height="11.97" fill="#04051a"/>
<rect x="554.72" y="493.32" width="11.12" height="11.97" fill="#04051a"/>
<rect x="565.14" y="493.32" width="11.12" height="11.97" fill="#04051a"/>
<rect x="575.55" y="493.32" width="11.12" height="11.97" fill="#04051a"/>
<rect x="585.97" y="493.32" width="11.12" height="11.97" fill="#04051a"/>
<rect x="596.38" y="493.32" width="11.12" height="11.97" fill="#04051a"/>
<rect x="471.40" y="504.60" width="11.12" height="11.97" fill="#04051a"/>
<rect x="481.82" y="504.60" width="11.12" height="11.97" fill="#04051a"/>
<rect x="492.23" y="504.60" width="11.12" height="11.97" fill="#04051a"/>
<rect x="502.65" y="504.60" width="11.12" height="11.97" fill="#04051a"/>
<rect x="513.06" y="504.60" width="11.12" height="11.97" fill="#04051a"/>
<rect x="523.48" y="504.60" width="11.12" height="11.97" fill="#04051a"/>
<rect x="533.89" y="504.60" width="11.12" height="11.97" fill="#04051a"/>
<rect x="544.31" y="504.60" width="11.12" height="11.97" fill="#04051a"/>
<rect x="554.72" y="504.60" width="11.12" height="11.97" fill="#04051a"/>
<rect x="565.14" y="504.60" width="11.12" height="11.97" fill="#04051a"/>
<rect x="575.55" y="504.60" width="11.12" height="11.97" fill="#04051a"/>
<rect x="585.97" y="504.60" width="11.12" height="11.97" fill="#04051a"/>
<rect x="596.38" y="504.60" width="11.12" height="11.97" fill="#04051a"/>
<rect x="471.40" y="515.88" width="11.12" height="11.97" fill="#04051a"/>
<rect x="481.82" y="515.88" width="11.12" height="11.97" fill="#04051a"/>
<rect x="492.23" y="515.88" width="11.12" height="11.97" fill="#04051a"/>
<rect x="502.65" y="515.88" width="11.12" height="11.97" fill="#04051a"/>
<rect x="513.06" y="515.88" width="11.12" height="11.97" fill="#04051a"/>
<rect x="523.48" y="515.88" width="11.12" height="11.97" fill="#0a3c2e"/>
<rect x="533.89" y="515.88" width="11.12" height="11.97" fill="#04051a"/>
<rect x="544.31" y="515.88" width="11.12" height="11.97" fill="#04051a"/>
<rect x="554.72" y="515.88" width="11.12" height="11.97" fill="#04051a"/>
<rect x="565.14" y="515.88" width="11.12" height="11.97" fill="#04051a"/>
<rect x="575.55" y="515.88" width="11.12" height="11.97" fill="#04051a"/>
<rect x="585.97" y="515.88" width="11.12" height="11.97" fill="#04051a"/>
<rect x="596.38" y="515.88" width="11.12" height="11.97" fill="#04051a"/>
<rect x="471.40" y="527.15" width="11.12" height="11.97" fill="#04051a"/>
<rect x="481.82" y="527.15" width="11.12" height="11.97" fill="#04051a"/>
<rect x="492.23" y="527.15" width="11.12" height="11.97" fill="#04051a"/>
<rect x="502.65" y="527.15" width="11.12" height="11.97" fill="#04051a"/>
<rect x="513.06" y="527.15" width="11.12" height="11.97" fill="#04051a"/>
<rect x="523.48" y="527.15" width="11.12" height="11.97" fill="#04051a"/>
<rect x="533.89" y="527.15" width="11.12" height="11.97" fill="#04051a"/>
<rect x="544.31" y="527.15" width="11.12" height="11.97" fill="#04051a"/>
<rect x="554.72" y="527.15" width="11.12" height="11.97" fill="#04051a"/>
<rect x="565.14" y="527.15" width="11.12" height="11.97" fill="#04051a"/>
<rect x="575.55" y="527.15" width="11.12" height="11.97" fill="#04051a"/>
<rect x="585.97" y="527.15" width="11.12" height="11.97" fill="#04051a"/>
<rect x="596.38" y="527.15" width="11.12" height="11.97" fill="#04051a"/>
<rect x="471.40" y="538.42" width="11.12" height="11.97" fill="#04051a"/>
<rect x="481.82" y="538.42" width="11.12" height="11.97" fill="#04051a"/>
<rect x="492.23" y="538.42" width="11.12" height="11.97" fill="#04051a"/>
<rect x="502.65" y="538.42" width="11.12" height="11.97" fill="#04051a"/>
<rect x="513.06" y="538.42" width="11.12" height="11.97" fill="#04051a"/>
<rect x="523.48" y="538.42" width="11.12" height="11.97" fill="#04051a"/>
<rect x="533.89" y="538.42" width="11.12" height="11.97" fill="#04051a"/>
<rect x="544.31" y="538.42" width="11.12" height="11.97" fill="#04051a"/>
<rect x="554.72" y="538.42" width="11.12" height="11.97" fill="#04051a"/>
<rect x="565.14" y="538.42" width="11.12" height="11.97" fill="#04051a"/>
<rect x="575.55" y="538.42" width="11.12" height="11.97" fill="#04051a"/>
<rect x="585.97" y="538.42" width="11.12" height="11.97" fill="#04051a"/>
<rect x="596.38" y="538.42" width="11.12" height="11.97" fill="#04051a"/>
</g>
<line x1="481.82" y1="234.0" x2="481.82" y2="549.70" stroke="#fff" stroke-opacity="0.09" stroke-width="0.6"/>
<line x1="492.23" y1="234.0" x2="492.23" y2="549.70" stroke="#fff" stroke-opacity="0.09" stroke-width="0.6"/>
<line x1="502.65" y1="234.0" x2="502.65" y2="549.70" stroke="#fff" stroke-opacity="0.09" stroke-width="0.6"/>
<line x1="513.06" y1="234.0" x2="513.06" y2="549.70" stroke="#fff" stroke-opacity="0.09" stroke-width="0.6"/>
<line x1="523.48" y1="234.0" x2="523.48" y2="549.70" stroke="#fff" stroke-opacity="0.09" stroke-width="0.6"/>
<line x1="533.89" y1="234.0" x2="533.89" y2="549.70" stroke="#fff" stroke-opacity="0.09" stroke-width="0.6"/>
<line x1="544.31" y1="234.0" x2="544.31" y2="549.70" stroke="#fff" stroke-opacity="0.09" stroke-width="0.6"/>
<line x1="554.72" y1="234.0" x2="554.72" y2="549.70" stroke="#fff" stroke-opacity="0.09" stroke-width="0.6"/>
<line x1="565.14" y1="234.0" x2="565.14" y2="549.70" stroke="#fff" stroke-opacity="0.09" stroke-width="0.6"/>
<line x1="575.55" y1="234.0" x2="575.55" y2="549.70" stroke="#fff" stroke-opacity="0.09" stroke-width="0.6"/>
<line x1="585.97" y1="234.0" x2="585.97" y2="549.70" stroke="#fff" stroke-opacity="0.09" stroke-width="0.6"/>
<line x1="596.38" y1="234.0" x2="596.38" y2="549.70" stroke="#fff" stroke-opacity="0.09" stroke-width="0.6"/>
<line x1="471.40" y1="245.28" x2="606.80" y2="245.28" stroke="#fff" stroke-opacity="0.09" stroke-width="0.6"/>
<line x1="471.40" y1="256.55" x2="606.80" y2="256.55" stroke="#fff" stroke-opacity="0.09" stroke-width="0.6"/>
<line x1="471.40" y1="267.82" x2="606.80" y2="267.82" stroke="#fff" stroke-opacity="0.09" stroke-width="0.6"/>
<line x1="471.40" y1="279.10" x2="606.80" y2="279.10" stroke="#fff" stroke-opacity="0.09" stroke-width="0.6"/>
<line x1="471.40" y1="290.38" x2="606.80" y2="290.38" stroke="#fff" stroke-opacity="0.09" stroke-width="0.6"/>
<line x1="471.40" y1="301.65" x2="606.80" y2="301.65" stroke="#fff" stroke-opacity="0.09" stroke-width="0.6"/>
<line x1="471.40" y1="312.93" x2="606.80" y2="312.93" stroke="#fff" stroke-opacity="0.09" stroke-width="0.6"/>
<line x1="471.40" y1="324.20" x2="606.80" y2="324.20" stroke="#fff" stroke-opacity="0.09" stroke-width="0.6"/>
<line x1="471.40" y1="335.48" x2="606.80" y2="335.48" stroke="#fff" stroke-opacity="0.09" stroke-width="0.6"/>
<line x1="471.40" y1="346.75" x2="606.80" y2="346.75" stroke="#fff" stroke-opacity="0.09" stroke-width="0.6"/>
<line x1="471.40" y1="358.02" x2="606.80" y2="358.02" stroke="#fff" stroke-opacity="0.09" stroke-width="0.6"/>
<line x1="471.40" y1="369.30" x2="606.80" y2="369.30" stroke="#fff" stroke-opacity="0.09" stroke-width="0.6"/>
<line x1="471.40" y1="380.58" x2="606.80" y2="380.58" stroke="#fff" stroke-opacity="0.09" stroke-width="0.6"/>
<line x1="471.40" y1="391.85" x2="606.80" y2="391.85" stroke="#fff" stroke-opacity="0.09" stroke-width="0.6"/>
<line x1="471.40" y1="403.12" x2="606.80" y2="403.12" stroke="#fff" stroke-opacity="0.09" stroke-width="0.6"/>
<line x1="471.40" y1="414.40" x2="606.80" y2="414.40" stroke="#fff" stroke-opacity="0.09" stroke-width="0.6"/>
<line x1="471.40" y1="425.68" x2="606.80" y2="425.68" stroke="#fff" stroke-opacity="0.09" stroke-width="0.6"/>
<line x1="471.40" y1="436.95" x2="606.80" y2="436.95" stroke="#fff" stroke-opacity="0.09" stroke-width="0.6"/>
<line x1="471.40" y1="448.23" x2="606.80" y2="448.23" stroke="#fff" stroke-opacity="0.09" stroke-width="0.6"/>
<line x1="471.40" y1="459.50" x2="606.80" y2="459.50" stroke="#fff" stroke-opacity="0.09" stroke-width="0.6"/>
<line x1="471.40" y1="470.77" x2="606.80" y2="470.77" stroke="#fff" stroke-opacity="0.09" stroke-width="0.6"/>
<line x1="471.40" y1="482.05" x2="606.80" y2="482.05" stroke="#fff" stroke-opacity="0.09" stroke-width="0.6"/>
<line x1="471.40" y1="493.32" x2="606.80" y2="493.32" stroke="#fff" stroke-opacity="0.09" stroke-width="0.6"/>
<line x1="471.40" y1="504.60" x2="606.80" y2="504.60" stroke="#fff" stroke-opacity="0.09" stroke-width="0.6"/>
<line x1="471.40" y1="515.88" x2="606.80" y2="515.88" stroke="#fff" stroke-opacity="0.09" stroke-width="0.6"/>
<line x1="471.40" y1="527.15" x2="606.80" y2="527.15" stroke="#fff" stroke-opacity="0.09" stroke-width="0.6"/>
<line x1="471.40" y1="538.42" x2="606.80" y2="538.42" stroke="#fff" stroke-opacity="0.09" stroke-width="0.6"/>
<text x="111.00" y="217.00" font-size="12.2" fill="#1a1a1a" text-anchor="middle" >Cluster distribution of</text>
<text x="112.60" y="229.80" font-size="12.2" fill="#1a1a1a" text-anchor="middle" >expanded clones</text>
<text x="209.00" y="229.80" font-size="12.0" fill="#1a1a1a" text-anchor="middle" >Tissues</text>
<text x="281.10" y="230.20" font-size="12.0" fill="#1a1a1a" text-anchor="middle" >Ig isotypes</text>
<text x="394.60" y="230.20" font-size="12.0" fill="#1a1a1a" text-anchor="middle" >Mutation rates</text>
<text x="540.3" y="229.9" font-size="12" fill="#1a1a1a" text-anchor="middle"><tspan font-style="italic">Cd19</tspan> expression</text>
<text transform="translate(44.1,242.54) scale(1,1.14)" font-size="7.33" fill="#222222" text-anchor="end">ID 6564</text>
<text transform="translate(44.1,253.81) scale(1,1.14)" font-size="7.33" fill="#222222" text-anchor="end">ID 7567</text>
<text transform="translate(44.1,265.09) scale(1,1.14)" font-size="7.33" fill="#222222" text-anchor="end">ID 6676</text>
<text transform="translate(44.1,276.36) scale(1,1.14)" font-size="7.33" fill="#222222" text-anchor="end">ID 9484</text>
<text transform="translate(44.1,287.64) scale(1,1.14)" font-size="7.33" fill="#222222" text-anchor="end">ID 13863</text>
<text transform="translate(44.1,298.91) scale(1,1.14)" font-size="7.33" fill="#222222" text-anchor="end">ID 16568</text>
<text transform="translate(44.1,310.19) scale(1,1.14)" font-size="7.33" fill="#222222" text-anchor="end">ID 8874</text>
<text transform="translate(44.1,321.46) scale(1,1.14)" font-size="7.33" fill="#222222" text-anchor="end">ID 669</text>
<text transform="translate(44.1,332.74) scale(1,1.14)" font-size="7.33" fill="#222222" text-anchor="end">ID 1555</text>
<text transform="translate(44.1,344.01) scale(1,1.14)" font-size="7.33" fill="#222222" text-anchor="end">ID 14122</text>
<text transform="translate(44.1,355.29) scale(1,1.14)" font-size="7.33" fill="#222222" text-anchor="end">ID 6091</text>
<text transform="translate(44.1,366.56) scale(1,1.14)" font-size="7.33" fill="#222222" text-anchor="end">ID 7469</text>
<text transform="translate(44.1,377.84) scale(1,1.14)" font-size="7.33" fill="#222222" text-anchor="end">ID 4337</text>
<text transform="translate(44.1,389.11) scale(1,1.14)" font-size="7.33" fill="#222222" text-anchor="end">ID 2186</text>
<text transform="translate(44.1,400.39) scale(1,1.14)" font-size="7.33" fill="#222222" text-anchor="end">ID 16359</text>
<text transform="translate(44.1,411.66) scale(1,1.14)" font-size="7.33" fill="#222222" text-anchor="end">ID 8379</text>
<text transform="translate(44.1,422.94) scale(1,1.14)" font-size="7.33" fill="#222222" text-anchor="end">ID 7467</text>
<text transform="translate(44.1,434.21) scale(1,1.14)" font-size="7.33" fill="#222222" text-anchor="end">ID 12931</text>
<text transform="translate(44.1,445.49) scale(1,1.14)" font-size="7.33" fill="#222222" text-anchor="end">ID 466</text>
<text transform="translate(44.1,456.76) scale(1,1.14)" font-size="7.33" fill="#222222" text-anchor="end">ID 2670</text>
<text transform="translate(44.1,468.04) scale(1,1.14)" font-size="7.33" fill="#222222" text-anchor="end">ID 3585</text>
<text transform="translate(44.1,479.31) scale(1,1.14)" font-size="7.33" fill="#222222" text-anchor="end">ID 5765</text>
<text transform="translate(44.1,490.59) scale(1,1.14)" font-size="7.33" fill="#222222" text-anchor="end">ID 13905</text>
<text transform="translate(44.1,501.86) scale(1,1.14)" font-size="7.33" fill="#222222" text-anchor="end">ID 16657</text>
<text transform="translate(44.1,513.14) scale(1,1.14)" font-size="7.33" fill="#222222" text-anchor="end">ID 10769</text>
<text transform="translate(44.1,524.41) scale(1,1.14)" font-size="7.33" fill="#222222" text-anchor="end">ID 2656</text>
<text transform="translate(44.1,535.69) scale(1,1.14)" font-size="7.33" fill="#222222" text-anchor="end">ID 8345</text>
<text transform="translate(44.1,546.96) scale(1,1.14)" font-size="7.33" fill="#222222" text-anchor="end">ID 6328</text>
<text transform="translate(54.86,552.60) rotate(-90) scale(1.02,1.08)" font-size="9.6" fill="#333333" text-anchor="end">0</text>
<text transform="translate(65.27,552.60) rotate(-90) scale(1.02,1.08)" font-size="9.6" fill="#333333" text-anchor="end">1</text>
<text transform="translate(75.69,552.60) rotate(-90) scale(1.02,1.08)" font-size="9.6" fill="#333333" text-anchor="end">2</text>
<text transform="translate(86.10,552.60) rotate(-90) scale(1.02,1.08)" font-size="9.6" fill="#333333" text-anchor="end">3</text>
<text transform="translate(96.52,552.60) rotate(-90) scale(1.02,1.08)" font-size="9.6" fill="#333333" text-anchor="end">4</text>
<text transform="translate(106.93,552.60) rotate(-90) scale(1.02,1.08)" font-size="9.6" fill="#333333" text-anchor="end">5</text>
<text transform="translate(117.35,552.60) rotate(-90) scale(1.02,1.08)" font-size="9.6" fill="#333333" text-anchor="end">6</text>
<text transform="translate(127.77,552.60) rotate(-90) scale(1.02,1.08)" font-size="9.6" fill="#333333" text-anchor="end">7</text>
<text transform="translate(138.18,552.60) rotate(-90) scale(1.02,1.08)" font-size="9.6" fill="#333333" text-anchor="end">8</text>
<text transform="translate(148.60,552.60) rotate(-90) scale(1.02,1.08)" font-size="9.6" fill="#333333" text-anchor="end">9</text>
<text transform="translate(159.01,552.60) rotate(-90) scale(1.02,1.08)" font-size="9.6" fill="#333333" text-anchor="end">10</text>
<text transform="translate(169.43,552.60) rotate(-90) scale(1.02,1.08)" font-size="9.6" fill="#333333" text-anchor="end">11</text>
<text transform="translate(179.84,552.60) rotate(-90) scale(1.02,1.08)" font-size="9.6" fill="#333333" text-anchor="end">12</text>
<text transform="translate(335.45,552.60) rotate(-90) scale(1.02,1.08)" font-size="9.6" fill="#333333" text-anchor="end">0</text>
<text transform="translate(345.86,552.60) rotate(-90) scale(1.02,1.08)" font-size="9.6" fill="#333333" text-anchor="end">1</text>
<text transform="translate(356.27,552.60) rotate(-90) scale(1.02,1.08)" font-size="9.6" fill="#333333" text-anchor="end">2</text>
<text transform="translate(366.68,552.60) rotate(-90) scale(1.02,1.08)" font-size="9.6" fill="#333333" text-anchor="end">3</text>
<text transform="translate(377.08,552.60) rotate(-90) scale(1.02,1.08)" font-size="9.6" fill="#333333" text-anchor="end">4</text>
<text transform="translate(387.49,552.60) rotate(-90) scale(1.02,1.08)" font-size="9.6" fill="#333333" text-anchor="end">5</text>
<text transform="translate(397.90,552.60) rotate(-90) scale(1.02,1.08)" font-size="9.6" fill="#333333" text-anchor="end">6</text>
<text transform="translate(408.31,552.60) rotate(-90) scale(1.02,1.08)" font-size="9.6" fill="#333333" text-anchor="end">7</text>
<text transform="translate(418.72,552.60) rotate(-90) scale(1.02,1.08)" font-size="9.6" fill="#333333" text-anchor="end">8</text>
<text transform="translate(429.12,552.60) rotate(-90) scale(1.02,1.08)" font-size="9.6" fill="#333333" text-anchor="end">9</text>
<text transform="translate(439.53,552.60) rotate(-90) scale(1.02,1.08)" font-size="9.6" fill="#333333" text-anchor="end">10</text>
<text transform="translate(449.94,552.60) rotate(-90) scale(1.02,1.08)" font-size="9.6" fill="#333333" text-anchor="end">11</text>
<text transform="translate(460.35,552.60) rotate(-90) scale(1.02,1.08)" font-size="9.6" fill="#333333" text-anchor="end">12</text>
<text transform="translate(480.26,552.60) rotate(-90) scale(1.02,1.08)" font-size="9.6" fill="#333333" text-anchor="end">0</text>
<text transform="translate(490.67,552.60) rotate(-90) scale(1.02,1.08)" font-size="9.6" fill="#333333" text-anchor="end">1</text>
<text transform="translate(501.09,552.60) rotate(-90) scale(1.02,1.08)" font-size="9.6" fill="#333333" text-anchor="end">2</text>
<text transform="translate(511.50,552.60) rotate(-90) scale(1.02,1.08)" font-size="9.6" fill="#333333" text-anchor="end">3</text>
<text transform="translate(521.92,552.60) rotate(-90) scale(1.02,1.08)" font-size="9.6" fill="#333333" text-anchor="end">4</text>
<text transform="translate(532.33,552.60) rotate(-90) scale(1.02,1.08)" font-size="9.6" fill="#333333" text-anchor="end">5</text>
<text transform="translate(542.75,552.60) rotate(-90) scale(1.02,1.08)" font-size="9.6" fill="#333333" text-anchor="end">6</text>
<text transform="translate(553.17,552.60) rotate(-90) scale(1.02,1.08)" font-size="9.6" fill="#333333" text-anchor="end">7</text>
<text transform="translate(563.58,552.60) rotate(-90) scale(1.02,1.08)" font-size="9.6" fill="#333333" text-anchor="end">8</text>
<text transform="translate(574.00,552.60) rotate(-90) scale(1.02,1.08)" font-size="9.6" fill="#333333" text-anchor="end">9</text>
<text transform="translate(584.41,552.60) rotate(-90) scale(1.02,1.08)" font-size="9.6" fill="#333333" text-anchor="end">10</text>
<text transform="translate(594.83,552.60) rotate(-90) scale(1.02,1.08)" font-size="9.6" fill="#333333" text-anchor="end">11</text>
<text transform="translate(605.24,552.60) rotate(-90) scale(1.02,1.08)" font-size="9.6" fill="#333333" text-anchor="end">12</text>
<text transform="translate(191.64,552.60) rotate(-90) scale(1.02,1.08)" font-size="9.65" fill="#333333" text-anchor="end">BM</text>
<text transform="translate(202.02,552.60) rotate(-90) scale(1.02,1.08)" font-size="9.65" fill="#333333" text-anchor="end">Spleen</text>
<text transform="translate(212.40,552.60) rotate(-90) scale(1.02,1.08)" font-size="9.65" fill="#333333" text-anchor="end">BM</text>
<text transform="translate(222.78,552.60) rotate(-90) scale(1.02,1.08)" font-size="9.65" fill="#333333" text-anchor="end">Spleen</text>
<text transform="translate(233.16,552.60) rotate(-90) scale(1.02,1.08)" font-size="9.65" fill="#333333" text-anchor="end">Kidney</text>
<text transform="translate(253.07,552.60) rotate(-90) scale(1.02,1.08)" font-size="9.65" fill="#333333" text-anchor="end" font-style="italic">Igha</text>
<text transform="translate(263.51,552.60) rotate(-90) scale(1.02,1.08)" font-size="9.65" fill="#333333" text-anchor="end" font-style="italic">Ighg1</text>
<text transform="translate(273.96,552.60) rotate(-90) scale(1.02,1.08)" font-size="9.65" fill="#333333" text-anchor="end" font-style="italic">Ighg2b</text>
<text transform="translate(284.40,552.60) rotate(-90) scale(1.02,1.08)" font-size="9.65" fill="#333333" text-anchor="end" font-style="italic">Ighg2c</text>
<text transform="translate(294.84,552.60) rotate(-90) scale(1.02,1.08)" font-size="9.65" fill="#333333" text-anchor="end" font-style="italic">Ighg3</text>
<text transform="translate(305.29,552.60) rotate(-90) scale(1.02,1.08)" font-size="9.65" fill="#333333" text-anchor="end" font-style="italic">Ighm</text>
<text transform="translate(315.73,552.60) rotate(-90) scale(1.02,1.08)" font-size="9.65" fill="#333333" text-anchor="end" font-style="italic">NA</text>
<text x="116.50" y="575.60" font-size="12.0" fill="#1a1a1a" text-anchor="middle" >Cluster</text>
<text x="398.10" y="575.60" font-size="12.0" fill="#1a1a1a" text-anchor="middle" >Cluster</text>
<text x="544.20" y="575.60" font-size="12.0" fill="#1a1a1a" text-anchor="middle" >Cluster</text>
<line x1="183.2" y1="589.3" x2="201.6" y2="589.3" stroke="#333" stroke-width="0.9"/>
<line x1="204.7" y1="589.3" x2="234.5" y2="589.3" stroke="#333" stroke-width="0.9"/>
<text transform="translate(195.15,591.80) rotate(-90) scale(1.02,1.08)" font-size="9.65" fill="#333333" text-anchor="end">Healthy</text>
<text transform="translate(222.95,591.80) rotate(-90) scale(1.02,1.08)" font-size="9.65" fill="#333333" text-anchor="end">Sick</text>
<text x="641.80" y="274.50" font-size="7.33" fill="#1a1a1a" text-anchor="middle" >Abundance</text>
<text x="641.80" y="283.40" font-size="7.33" fill="#1a1a1a" text-anchor="middle" >(log1p-transformed)</text>
<text x="641.80" y="292.00" font-size="7.33" fill="#1a1a1a" text-anchor="middle" >in clusters</text>
<linearGradient id="g295" x1="0" x2="1" y1="0" y2="0"><stop offset="0.041" stop-color="#0b0405"/><stop offset="0.076" stop-color="#180d16"/><stop offset="0.112" stop-color="#251729"/><stop offset="0.148" stop-color="#30203e"/><stop offset="0.183" stop-color="#382a54"/><stop offset="0.219" stop-color="#3e356b"/><stop offset="0.255" stop-color="#413f80"/><stop offset="0.290" stop-color="#3e4d93"/><stop offset="0.326" stop-color="#395d9c"/><stop offset="0.362" stop-color="#366ca0"/><stop offset="0.397" stop-color="#357ba3"/><stop offset="0.433" stop-color="#3488a6"/><stop offset="0.469" stop-color="#3497a9"/><stop offset="0.504" stop-color="#37a5ac"/><stop offset="0.540" stop-color="#3eb4ad"/><stop offset="0.576" stop-color="#4bc2ad"/><stop offset="0.611" stop-color="#60ceac"/><stop offset="0.647" stop-color="#85d9b1"/><stop offset="0.683" stop-color="#a9e1bd"/><stop offset="0.718" stop-color="#c6ebd1"/><stop offset="0.754" stop-color="#def5e5"/><stop offset="1.000" stop-color="#def5e5"/></linearGradient>
<rect x="618.4" y="295.1" width="46.80" height="9.20" fill="url(#g295)"/>
<line x1="620.30" y1="295.1" x2="620.30" y2="296.90" stroke="#fff" stroke-width="0.6"/>
<line x1="620.30" y1="302.50" x2="620.30" y2="304.3" stroke="#fff" stroke-width="0.6"/>
<line x1="630.90" y1="295.1" x2="630.90" y2="296.90" stroke="#fff" stroke-width="0.6"/>
<line x1="630.90" y1="302.50" x2="630.90" y2="304.3" stroke="#fff" stroke-width="0.6"/>
<line x1="641.50" y1="295.1" x2="641.50" y2="296.90" stroke="#fff" stroke-width="0.6"/>
<line x1="641.50" y1="302.50" x2="641.50" y2="304.3" stroke="#fff" stroke-width="0.6"/>
<line x1="652.10" y1="295.1" x2="652.10" y2="296.90" stroke="#fff" stroke-width="0.6"/>
<line x1="652.10" y1="302.50" x2="652.10" y2="304.3" stroke="#fff" stroke-width="0.6"/>
<line x1="662.70" y1="295.1" x2="662.70" y2="296.90" stroke="#fff" stroke-width="0.6"/>
<line x1="662.70" y1="302.50" x2="662.70" y2="304.3" stroke="#fff" stroke-width="0.6"/>
<text x="620.30" y="311.50" font-size="7.33" fill="#333333" text-anchor="middle" >0</text>
<text x="630.90" y="311.50" font-size="7.33" fill="#333333" text-anchor="middle" >2</text>
<text x="641.50" y="311.50" font-size="7.33" fill="#333333" text-anchor="middle" >4</text>
<text x="652.10" y="311.50" font-size="7.33" fill="#333333" text-anchor="middle" >6</text>
<text x="662.70" y="311.50" font-size="7.33" fill="#333333" text-anchor="middle" >8</text>
<text x="641.80" y="326.60" font-size="7.33" fill="#1a1a1a" text-anchor="middle" >Abundance</text>
<text x="641.80" y="335.60" font-size="7.33" fill="#1a1a1a" text-anchor="middle" >(log1p-transformed)</text>
<text x="641.80" y="344.90" font-size="7.33" fill="#1a1a1a" text-anchor="middle" >in condition</text>
<linearGradient id="g347" x1="0" x2="1" y1="0" y2="0"><stop offset="0.041" stop-color="#0b0405"/><stop offset="0.076" stop-color="#180d16"/><stop offset="0.112" stop-color="#251729"/><stop offset="0.148" stop-color="#30203e"/><stop offset="0.183" stop-color="#382a54"/><stop offset="0.219" stop-color="#3e356b"/><stop offset="0.255" stop-color="#413f80"/><stop offset="0.290" stop-color="#3e4d93"/><stop offset="0.326" stop-color="#395d9c"/><stop offset="0.362" stop-color="#366ca0"/><stop offset="0.397" stop-color="#357ba3"/><stop offset="0.433" stop-color="#3488a6"/><stop offset="0.469" stop-color="#3497a9"/><stop offset="0.504" stop-color="#37a5ac"/><stop offset="0.540" stop-color="#3eb4ad"/><stop offset="0.576" stop-color="#4bc2ad"/><stop offset="0.611" stop-color="#60ceac"/><stop offset="0.647" stop-color="#85d9b1"/><stop offset="0.683" stop-color="#a9e1bd"/><stop offset="0.718" stop-color="#c6ebd1"/><stop offset="0.754" stop-color="#def5e5"/><stop offset="1.000" stop-color="#def5e5"/></linearGradient>
<rect x="618.4" y="347.9" width="46.80" height="9.20" fill="url(#g347)"/>
<line x1="620.30" y1="347.9" x2="620.30" y2="349.70" stroke="#fff" stroke-width="0.6"/>
<line x1="620.30" y1="355.30" x2="620.30" y2="357.09999999999997" stroke="#fff" stroke-width="0.6"/>
<line x1="630.90" y1="347.9" x2="630.90" y2="349.70" stroke="#fff" stroke-width="0.6"/>
<line x1="630.90" y1="355.30" x2="630.90" y2="357.09999999999997" stroke="#fff" stroke-width="0.6"/>
<line x1="641.50" y1="347.9" x2="641.50" y2="349.70" stroke="#fff" stroke-width="0.6"/>
<line x1="641.50" y1="355.30" x2="641.50" y2="357.09999999999997" stroke="#fff" stroke-width="0.6"/>
<line x1="652.10" y1="347.9" x2="652.10" y2="349.70" stroke="#fff" stroke-width="0.6"/>
<line x1="652.10" y1="355.30" x2="652.10" y2="357.09999999999997" stroke="#fff" stroke-width="0.6"/>
<line x1="662.70" y1="347.9" x2="662.70" y2="349.70" stroke="#fff" stroke-width="0.6"/>
<line x1="662.70" y1="355.30" x2="662.70" y2="357.09999999999997" stroke="#fff" stroke-width="0.6"/>
<text x="620.30" y="364.30" font-size="7.33" fill="#333333" text-anchor="middle" >0</text>
<text x="630.90" y="364.30" font-size="7.33" fill="#333333" text-anchor="middle" >2</text>
<text x="641.50" y="364.30" font-size="7.33" fill="#333333" text-anchor="middle" >4</text>
<text x="652.10" y="364.30" font-size="7.33" fill="#333333" text-anchor="middle" >6</text>
<text x="662.70" y="364.30" font-size="7.33" fill="#333333" text-anchor="middle" >8</text>
<text x="641.80" y="383.20" font-size="7.33" fill="#1a1a1a" text-anchor="middle" >Abundance</text>
<text x="641.80" y="392.20" font-size="7.33" fill="#1a1a1a" text-anchor="middle" >(log1p-transformed)</text>
<text x="641.80" y="401.10" font-size="7.33" fill="#1a1a1a" text-anchor="middle" >of isotype</text>
<linearGradient id="g404" x1="0" x2="1" y1="0" y2="0"><stop offset="0.041" stop-color="#0b0405"/><stop offset="0.076" stop-color="#180d16"/><stop offset="0.112" stop-color="#251729"/><stop offset="0.148" stop-color="#30203e"/><stop offset="0.183" stop-color="#382a54"/><stop offset="0.219" stop-color="#3e356b"/><stop offset="0.255" stop-color="#413f80"/><stop offset="0.290" stop-color="#3e4d93"/><stop offset="0.326" stop-color="#395d9c"/><stop offset="0.362" stop-color="#366ca0"/><stop offset="0.397" stop-color="#357ba3"/><stop offset="0.433" stop-color="#3488a6"/><stop offset="0.469" stop-color="#3497a9"/><stop offset="0.504" stop-color="#37a5ac"/><stop offset="0.540" stop-color="#3eb4ad"/><stop offset="0.576" stop-color="#4bc2ad"/><stop offset="0.611" stop-color="#60ceac"/><stop offset="0.647" stop-color="#85d9b1"/><stop offset="0.683" stop-color="#a9e1bd"/><stop offset="0.718" stop-color="#c6ebd1"/><stop offset="0.754" stop-color="#def5e5"/><stop offset="1.000" stop-color="#def5e5"/></linearGradient>
<rect x="618.4" y="404.2" width="46.80" height="9.20" fill="url(#g404)"/>
<line x1="620.30" y1="404.2" x2="620.30" y2="406.00" stroke="#fff" stroke-width="0.6"/>
<line x1="620.30" y1="411.60" x2="620.30" y2="413.4" stroke="#fff" stroke-width="0.6"/>
<line x1="630.90" y1="404.2" x2="630.90" y2="406.00" stroke="#fff" stroke-width="0.6"/>
<line x1="630.90" y1="411.60" x2="630.90" y2="413.4" stroke="#fff" stroke-width="0.6"/>
<line x1="641.50" y1="404.2" x2="641.50" y2="406.00" stroke="#fff" stroke-width="0.6"/>
<line x1="641.50" y1="411.60" x2="641.50" y2="413.4" stroke="#fff" stroke-width="0.6"/>
<line x1="652.10" y1="404.2" x2="652.10" y2="406.00" stroke="#fff" stroke-width="0.6"/>
<line x1="652.10" y1="411.60" x2="652.10" y2="413.4" stroke="#fff" stroke-width="0.6"/>
<line x1="662.70" y1="404.2" x2="662.70" y2="406.00" stroke="#fff" stroke-width="0.6"/>
<line x1="662.70" y1="411.60" x2="662.70" y2="413.4" stroke="#fff" stroke-width="0.6"/>
<text x="620.30" y="420.60" font-size="7.33" fill="#333333" text-anchor="middle" >0</text>
<text x="630.90" y="420.60" font-size="7.33" fill="#333333" text-anchor="middle" >2</text>
<text x="641.50" y="420.60" font-size="7.33" fill="#333333" text-anchor="middle" >4</text>
<text x="652.10" y="420.60" font-size="7.33" fill="#333333" text-anchor="middle" >6</text>
<text x="662.70" y="420.60" font-size="7.33" fill="#333333" text-anchor="middle" >8</text>
<text x="645.80" y="438.40" font-size="7.33" fill="#1a1a1a" text-anchor="middle" >Median mutation</text>
<text x="645.80" y="446.60" font-size="7.33" fill="#1a1a1a" text-anchor="middle" >frequency</text>
<linearGradient id="gr1" x1="0" x2="1" y1="0" y2="0"><stop offset="0.000" stop-color="#03051a"/><stop offset="0.050" stop-color="#130d25"/><stop offset="0.100" stop-color="#251433"/><stop offset="0.150" stop-color="#381a40"/><stop offset="0.200" stop-color="#4c1d4b"/><stop offset="0.250" stop-color="#611f53"/><stop offset="0.300" stop-color="#751f58"/><stop offset="0.350" stop-color="#8b1d5b"/><stop offset="0.400" stop-color="#a11a5b"/><stop offset="0.450" stop-color="#b71657"/><stop offset="0.500" stop-color="#cb1b4f"/><stop offset="0.550" stop-color="#db2946"/><stop offset="0.600" stop-color="#e83f3f"/><stop offset="0.650" stop-color="#ef5840"/><stop offset="0.700" stop-color="#f3714d"/><stop offset="0.750" stop-color="#f58860"/><stop offset="0.800" stop-color="#f69c73"/><stop offset="0.850" stop-color="#f6b18b"/><stop offset="0.900" stop-color="#f7c6a6"/><stop offset="0.950" stop-color="#f8d9c3"/><stop offset="1.000" stop-color="#faebdd"/></linearGradient>
<rect x="611.0" y="450.4" width="69.80" height="9.20" fill="url(#gr1)"/>
<line x1="613.50" y1="450.4" x2="613.50" y2="452.20" stroke="#fff" stroke-width="0.6"/>
<line x1="613.50" y1="457.80" x2="613.50" y2="459.6" stroke="#fff" stroke-width="0.6"/>
<line x1="634.96" y1="450.4" x2="634.96" y2="452.20" stroke="#fff" stroke-width="0.6"/>
<line x1="634.96" y1="457.80" x2="634.96" y2="459.6" stroke="#fff" stroke-width="0.6"/>
<line x1="656.42" y1="450.4" x2="656.42" y2="452.20" stroke="#fff" stroke-width="0.6"/>
<line x1="656.42" y1="457.80" x2="656.42" y2="459.6" stroke="#fff" stroke-width="0.6"/>
<line x1="677.88" y1="450.4" x2="677.88" y2="452.20" stroke="#fff" stroke-width="0.6"/>
<line x1="677.88" y1="457.80" x2="677.88" y2="459.6" stroke="#fff" stroke-width="0.6"/>
<text x="613.50" y="468.60" font-size="7.33" fill="#333333" text-anchor="middle" >0</text>
<text x="634.96" y="468.60" font-size="7.33" fill="#333333" text-anchor="middle" >0.02</text>
<text x="656.42" y="468.60" font-size="7.33" fill="#333333" text-anchor="middle" >0.04</text>
<text x="677.88" y="468.60" font-size="7.33" fill="#333333" text-anchor="middle" >0.06</text>
<text x="643" y="489.0" font-size="7.33" fill="#1a1a1a" text-anchor="middle" font-style="italic">Mean Cd19</text>
<text x="643.70" y="497.90" font-size="7.33" fill="#1a1a1a" text-anchor="middle" >expression</text>
<linearGradient id="gg1" x1="0" x2="1" y1="0" y2="0"><stop offset="0.000" stop-color="#04051a"/><stop offset="0.080" stop-color="#061a14"/><stop offset="0.200" stop-color="#0a4a2c"/><stop offset="0.330" stop-color="#0b8a4b"/><stop offset="0.420" stop-color="#19a05c"/><stop offset="0.600" stop-color="#6ccf98"/><stop offset="0.720" stop-color="#b7edcd"/><stop offset="1.000" stop-color="#c6f4d9"/></linearGradient>
<rect x="618.4" y="500.7" width="50.60" height="9.00" fill="url(#gg1)"/>
<line x1="620.20" y1="500.7" x2="620.20" y2="502.50" stroke="#fff" stroke-width="0.6"/>
<line x1="620.20" y1="507.90" x2="620.20" y2="509.7" stroke="#fff" stroke-width="0.6"/>
<line x1="635.90" y1="500.7" x2="635.90" y2="502.50" stroke="#fff" stroke-width="0.6"/>
<line x1="635.90" y1="507.90" x2="635.90" y2="509.7" stroke="#fff" stroke-width="0.6"/>
<line x1="651.60" y1="500.7" x2="651.60" y2="502.50" stroke="#fff" stroke-width="0.6"/>
<line x1="651.60" y1="507.90" x2="651.60" y2="509.7" stroke="#fff" stroke-width="0.6"/>
<line x1="667.30" y1="500.7" x2="667.30" y2="502.50" stroke="#fff" stroke-width="0.6"/>
<line x1="667.30" y1="507.90" x2="667.30" y2="509.7" stroke="#fff" stroke-width="0.6"/>
<text x="620.20" y="518.80" font-size="7.33" fill="#333333" text-anchor="middle" >0</text>
<text x="635.90" y="518.80" font-size="7.33" fill="#333333" text-anchor="middle" >0.5</text>
<text x="651.60" y="518.80" font-size="7.33" fill="#333333" text-anchor="middle" >1</text>
<text x="667.30" y="518.80" font-size="7.33" fill="#333333" text-anchor="middle" >1.5</text>
<line x1="0.60" y1="249.50" x2="0.60" y2="397.22" stroke="#262626" stroke-width="0.75"/>
<line x1="0.25" y1="249.50" x2="4.20" y2="249.50" stroke="#262626" stroke-width="0.75"/>
<line x1="4.20" y1="239.64" x2="4.20" y2="259.37" stroke="#262626" stroke-width="0.75"/>
<line x1="3.85" y1="239.64" x2="13.80" y2="239.64" stroke="#262626" stroke-width="0.75"/>
<line x1="3.85" y1="259.37" x2="9.10" y2="259.37" stroke="#262626" stroke-width="0.75"/>
<line x1="9.10" y1="250.91" x2="9.10" y2="267.82" stroke="#262626" stroke-width="0.75"/>
<line x1="8.75" y1="250.91" x2="13.80" y2="250.91" stroke="#262626" stroke-width="0.75"/>
<line x1="8.75" y1="267.82" x2="11.00" y2="267.82" stroke="#262626" stroke-width="0.75"/>
<line x1="11.00" y1="262.19" x2="11.00" y2="273.46" stroke="#262626" stroke-width="0.75"/>
<line x1="10.65" y1="262.19" x2="13.80" y2="262.19" stroke="#262626" stroke-width="0.75"/>
<line x1="10.65" y1="273.46" x2="13.80" y2="273.46" stroke="#262626" stroke-width="0.75"/>
<line x1="0.25" y1="397.22" x2="2.80" y2="397.22" stroke="#262626" stroke-width="0.75"/>
<line x1="2.80" y1="331.95" x2="2.80" y2="462.49" stroke="#262626" stroke-width="0.75"/>
<line x1="2.45" y1="331.95" x2="6.25" y2="331.95" stroke="#262626" stroke-width="0.75"/>
<line x1="6.25" y1="290.38" x2="6.25" y2="373.53" stroke="#262626" stroke-width="0.75"/>
<line x1="5.90" y1="290.38" x2="10.60" y2="290.38" stroke="#262626" stroke-width="0.75"/>
<line x1="10.60" y1="284.74" x2="10.60" y2="296.01" stroke="#262626" stroke-width="0.75"/>
<line x1="10.25" y1="284.74" x2="13.00" y2="284.74" stroke="#262626" stroke-width="0.75"/>
<line x1="10.25" y1="296.01" x2="13.00" y2="296.01" stroke="#262626" stroke-width="0.75"/>
<line x1="5.90" y1="373.53" x2="6.80" y2="373.53" stroke="#262626" stroke-width="0.75"/>
<line x1="6.80" y1="335.47" x2="6.80" y2="411.58" stroke="#262626" stroke-width="0.75"/>
<line x1="6.45" y1="335.47" x2="8.00" y2="335.47" stroke="#262626" stroke-width="0.75"/>
<line x1="8.00" y1="315.74" x2="8.00" y2="355.21" stroke="#262626" stroke-width="0.75"/>
<line x1="7.65" y1="315.74" x2="10.10" y2="315.74" stroke="#262626" stroke-width="0.75"/>
<line x1="10.10" y1="307.29" x2="10.10" y2="324.20" stroke="#262626" stroke-width="0.75"/>
<line x1="9.75" y1="307.29" x2="13.80" y2="307.29" stroke="#262626" stroke-width="0.75"/>
<line x1="9.75" y1="324.20" x2="11.30" y2="324.20" stroke="#262626" stroke-width="0.75"/>
<line x1="11.30" y1="318.56" x2="11.30" y2="329.84" stroke="#262626" stroke-width="0.75"/>
<line x1="10.95" y1="318.56" x2="13.80" y2="318.56" stroke="#262626" stroke-width="0.75"/>
<line x1="10.95" y1="329.84" x2="13.80" y2="329.84" stroke="#262626" stroke-width="0.75"/>
<line x1="7.65" y1="355.21" x2="9.00" y2="355.21" stroke="#262626" stroke-width="0.75"/>
<line x1="9.00" y1="341.11" x2="9.00" y2="369.30" stroke="#262626" stroke-width="0.75"/>
<line x1="8.65" y1="341.11" x2="13.00" y2="341.11" stroke="#262626" stroke-width="0.75"/>
<line x1="8.65" y1="369.30" x2="11.00" y2="369.30" stroke="#262626" stroke-width="0.75"/>
<line x1="11.00" y1="358.02" x2="11.00" y2="380.57" stroke="#262626" stroke-width="0.75"/>
<line x1="10.65" y1="358.02" x2="12.00" y2="358.02" stroke="#262626" stroke-width="0.75"/>
<line x1="12.00" y1="352.39" x2="12.00" y2="363.66" stroke="#262626" stroke-width="0.75"/>
<line x1="11.65" y1="352.39" x2="13.80" y2="352.39" stroke="#262626" stroke-width="0.75"/>
<line x1="11.65" y1="363.66" x2="13.80" y2="363.66" stroke="#262626" stroke-width="0.75"/>
<line x1="10.65" y1="380.57" x2="12.20" y2="380.57" stroke="#262626" stroke-width="0.75"/>
<line x1="12.20" y1="374.94" x2="12.20" y2="386.21" stroke="#262626" stroke-width="0.75"/>
<line x1="11.85" y1="374.94" x2="13.80" y2="374.94" stroke="#262626" stroke-width="0.75"/>
<line x1="11.85" y1="386.21" x2="13.80" y2="386.21" stroke="#262626" stroke-width="0.75"/>
<line x1="6.45" y1="411.58" x2="8.50" y2="411.58" stroke="#262626" stroke-width="0.75"/>
<line x1="8.50" y1="403.12" x2="8.50" y2="420.04" stroke="#262626" stroke-width="0.75"/>
<line x1="8.15" y1="403.12" x2="12.00" y2="403.12" stroke="#262626" stroke-width="0.75"/>
<line x1="12.00" y1="397.49" x2="12.00" y2="408.76" stroke="#262626" stroke-width="0.75"/>
<line x1="11.65" y1="397.49" x2="13.00" y2="397.49" stroke="#262626" stroke-width="0.75"/>
<line x1="11.65" y1="408.76" x2="13.80" y2="408.76" stroke="#262626" stroke-width="0.75"/>
<line x1="8.15" y1="420.04" x2="13.80" y2="420.04" stroke="#262626" stroke-width="0.75"/>
<line x1="2.45" y1="462.49" x2="6.50" y2="462.49" stroke="#262626" stroke-width="0.75"/>
<line x1="6.50" y1="431.31" x2="6.50" y2="493.68" stroke="#262626" stroke-width="0.75"/>
<line x1="6.15" y1="431.31" x2="13.00" y2="431.31" stroke="#262626" stroke-width="0.75"/>
<line x1="6.15" y1="493.68" x2="6.00" y2="493.68" stroke="#262626" stroke-width="0.75"/>
<line x1="6.00" y1="460.91" x2="6.00" y2="526.45" stroke="#262626" stroke-width="0.75"/>
<line x1="5.65" y1="460.91" x2="10.00" y2="460.91" stroke="#262626" stroke-width="0.75"/>
<line x1="10.00" y1="448.23" x2="10.00" y2="473.59" stroke="#262626" stroke-width="0.75"/>
<line x1="9.65" y1="448.23" x2="12.00" y2="448.23" stroke="#262626" stroke-width="0.75"/>
<line x1="12.00" y1="442.59" x2="12.00" y2="453.86" stroke="#262626" stroke-width="0.75"/>
<line x1="11.65" y1="442.59" x2="13.80" y2="442.59" stroke="#262626" stroke-width="0.75"/>
<line x1="11.65" y1="453.86" x2="13.80" y2="453.86" stroke="#262626" stroke-width="0.75"/>
<line x1="9.65" y1="473.59" x2="10.50" y2="473.59" stroke="#262626" stroke-width="0.75"/>
<line x1="10.50" y1="465.14" x2="10.50" y2="482.05" stroke="#262626" stroke-width="0.75"/>
<line x1="10.15" y1="465.14" x2="13.80" y2="465.14" stroke="#262626" stroke-width="0.75"/>
<line x1="10.15" y1="482.05" x2="11.50" y2="482.05" stroke="#262626" stroke-width="0.75"/>
<line x1="11.50" y1="476.41" x2="11.50" y2="487.69" stroke="#262626" stroke-width="0.75"/>
<line x1="11.15" y1="476.41" x2="13.80" y2="476.41" stroke="#262626" stroke-width="0.75"/>
<line x1="11.15" y1="487.69" x2="13.00" y2="487.69" stroke="#262626" stroke-width="0.75"/>
<line x1="5.65" y1="526.45" x2="8.40" y2="526.45" stroke="#262626" stroke-width="0.75"/>
<line x1="8.40" y1="508.83" x2="8.40" y2="544.06" stroke="#262626" stroke-width="0.75"/>
<line x1="8.05" y1="508.83" x2="9.00" y2="508.83" stroke="#262626" stroke-width="0.75"/>
<line x1="9.00" y1="498.96" x2="9.00" y2="518.69" stroke="#262626" stroke-width="0.75"/>
<line x1="8.65" y1="498.96" x2="13.00" y2="498.96" stroke="#262626" stroke-width="0.75"/>
<line x1="8.65" y1="518.69" x2="10.20" y2="518.69" stroke="#262626" stroke-width="0.75"/>
<line x1="10.20" y1="510.24" x2="10.20" y2="527.15" stroke="#262626" stroke-width="0.75"/>
<line x1="9.85" y1="510.24" x2="13.00" y2="510.24" stroke="#262626" stroke-width="0.75"/>
<line x1="9.85" y1="527.15" x2="11.00" y2="527.15" stroke="#262626" stroke-width="0.75"/>
<line x1="11.00" y1="521.51" x2="11.00" y2="532.79" stroke="#262626" stroke-width="0.75"/>
<line x1="10.65" y1="521.51" x2="13.80" y2="521.51" stroke="#262626" stroke-width="0.75"/>
<line x1="10.65" y1="532.79" x2="13.80" y2="532.79" stroke="#262626" stroke-width="0.75"/>
<line x1="8.05" y1="544.06" x2="13.80" y2="544.06" stroke="#262626" stroke-width="0.75"/>
</svg></body></html>
